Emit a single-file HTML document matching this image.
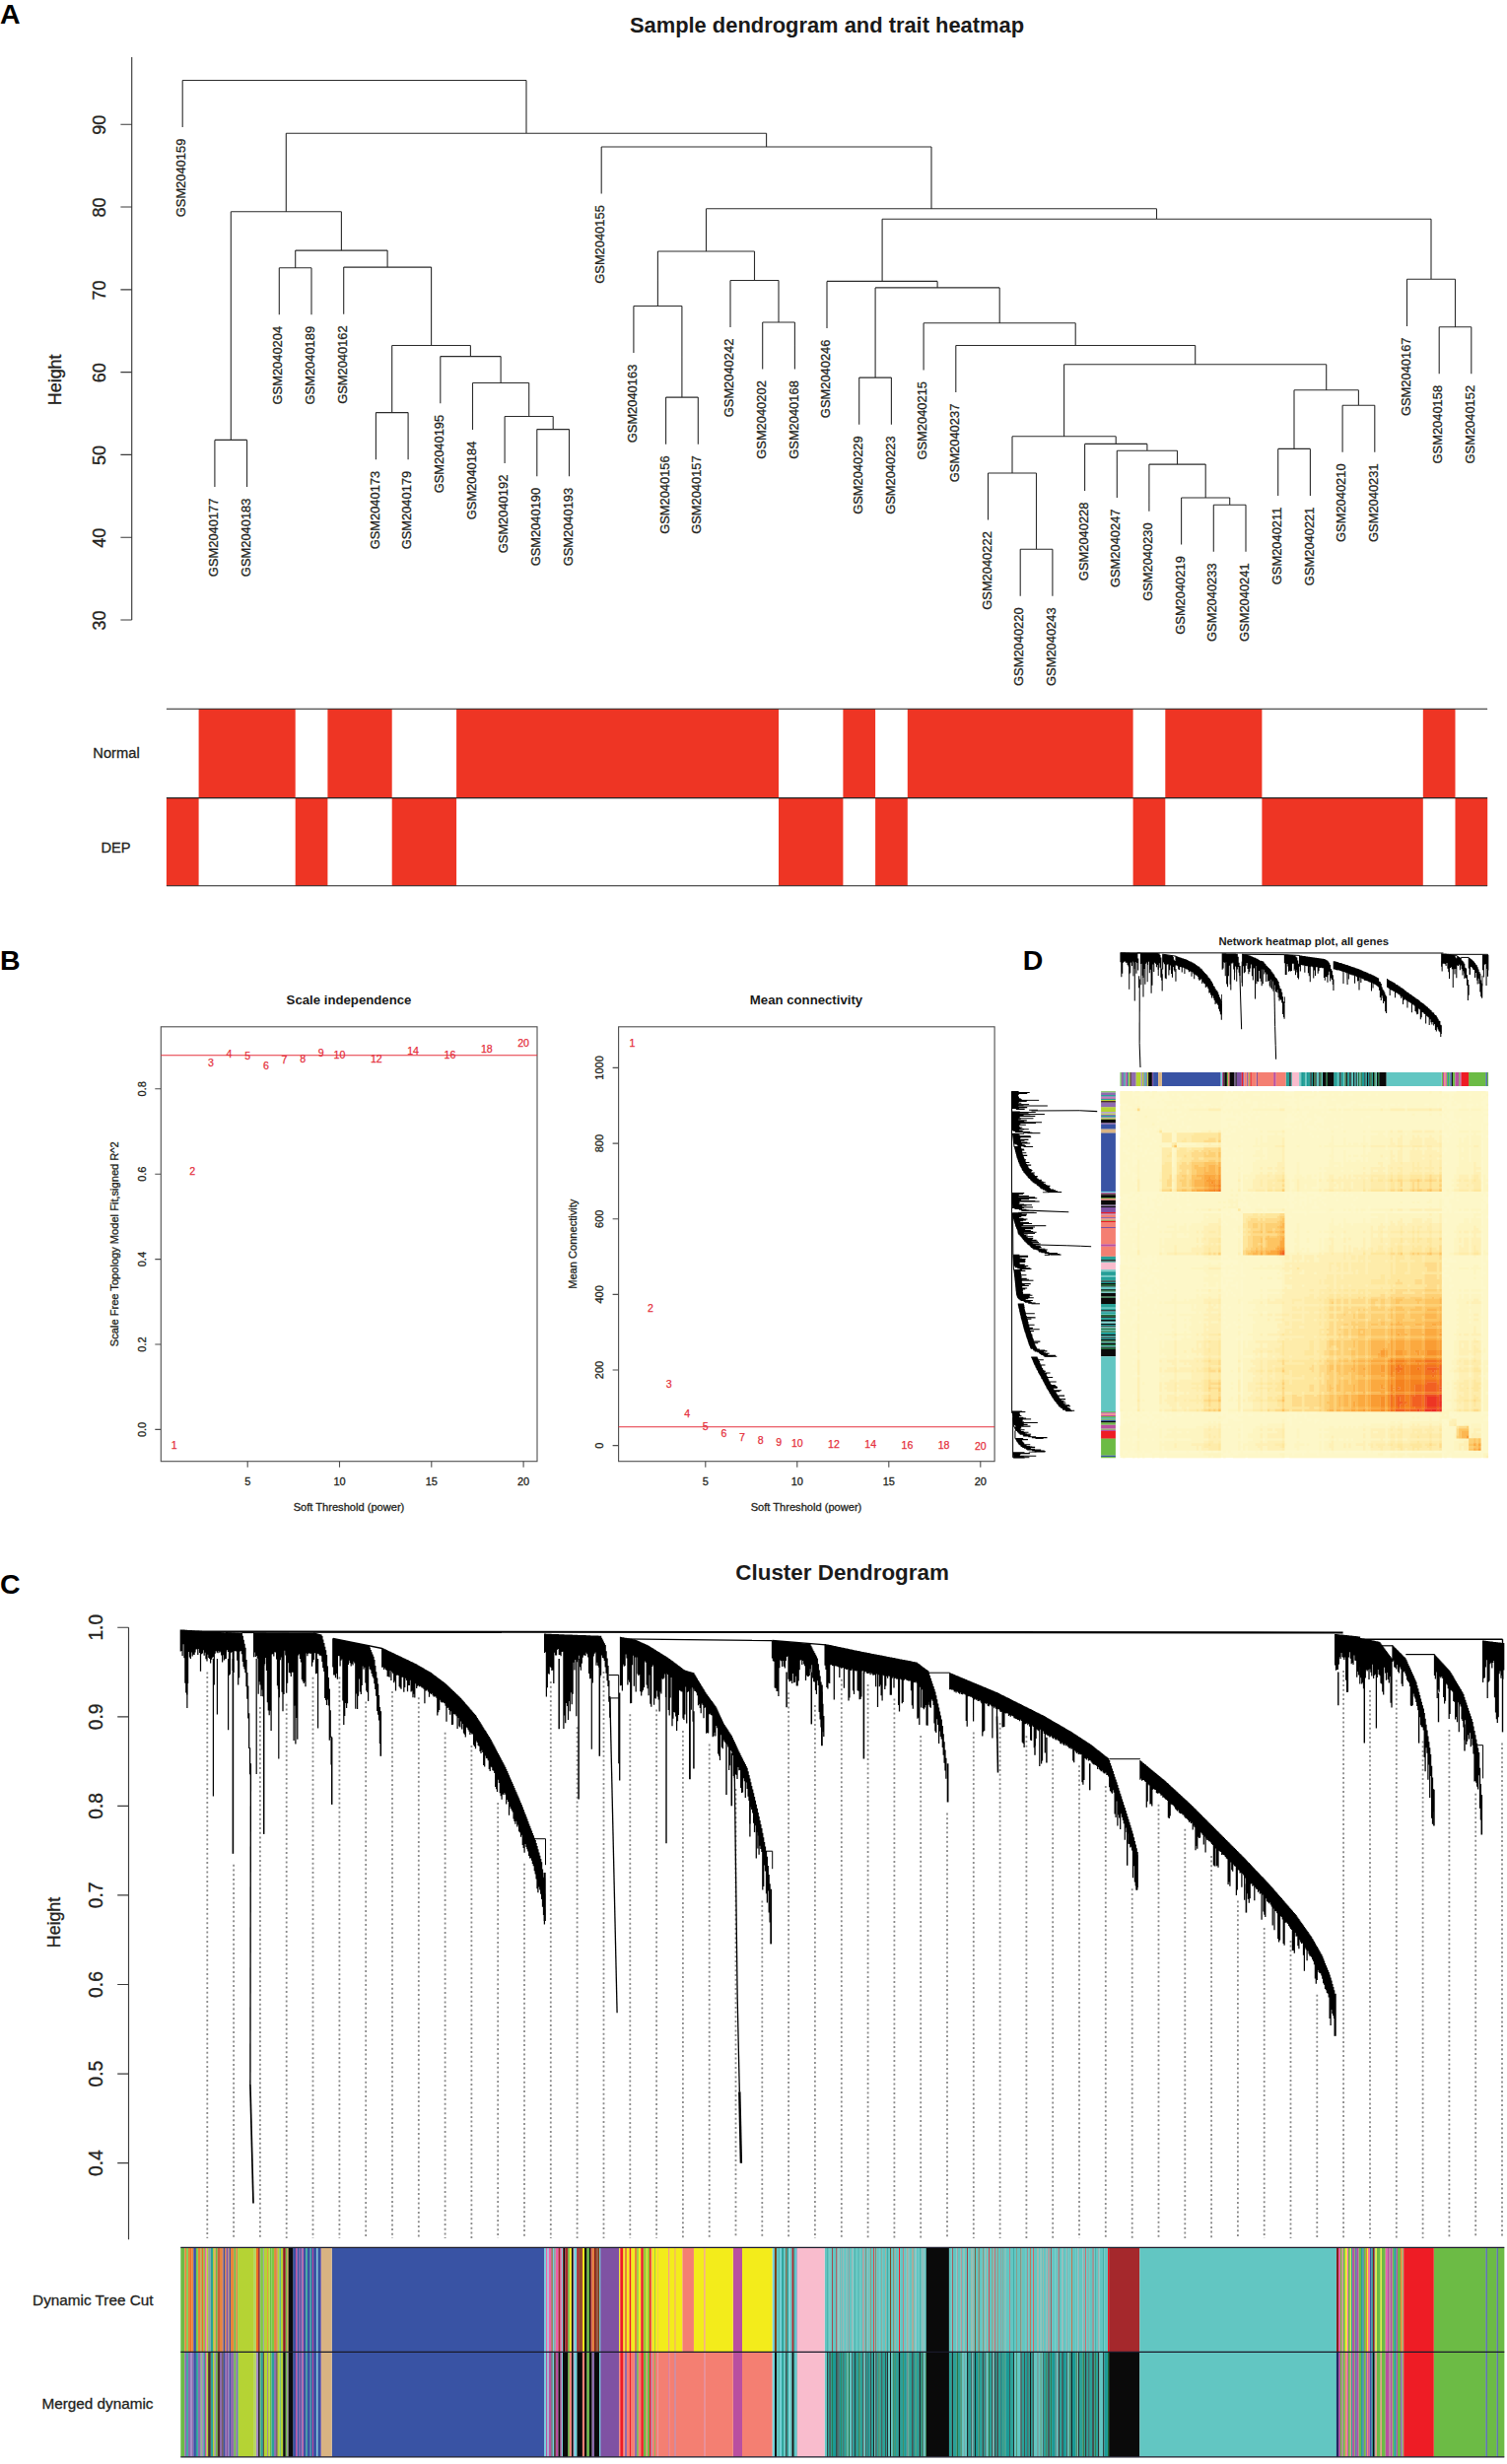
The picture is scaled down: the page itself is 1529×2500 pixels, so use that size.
<!DOCTYPE html>
<html lang="en"><head><meta charset="utf-8"><title>WGCNA figure</title>
<style>html,body{margin:0;padding:0;background:#fff}svg{display:block}text{font-family:"Liberation Sans", Arial, Helvetica, sans-serif}</style></head><body>
<svg width="1529" height="2500" viewBox="0 0 1529 2500">
<rect width="1529" height="2500" fill="#fff"/>
<g id="panelA">
<text x="0.0" y="23.9" font-size="28.5" text-anchor="start" font-weight="bold" fill="#000">A</text>
<text x="839.0" y="33.2" font-size="21.9" text-anchor="middle" font-weight="bold" fill="#1a1a1a">Sample dendrogram and trait heatmap</text>
<path d="M133.7 58V629.0M133.7 629.0h-11.3M133.7 545.2h-11.3M133.7 461.4h-11.3M133.7 377.6h-11.3M133.7 293.8h-11.3M133.7 210.0h-11.3M133.7 126.2h-11.3" stroke="#3a3a3a" stroke-width="1.15" fill="none"/>
<text x="107.3" y="629.6" font-size="18.0" text-anchor="middle" stroke="#231f20" stroke-width="0.3" transform="rotate(-90 107.3 629.6)" fill="#231f20">30</text>
<text x="107.3" y="545.8" font-size="18.0" text-anchor="middle" stroke="#231f20" stroke-width="0.3" transform="rotate(-90 107.3 545.8)" fill="#231f20">40</text>
<text x="107.3" y="462.0" font-size="18.0" text-anchor="middle" stroke="#231f20" stroke-width="0.3" transform="rotate(-90 107.3 462.0)" fill="#231f20">50</text>
<text x="107.3" y="378.2" font-size="18.0" text-anchor="middle" stroke="#231f20" stroke-width="0.3" transform="rotate(-90 107.3 378.2)" fill="#231f20">60</text>
<text x="107.3" y="294.4" font-size="18.0" text-anchor="middle" stroke="#231f20" stroke-width="0.3" transform="rotate(-90 107.3 294.4)" fill="#231f20">70</text>
<text x="107.3" y="210.6" font-size="18.0" text-anchor="middle" stroke="#231f20" stroke-width="0.3" transform="rotate(-90 107.3 210.6)" fill="#231f20">80</text>
<text x="107.3" y="126.8" font-size="18.0" text-anchor="middle" stroke="#231f20" stroke-width="0.3" transform="rotate(-90 107.3 126.8)" fill="#231f20">90</text>
<text x="62.2" y="385.3" font-size="17.9" text-anchor="middle" stroke="#231f20" stroke-width="0.3" transform="rotate(-90 62.2 385.3)" fill="#231f20">Height</text>
<path d="M185.2 81.5V129.1M217.9 446.4V494.0M250.6 446.4V494.0M217.9 446.4H250.6M234.3 214.7V446.4M283.3 271.7V319.3M316.0 271.7V319.3M283.3 271.7H316.0M299.7 254.1V271.7M348.7 271.1V318.7M381.4 418.6V466.2M414.1 418.6V466.2M381.4 418.6H414.1M397.7 350.5V418.6M446.8 361.6V409.2M479.5 388.5V436.1M512.1 422.5V470.1M544.8 435.6V483.2M577.5 435.6V483.2M544.8 435.6H577.5M561.2 422.5V435.6M512.1 422.5H561.2M536.7 388.5V422.5M479.5 388.5H536.7M508.1 361.6V388.5M446.8 361.6H508.1M477.4 350.5V361.6M397.7 350.5H477.4M437.6 271.1V350.5M348.7 271.1H437.6M393.1 254.1V271.1M299.7 254.1H393.1M346.4 214.7V254.1M234.3 214.7H346.4M290.3 135.2V214.7M610.2 149.0V196.6M642.9 310.5V358.1M675.6 403.1V450.7M708.3 403.1V450.7M675.6 403.1H708.3M691.9 310.5V403.1M642.9 310.5H691.9M667.4 255.0V310.5M741.0 284.5V332.1M773.7 327.0V374.6M806.4 327.0V374.6M773.7 327.0H806.4M790.0 284.5V327.0M741.0 284.5H790.0M765.5 255.0V284.5M667.4 255.0H765.5M716.5 211.7V255.0M839.0 285.4V333.0M871.7 383.1V430.7M904.4 383.1V430.7M871.7 383.1H904.4M888.1 291.9V383.1M937.1 327.8V375.4M969.8 350.5V398.1M1002.5 480.0V527.6M1035.2 557.2V604.8M1067.9 557.2V604.8M1035.2 557.2H1067.9M1051.5 480.0V557.2M1002.5 480.0H1051.5M1027.0 442.7V480.0M1100.6 450.4V498.0M1133.3 457.3V504.9M1165.9 471.1V518.7M1198.6 505.0V552.6M1231.3 512.2V559.8M1264.0 512.2V559.8M1231.3 512.2H1264.0M1247.7 505.0V512.2M1198.6 505.0H1247.7M1223.2 471.1V505.0M1165.9 471.1H1223.2M1194.5 457.3V471.1M1133.3 457.3H1194.5M1163.9 450.4V457.3M1100.6 450.4H1163.9M1132.2 442.7V450.4M1027.0 442.7H1132.2M1079.6 369.7V442.7M1296.7 455.4V503.0M1329.4 455.4V503.0M1296.7 455.4H1329.4M1313.0 395.8V455.4M1362.1 411.2V458.8M1394.8 411.2V458.8M1362.1 411.2H1394.8M1378.4 395.8V411.2M1313.0 395.8H1378.4M1345.7 369.7V395.8M1079.6 369.7H1345.7M1212.7 350.5V369.7M969.8 350.5H1212.7M1091.2 327.8V350.5M937.1 327.8H1091.2M1014.2 291.9V327.8M888.1 291.9H1014.2M951.1 285.4V291.9M839.0 285.4H951.1M895.1 222.2V285.4M1427.5 283.3V330.9M1460.2 331.7V379.3M1492.8 331.7V379.3M1460.2 331.7H1492.8M1476.5 283.3V331.7M1427.5 283.3H1476.5M1452.0 222.2V283.3M895.1 222.2H1452.0M1173.5 211.7V222.2M716.5 211.7H1173.5M945.0 149.0V211.7M610.2 149.0H945.0M777.6 135.2V149.0M290.3 135.2H777.6M534.0 81.5V135.2M185.2 81.5H534.0" stroke="#2b2b2b" stroke-width="1.1" fill="none"/>
<g font-size="12.9" text-anchor="end" fill="#231f20" stroke="#231f20" stroke-width="0.3">
<text transform="translate(188.3 140.7) rotate(-90)">GSM2040159</text>
<text transform="translate(221.0 505.6) rotate(-90)">GSM2040177</text>
<text transform="translate(253.7 505.6) rotate(-90)">GSM2040183</text>
<text transform="translate(286.4 330.9) rotate(-90)">GSM2040204</text>
<text transform="translate(319.1 330.9) rotate(-90)">GSM2040189</text>
<text transform="translate(351.8 330.3) rotate(-90)">GSM2040162</text>
<text transform="translate(384.5 477.8) rotate(-90)">GSM2040173</text>
<text transform="translate(417.2 477.8) rotate(-90)">GSM2040179</text>
<text transform="translate(449.9 420.8) rotate(-90)">GSM2040195</text>
<text transform="translate(482.6 447.7) rotate(-90)">GSM2040184</text>
<text transform="translate(515.2 481.7) rotate(-90)">GSM2040192</text>
<text transform="translate(547.9 494.8) rotate(-90)">GSM2040190</text>
<text transform="translate(580.6 494.8) rotate(-90)">GSM2040193</text>
<text transform="translate(613.3 208.2) rotate(-90)">GSM2040155</text>
<text transform="translate(646.0 369.7) rotate(-90)">GSM2040163</text>
<text transform="translate(678.7 462.3) rotate(-90)">GSM2040156</text>
<text transform="translate(711.4 462.3) rotate(-90)">GSM2040157</text>
<text transform="translate(744.1 343.7) rotate(-90)">GSM2040242</text>
<text transform="translate(776.8 386.2) rotate(-90)">GSM2040202</text>
<text transform="translate(809.5 386.2) rotate(-90)">GSM2040168</text>
<text transform="translate(842.1 344.6) rotate(-90)">GSM2040246</text>
<text transform="translate(874.8 442.3) rotate(-90)">GSM2040229</text>
<text transform="translate(907.5 442.3) rotate(-90)">GSM2040223</text>
<text transform="translate(940.2 387.0) rotate(-90)">GSM2040215</text>
<text transform="translate(972.9 409.7) rotate(-90)">GSM2040237</text>
<text transform="translate(1005.6 539.2) rotate(-90)">GSM2040222</text>
<text transform="translate(1038.3 616.4) rotate(-90)">GSM2040220</text>
<text transform="translate(1071.0 616.4) rotate(-90)">GSM2040243</text>
<text transform="translate(1103.7 509.6) rotate(-90)">GSM2040228</text>
<text transform="translate(1136.4 516.5) rotate(-90)">GSM2040247</text>
<text transform="translate(1169.0 530.3) rotate(-90)">GSM2040230</text>
<text transform="translate(1201.7 564.2) rotate(-90)">GSM2040219</text>
<text transform="translate(1234.4 571.4) rotate(-90)">GSM2040233</text>
<text transform="translate(1267.1 571.4) rotate(-90)">GSM2040241</text>
<text transform="translate(1299.8 514.6) rotate(-90)">GSM2040211</text>
<text transform="translate(1332.5 514.6) rotate(-90)">GSM2040221</text>
<text transform="translate(1365.2 470.4) rotate(-90)">GSM2040210</text>
<text transform="translate(1397.9 470.4) rotate(-90)">GSM2040231</text>
<text transform="translate(1430.6 342.5) rotate(-90)">GSM2040167</text>
<text transform="translate(1463.3 390.9) rotate(-90)">GSM2040158</text>
<text transform="translate(1495.9 390.9) rotate(-90)">GSM2040152</text>
</g>
<path d="M201.6 719.3H299.7V809.6H201.6zM332.4 719.3H397.7V809.6H332.4zM463.1 719.3H790.0V809.6H463.1zM855.4 719.3H888.1V809.6H855.4zM920.8 719.3H1149.6V809.6H920.8zM1182.3 719.3H1280.4V809.6H1182.3zM1443.8 719.3H1476.5V809.6H1443.8zM168.9 809.6H201.6V898.8H168.9zM299.7 809.6H332.4V898.8H299.7zM397.7 809.6H463.1V898.8H397.7zM790.0 809.6H855.4V898.8H790.0zM888.1 809.6H920.8V898.8H888.1zM1149.6 809.6H1182.3V898.8H1149.6zM1280.4 809.6H1443.8V898.8H1280.4zM1476.5 809.6H1509.2V898.8H1476.5z" fill="#ee3524"/>
<path d="M168.9 719.3H1509.1M168.9 809.6H1509.1M168.9 898.8H1509.1" stroke="#222" stroke-width="1.1" fill="none"/>
<text x="118.0" y="769.3" font-size="14.7" text-anchor="middle" stroke="#231f20" stroke-width="0.3" fill="#231f20">Normal</text>
<text x="117.5" y="865.0" font-size="14.7" text-anchor="middle" stroke="#231f20" stroke-width="0.3" fill="#231f20">DEP</text>
</g>
<g id="panelB">
<text x="0.0" y="984.4" font-size="28.5" text-anchor="start" font-weight="bold" fill="#000">B</text>
<rect x="163.3" y="1041.8" width="381.7" height="440.9" fill="none" stroke="#4d4d4d" stroke-width="1.1"/>
<text x="251.2" y="1506.7" font-size="11" text-anchor="middle" stroke="#231f20" stroke-width="0.3" fill="#231f20">5</text>
<text x="344.5" y="1506.7" font-size="11" text-anchor="middle" stroke="#231f20" stroke-width="0.3" fill="#231f20">10</text>
<text x="437.8" y="1506.7" font-size="11" text-anchor="middle" stroke="#231f20" stroke-width="0.3" fill="#231f20">15</text>
<text x="531.1" y="1506.7" font-size="11" text-anchor="middle" stroke="#231f20" stroke-width="0.3" fill="#231f20">20</text>
<text x="147.6" y="1450.4" font-size="11" text-anchor="middle" stroke="#231f20" stroke-width="0.3" transform="rotate(-90 147.6 1450.4)" fill="#231f20">0.0</text>
<text x="147.6" y="1364.0" font-size="11" text-anchor="middle" stroke="#231f20" stroke-width="0.3" transform="rotate(-90 147.6 1364.0)" fill="#231f20">0.2</text>
<text x="147.6" y="1277.6" font-size="11" text-anchor="middle" stroke="#231f20" stroke-width="0.3" transform="rotate(-90 147.6 1277.6)" fill="#231f20">0.4</text>
<text x="147.6" y="1191.2" font-size="11" text-anchor="middle" stroke="#231f20" stroke-width="0.3" transform="rotate(-90 147.6 1191.2)" fill="#231f20">0.6</text>
<text x="147.6" y="1104.8" font-size="11" text-anchor="middle" stroke="#231f20" stroke-width="0.3" transform="rotate(-90 147.6 1104.8)" fill="#231f20">0.8</text>
<path d="M251.2 1482.7v6M344.5 1482.7v6M437.8 1482.7v6M531.1 1482.7v6M163.3 1450.4h-6M163.3 1364.0h-6M163.3 1277.6h-6M163.3 1191.2h-6M163.3 1104.8h-6" stroke="#4d4d4d" stroke-width="1.1" fill="none"/>
<text x="354.0" y="1019.3" font-size="13.2" text-anchor="middle" font-weight="bold" fill="#1a1a1a">Scale independence</text>
<text x="354.0" y="1533.3" font-size="11.1" text-anchor="middle" stroke="#231f20" stroke-width="0.3" fill="#231f20">Soft Threshold (power)</text>
<text x="120.5" y="1262.2" font-size="11.1" text-anchor="middle" stroke="#231f20" stroke-width="0.3" transform="rotate(-90 120.5 1262.2)" fill="#231f20">Scale Free Topology Model Fit,signed R^2</text>
<path d="M163.3 1070.7H545.0" stroke="#e5303c" stroke-width="1.1"/>
<g font-size="10.6" text-anchor="middle" fill="#e5303c" stroke="#e5303c" stroke-width="0.25">
<text x="176.6" y="1470.1">1</text>
<text x="195.2" y="1192.2">2</text>
<text x="213.9" y="1082.0">3</text>
<text x="232.5" y="1073.2">4</text>
<text x="251.2" y="1074.8">5</text>
<text x="269.9" y="1084.8">6</text>
<text x="288.5" y="1078.8">7</text>
<text x="307.2" y="1078.4">8</text>
<text x="325.8" y="1072.0">9</text>
<text x="344.5" y="1073.6">10</text>
<text x="381.8" y="1077.6">12</text>
<text x="419.1" y="1069.6">14</text>
<text x="456.5" y="1074.4">16</text>
<text x="493.8" y="1068.0">18</text>
<text x="531.1" y="1062.0">20</text>
</g>
<rect x="627.6" y="1041.8" width="381.5" height="440.9" fill="none" stroke="#4d4d4d" stroke-width="1.1"/>
<text x="715.8" y="1506.7" font-size="11" text-anchor="middle" stroke="#231f20" stroke-width="0.3" fill="#231f20">5</text>
<text x="808.8" y="1506.7" font-size="11" text-anchor="middle" stroke="#231f20" stroke-width="0.3" fill="#231f20">10</text>
<text x="901.8" y="1506.7" font-size="11" text-anchor="middle" stroke="#231f20" stroke-width="0.3" fill="#231f20">15</text>
<text x="994.8" y="1506.7" font-size="11" text-anchor="middle" stroke="#231f20" stroke-width="0.3" fill="#231f20">20</text>
<text x="611.6" y="1466.6" font-size="11" text-anchor="middle" stroke="#231f20" stroke-width="0.3" transform="rotate(-90 611.6 1466.6)" fill="#231f20">0</text>
<text x="611.6" y="1390.0" font-size="11" text-anchor="middle" stroke="#231f20" stroke-width="0.3" transform="rotate(-90 611.6 1390.0)" fill="#231f20">200</text>
<text x="611.6" y="1313.4" font-size="11" text-anchor="middle" stroke="#231f20" stroke-width="0.3" transform="rotate(-90 611.6 1313.4)" fill="#231f20">400</text>
<text x="611.6" y="1236.7" font-size="11" text-anchor="middle" stroke="#231f20" stroke-width="0.3" transform="rotate(-90 611.6 1236.7)" fill="#231f20">600</text>
<text x="611.6" y="1160.1" font-size="11" text-anchor="middle" stroke="#231f20" stroke-width="0.3" transform="rotate(-90 611.6 1160.1)" fill="#231f20">800</text>
<text x="611.6" y="1083.4" font-size="11" text-anchor="middle" stroke="#231f20" stroke-width="0.3" transform="rotate(-90 611.6 1083.4)" fill="#231f20">1000</text>
<path d="M715.8 1482.7v6M808.8 1482.7v6M901.8 1482.7v6M994.8 1482.7v6M627.6 1466.6h-6M627.6 1390.0h-6M627.6 1313.4h-6M627.6 1236.7h-6M627.6 1160.1h-6M627.6 1083.4h-6" stroke="#4d4d4d" stroke-width="1.1" fill="none"/>
<text x="818.0" y="1019.3" font-size="13.2" text-anchor="middle" font-weight="bold" fill="#1a1a1a">Mean connectivity</text>
<text x="818.0" y="1533.3" font-size="11.1" text-anchor="middle" stroke="#231f20" stroke-width="0.3" fill="#231f20">Soft Threshold (power)</text>
<text x="585.3" y="1262.2" font-size="11.1" text-anchor="middle" stroke="#231f20" stroke-width="0.3" transform="rotate(-90 585.3 1262.2)" fill="#231f20">Mean Connectivity</text>
<path d="M627.6 1447.7H1009.1" stroke="#e5303c" stroke-width="1.1"/>
<g font-size="10.6" text-anchor="middle" fill="#e5303c" stroke="#e5303c" stroke-width="0.25">
<text x="641.4" y="1062.0">1</text>
<text x="660.0" y="1331.1">2</text>
<text x="678.6" y="1408.4">3</text>
<text x="697.2" y="1437.6">4</text>
<text x="715.8" y="1451.2">5</text>
<text x="734.4" y="1458.2">6</text>
<text x="753.0" y="1461.8">7</text>
<text x="771.6" y="1464.5">8</text>
<text x="790.2" y="1466.5">9</text>
<text x="808.8" y="1467.5">10</text>
<text x="846.0" y="1468.8">12</text>
<text x="883.2" y="1469.4">14</text>
<text x="920.4" y="1469.8">16</text>
<text x="957.6" y="1470.4">18</text>
<text x="994.8" y="1470.8">20</text>
</g>
</g>
<g id="panelC">
<text x="0.0" y="1617.4" font-size="28.5" text-anchor="start" font-weight="bold" fill="#000">C</text>
<text x="854.6" y="1603.2" font-size="22.4" text-anchor="middle" font-weight="bold" fill="#1a1a1a">Cluster Dendrogram</text>
<path d="M130.5 1651.2V2272.3M130.5 2194.6h-11.3M130.5 2104.1h-11.3M130.5 2013.5h-11.3M130.5 1922.9h-11.3M130.5 1832.3h-11.3M130.5 1741.8h-11.3M130.5 1651.2h-11.3" stroke="#3a3a3a" stroke-width="1.15" fill="none"/>
<text x="103.8" y="2194.6" font-size="19.3" text-anchor="middle" stroke="#231f20" stroke-width="0.3" transform="rotate(-90 103.8 2194.6)" fill="#231f20">0.4</text>
<text x="103.8" y="2104.1" font-size="19.3" text-anchor="middle" stroke="#231f20" stroke-width="0.3" transform="rotate(-90 103.8 2104.1)" fill="#231f20">0.5</text>
<text x="103.8" y="2013.5" font-size="19.3" text-anchor="middle" stroke="#231f20" stroke-width="0.3" transform="rotate(-90 103.8 2013.5)" fill="#231f20">0.6</text>
<text x="103.8" y="1922.9" font-size="19.3" text-anchor="middle" stroke="#231f20" stroke-width="0.3" transform="rotate(-90 103.8 1922.9)" fill="#231f20">0.7</text>
<text x="103.8" y="1832.3" font-size="19.3" text-anchor="middle" stroke="#231f20" stroke-width="0.3" transform="rotate(-90 103.8 1832.3)" fill="#231f20">0.8</text>
<text x="103.8" y="1741.8" font-size="19.3" text-anchor="middle" stroke="#231f20" stroke-width="0.3" transform="rotate(-90 103.8 1741.8)" fill="#231f20">0.9</text>
<text x="103.8" y="1651.2" font-size="19.3" text-anchor="middle" stroke="#231f20" stroke-width="0.3" transform="rotate(-90 103.8 1651.2)" fill="#231f20">1.0</text>
<text x="60.5" y="1950.5" font-size="17.8" text-anchor="middle" stroke="#231f20" stroke-width="0.3" transform="rotate(-90 60.5 1950.5)" fill="#231f20">Height</text>
<path d="M210.3 1696.4V2271M237.1 1891.8V2271M263.9 1731.9V2271M290.7 1728.7V2271M317.5 1701.7V2271M344.4 1701.5V2271M371.2 1726.4V2271M398.0 1715.9V2271M424.8 1722.2V2271M451.6 1757.8V2271M478.4 1770.9V2271M505.2 1828.9V2271M532.0 1890.8V2271M558.8 1706.1V2271M585.6 1752.2V2271M612.5 1696.1V2271M639.3 1739.3V2271M666.1 1734.5V2271M692.9 1756.0V2271M719.7 1769.5V2271M746.5 1815.0V2271M773.3 1928.4V2271M800.1 1717.3V2271M826.9 1730.1V2271M853.8 1703.8V2271M880.6 1708.9V2271M907.4 1723.4V2271M934.2 1760.9V2271M961.0 1839.5V2271M987.8 1757.4V2271M1014.6 1748.0V2271M1041.4 1761.3V2271M1068.2 1775.3V2271M1095.0 1791.3V2271M1121.8 1811.9V2271M1148.7 1916.3V2271M1175.5 1830.7V2271M1202.3 1855.7V2271M1229.1 1882.9V2271M1255.9 1928.5V2271M1282.7 1955.9V2271M1309.5 1968.9V2271M1336.3 2023.7V2271M1363.1 1694.9V2271M1390.0 1715.1V2271M1416.8 1704.5V2271M1443.6 1766.5V2271M1470.4 1755.0V2271M1497.2 1819.8V2271M1524.0 1768.4V2271" stroke="#8a8a8a" stroke-width="1.8" stroke-dasharray="2 2.7" fill="none"/>
<g id="dendro"><path d="M183.3 1653.4V1675.5M184.2 1653.4V1674.9M185.1 1653.5V1679.9M186.0 1653.5V1668.3M187.0 1653.6V1682.2M187.9 1653.7V1707.7M188.8 1653.7V1717.6M189.7 1653.8V1719.5M190.6 1653.9V1708.1M191.6 1653.9V1676.1M192.5 1654.0V1681.5M193.4 1654.1V1682.9M194.3 1654.1V1676.6M195.2 1654.2V1680.4M196.2 1654.2V1678.8M197.1 1654.3V1679.0M198.0 1654.4V1676.5M198.9 1654.4V1673.6M199.8 1654.5V1673.3M200.8 1654.6V1679.0M201.7 1654.6V1673.0M202.6 1654.7V1676.9M203.5 1654.7V1695.8M204.4 1654.8V1678.3M205.4 1654.9V1677.4M206.3 1654.9V1674.2M207.2 1655.0V1679.8M208.1 1655.1V1676.8M209.0 1655.1V1683.3M210.0 1655.2V1685.4M210.9 1655.3V1678.8M211.8 1655.3V1681.9M212.7 1655.4V1683.0M213.6 1655.4V1687.4M214.6 1655.5V1683.8M215.5 1655.6V1681.7M216.4 1655.6V1681.0M217.3 1655.7V1709.6M218.2 1655.8V1677.7M219.2 1655.8V1674.9M220.1 1655.9V1676.6M221.0 1655.9V1677.2M221.9 1656.0V1675.0M222.8 1656.1V1676.8M223.8 1656.1V1675.8M224.7 1656.2V1679.5M225.6 1656.3V1686.4M226.5 1656.3V1679.3M227.4 1656.4V1684.6M228.4 1656.4V1683.2M229.3 1656.5V1683.1M229.7 1656.0V1675.5M230.6 1656.1V1674.0M231.6 1656.2V1676.0M232.5 1656.2V1699.8M233.4 1656.3V1698.8M234.3 1656.3V1676.8M235.2 1656.4V1676.3M236.2 1656.5V1695.0M237.1 1656.5V1696.9M238.0 1656.6V1675.3M238.9 1656.7V1675.3M239.8 1656.7V1675.4M240.8 1656.8V1684.8M241.7 1656.8V1709.4M242.6 1656.9V1702.2M243.5 1657.0V1675.5M244.4 1657.0V1675.0M245.4 1657.1V1678.2M246.3 1659.8V1686.0M247.2 1663.8V1691.1M248.1 1667.8V1693.5M249.0 1671.7V1697.3M250.0 1684.1V1711.3M250.9 1696.9V1723.8M251.8 1710.6V1743.5M252.7 1738.2V1774.1M253.6 1773.2V1800.3M257.6 1656.5V1681.2M258.5 1656.6V1676.4M259.4 1656.6V1680.9M260.4 1656.6V1680.1M261.3 1656.6V1682.7M262.2 1656.6V1718.7M263.1 1656.6V1706.2M264.0 1656.6V1709.5M265.0 1656.6V1720.9M265.9 1656.6V1714.4M266.8 1656.6V1721.3M267.7 1656.6V1690.1M268.6 1656.6V1688.3M269.6 1656.6V1682.1M270.5 1656.7V1695.1M271.4 1656.7V1727.3M272.3 1656.7V1735.5M273.2 1656.7V1740.2M274.2 1656.7V1735.8M275.1 1656.7V1755.9M276.0 1656.7V1678.6M276.9 1656.7V1677.9M277.8 1656.7V1680.6M278.8 1656.7V1676.3M279.7 1656.7V1676.6M280.6 1656.7V1683.5M281.5 1656.8V1710.2M282.4 1656.8V1713.8M283.4 1656.8V1722.3M284.3 1656.8V1684.3M285.2 1656.8V1681.4M286.1 1656.8V1716.8M287.0 1656.8V1736.3M288.0 1656.8V1719.0M288.9 1656.8V1674.8M289.8 1656.8V1679.6M290.7 1656.8V1717.7M291.6 1656.8V1707.7M292.6 1656.8V1687.2M293.5 1656.9V1696.9M294.4 1656.9V1697.6M295.3 1656.9V1700.9M296.2 1656.9V1696.7M297.2 1656.9V1696.7M298.1 1656.9V1766.0M299.0 1656.9V1730.6M299.9 1656.9V1769.6M300.8 1656.9V1743.0M301.8 1656.9V1764.7M302.7 1656.9V1679.5M303.6 1656.9V1678.2M304.5 1657.0V1682.9M305.4 1657.0V1686.4M306.4 1657.0V1704.1M307.3 1657.0V1705.9M308.2 1657.0V1708.1M309.1 1657.0V1706.4M310.0 1657.0V1711.3M311.0 1657.0V1677.5M311.9 1657.0V1680.2M312.8 1657.0V1678.1M313.7 1657.0V1677.0M314.6 1657.0V1677.7M315.6 1657.0V1677.8M316.5 1657.1V1690.7M317.4 1657.1V1686.5M318.3 1657.1V1684.0M318.6 1656.6V1677.8M319.6 1656.8V1676.9M320.5 1657.1V1698.3M321.4 1657.3V1697.8M322.3 1657.6V1677.8M323.2 1657.8V1678.3M324.2 1658.0V1679.7M325.1 1658.3V1679.5M326.0 1658.5V1680.2M326.9 1659.9V1686.1M327.8 1663.5V1692.3M328.8 1667.1V1696.0M329.7 1670.7V1723.0M330.6 1674.2V1725.1M331.5 1679.0V1730.0M332.4 1690.5V1724.6M333.4 1702.0V1730.5M334.3 1713.5V1765.7M335.2 1735.3V1762.8M336.1 1761.8V1790.6M337.8 1662.4V1691.5M338.7 1662.6V1699.6M339.6 1662.8V1699.5M340.5 1662.9V1702.3M341.4 1663.1V1698.0M342.4 1663.3V1703.8M343.3 1663.5V1679.9M344.2 1663.7V1680.2M345.1 1663.9V1690.5M346.0 1664.1V1684.7M347.0 1664.2V1683.5M347.9 1664.4V1725.5M348.8 1664.6V1749.9M349.7 1664.8V1741.0M350.6 1665.0V1727.9M351.6 1665.2V1733.0M352.5 1665.4V1728.2M353.4 1665.6V1689.0M354.3 1665.7V1684.8M355.2 1665.9V1687.2M356.2 1666.1V1690.6M357.1 1666.3V1687.9M358.0 1666.5V1689.6M358.9 1666.7V1685.8M359.8 1666.9V1687.5M360.8 1667.0V1733.8M361.7 1667.2V1718.5M362.6 1667.4V1734.1M363.5 1667.6V1720.7M364.4 1667.8V1703.6M365.4 1668.0V1716.6M366.3 1668.2V1719.0M367.2 1668.4V1709.9M368.1 1668.5V1690.4M369.0 1668.7V1693.8M370.0 1668.9V1691.8M370.9 1669.1V1707.5M371.8 1669.3V1715.4M372.7 1669.5V1717.0M373.6 1669.7V1726.1M374.4 1669.3V1690.8M375.3 1671.6V1693.6M376.2 1673.9V1694.6M377.1 1676.2V1698.1M378.1 1678.5V1700.9M379.0 1680.8V1702.8M379.9 1684.0V1708.3M380.8 1690.1V1714.1M381.7 1696.3V1720.8M382.7 1702.4V1736.0M383.6 1708.5V1739.7M384.5 1719.9V1745.4M385.4 1731.9V1769.0M387.7 1671.9V1691.7M388.6 1672.3V1691.6M389.5 1672.7V1694.1M390.5 1673.2V1692.4M391.4 1673.6V1693.9M392.3 1674.0V1694.8M393.2 1674.5V1700.9M394.1 1674.9V1701.0M395.1 1675.4V1701.8M396.0 1675.8V1695.0M396.9 1676.2V1704.9M397.8 1676.7V1696.3M398.7 1677.1V1697.8M399.7 1677.5V1707.3M400.6 1678.0V1705.4M401.5 1678.4V1715.4M402.4 1678.9V1699.7M403.3 1679.3V1699.4M404.3 1679.7V1700.0M405.2 1680.2V1711.2M406.1 1680.6V1712.4M407.0 1681.0V1713.8M407.9 1681.5V1701.7M408.9 1681.9V1701.8M409.8 1682.4V1716.7M410.7 1682.8V1712.0M411.6 1683.3V1702.8M412.5 1683.7V1704.9M413.5 1684.1V1716.3M414.4 1684.6V1710.1M415.3 1685.0V1710.1M416.2 1685.5V1704.7M417.1 1685.9V1716.6M418.1 1686.3V1715.5M419.0 1686.8V1722.2M419.9 1687.2V1718.7M420.8 1687.7V1722.4M421.7 1688.1V1708.2M422.7 1688.6V1712.9M423.6 1689.2V1710.7M424.5 1689.7V1710.1M425.4 1690.2V1711.2M426.3 1690.7V1710.7M427.3 1691.3V1711.5M428.2 1691.8V1712.5M429.1 1692.3V1712.6M430.0 1692.8V1713.8M430.9 1693.4V1728.3M431.9 1693.9V1715.6M432.8 1694.4V1715.4M433.7 1694.9V1714.4M434.6 1695.5V1716.5M435.5 1696.0V1721.7M436.5 1696.5V1718.1M437.4 1697.1V1718.9M438.3 1697.8V1718.2M439.2 1698.5V1720.2M440.1 1699.2V1721.4M441.1 1699.9V1721.6M442.0 1700.6V1721.3M442.9 1701.3V1722.7M443.8 1702.0V1740.5M444.7 1702.7V1737.2M445.7 1703.3V1734.9M446.6 1704.0V1724.8M447.5 1704.7V1726.8M448.4 1705.4V1727.6M449.3 1706.1V1727.1M450.3 1706.8V1727.7M451.2 1707.5V1728.2M452.1 1708.2V1730.7M453.0 1709.0V1746.8M453.9 1709.9V1733.1M454.9 1710.8V1732.4M455.8 1711.7V1735.1M456.7 1712.5V1739.7M457.6 1713.4V1736.3M458.5 1714.3V1749.9M459.5 1715.2V1749.7M460.4 1716.0V1739.1M461.3 1716.9V1739.5M462.2 1717.8V1739.5M463.1 1718.7V1741.3M464.1 1719.5V1754.1M465.0 1720.4V1742.9M465.9 1721.3V1751.4M466.8 1722.2V1752.6M467.7 1723.1V1746.4M468.7 1724.2V1754.4M469.6 1725.2V1748.9M470.5 1726.3V1758.5M471.4 1727.3V1759.8M472.3 1728.4V1762.4M473.3 1729.5V1752.5M474.2 1730.5V1753.3M475.1 1731.6V1754.9M476.0 1732.6V1756.7M476.9 1733.7V1759.9M477.9 1734.7V1758.0M478.8 1735.8V1759.5M479.7 1736.9V1759.6M480.6 1737.9V1770.4M481.5 1739.0V1772.0M482.5 1740.0V1774.2M483.4 1741.4V1766.6M484.3 1742.9V1767.9M485.2 1744.4V1770.9M486.1 1745.8V1771.8M487.1 1747.3V1777.1M488.0 1748.8V1778.9M488.9 1750.3V1775.7M489.8 1751.7V1778.0M490.7 1753.2V1791.1M491.7 1754.7V1792.5M492.6 1756.1V1781.6M493.5 1757.6V1783.9M494.4 1759.1V1784.3M495.3 1760.6V1786.2M496.3 1762.0V1794.9M497.2 1763.5V1797.0M498.1 1765.0V1792.4M499.0 1766.8V1793.3M499.9 1768.5V1796.3M500.9 1770.3V1796.7M501.8 1772.0V1799.0M502.7 1773.8V1813.1M503.6 1775.5V1815.3M504.5 1777.3V1817.9M505.5 1779.0V1805.8M506.4 1780.8V1808.9M507.3 1782.5V1819.3M508.2 1784.3V1822.3M509.1 1786.0V1825.7M510.1 1787.8V1820.6M511.0 1789.5V1821.0M511.9 1791.3V1819.0M512.8 1793.0V1820.8M513.7 1795.0V1830.4M514.7 1797.1V1826.1M515.6 1799.2V1828.1M516.5 1801.3V1841.7M517.4 1803.5V1833.1M518.3 1805.6V1835.0M519.3 1807.7V1836.7M520.2 1809.8V1838.5M521.1 1811.9V1845.4M522.0 1814.0V1848.1M522.9 1816.2V1850.8M523.9 1818.3V1847.7M524.8 1820.4V1853.4M525.7 1822.5V1851.5M526.6 1824.6V1858.3M527.5 1826.7V1859.3M528.5 1828.9V1863.8M529.4 1831.3V1861.8M530.3 1833.6V1871.9M531.2 1836.0V1874.9M532.1 1838.4V1879.8M533.1 1840.8V1871.1M534.0 1843.2V1874.0M534.9 1845.6V1876.3M535.8 1848.0V1878.4M536.7 1850.4V1883.1M537.7 1852.8V1885.4M538.6 1855.2V1885.3M539.5 1857.6V1887.8M540.4 1860.0V1890.9M541.3 1862.3V1893.2M542.3 1864.7V1898.3M543.2 1867.1V1901.6M544.1 1869.9V1906.6M545.0 1873.1V1916.3M545.9 1876.3V1920.3M546.9 1879.6V1914.5M547.8 1882.8V1917.5M548.7 1886.0V1921.7M549.6 1889.2V1926.9M550.5 1896.5V1934.8M551.5 1904.7V1942.9M552.4 1912.8V1952.6M552.6 1657.6V1676.9M553.5 1657.6V1676.0M554.4 1657.7V1721.6M555.3 1657.7V1712.2M556.2 1657.7V1698.1M557.2 1657.8V1698.8M558.1 1657.8V1691.0M559.0 1657.8V1691.9M559.9 1657.9V1695.1M560.8 1657.9V1694.4M561.8 1657.9V1708.1M562.7 1658.0V1676.8M563.6 1658.0V1679.5M564.5 1658.0V1679.5M565.4 1658.1V1673.7M566.4 1658.1V1672.9M567.3 1658.2V1679.0M568.2 1658.2V1679.1M569.1 1658.2V1680.3M570.0 1658.3V1675.9M571.0 1658.3V1675.7M571.9 1658.3V1754.1M572.8 1658.4V1740.5M573.7 1658.4V1748.3M574.6 1658.4V1728.0M575.6 1658.5V1730.9M576.5 1658.5V1744.9M577.4 1658.5V1725.9M578.3 1658.6V1736.2M579.2 1658.6V1717.2M580.2 1658.6V1729.3M581.1 1658.7V1718.8M582.0 1658.7V1686.7M582.9 1658.7V1694.4M583.8 1658.8V1684.0M584.8 1658.8V1741.2M585.7 1658.8V1686.2M586.6 1658.9V1683.8M587.5 1658.9V1679.7M588.4 1658.9V1691.3M589.4 1659.0V1694.7M590.3 1659.0V1687.8M591.2 1659.0V1681.7M592.1 1659.1V1679.4M593.0 1659.1V1679.3M594.0 1659.1V1679.9M594.9 1659.2V1676.8M595.8 1659.2V1678.3M596.7 1659.2V1681.6M597.6 1659.3V1698.0M598.6 1659.3V1703.2M599.5 1659.4V1702.7M600.4 1659.4V1694.9M601.3 1659.4V1707.5M602.2 1659.5V1680.6M603.2 1659.5V1677.8M604.1 1659.5V1676.5M605.0 1659.6V1689.7M605.9 1659.6V1686.8M606.8 1659.6V1690.0M607.8 1659.7V1691.8M608.7 1659.7V1701.9M609.6 1659.7V1698.5M609.6 1660.0V1699.7M610.5 1661.8V1679.6M611.5 1663.6V1682.1M612.4 1665.4V1682.4M613.3 1667.2V1685.1M614.2 1669.0V1691.6M615.1 1675.3V1697.7M616.1 1682.6V1705.2M617.0 1690.0V1710.9M617.9 1705.1V1726.7M618.8 1720.9V1742.8M629.5 1660.8V1710.3M630.5 1661.0V1710.1M631.4 1661.2V1715.4M632.3 1661.3V1688.7M633.2 1661.5V1690.7M634.1 1661.7V1690.0M635.1 1661.8V1678.4M636.0 1662.0V1682.5M636.9 1662.2V1709.6M637.8 1662.3V1704.5M638.7 1662.5V1706.8M639.7 1662.7V1728.3M640.6 1662.8V1728.0M641.5 1663.0V1689.2M642.4 1663.2V1679.8M643.3 1663.3V1710.8M644.3 1663.5V1681.4M645.2 1663.9V1716.4M646.1 1664.3V1681.5M647.0 1664.7V1698.6M647.9 1665.1V1700.3M648.9 1665.6V1699.0M649.8 1666.0V1716.3M650.7 1666.4V1720.5M651.6 1666.8V1716.6M652.5 1667.2V1714.7M653.5 1667.6V1712.0M654.4 1668.0V1685.6M655.3 1668.4V1686.7M656.2 1668.8V1709.4M657.1 1669.2V1713.2M658.1 1669.7V1720.2M659.0 1670.3V1699.5M659.9 1670.9V1728.7M660.8 1671.4V1731.7M661.7 1672.0V1690.9M662.7 1672.6V1689.5M663.6 1673.2V1729.8M664.5 1673.7V1722.9M665.4 1674.3V1723.5M666.3 1674.9V1715.4M667.3 1675.5V1721.4M668.2 1676.0V1724.5M669.1 1676.6V1736.5M670.0 1677.2V1716.4M670.9 1677.8V1718.4M671.9 1678.3V1703.2M672.8 1678.9V1703.7M673.7 1679.5V1702.6M674.6 1680.1V1698.5M675.5 1680.6V1722.0M676.5 1681.2V1697.7M677.4 1681.8V1699.1M678.3 1682.4V1735.1M679.2 1683.0V1740.4M680.1 1683.7V1722.5M681.1 1684.4V1702.0M682.0 1685.1V1751.2M682.9 1685.8V1743.7M683.8 1686.5V1737.1M684.7 1687.2V1737.6M685.7 1687.8V1741.5M686.6 1688.5V1756.0M687.5 1689.2V1746.3M688.4 1689.9V1740.1M689.3 1690.6V1715.1M690.3 1691.3V1715.5M691.2 1692.0V1716.3M692.1 1692.7V1716.6M693.0 1693.4V1743.5M693.9 1694.1V1745.0M694.9 1694.6V1739.5M695.8 1694.9V1711.5M696.7 1695.1V1748.5M697.6 1695.4V1717.1M698.5 1695.7V1715.9M699.5 1695.9V1716.5M700.4 1696.2V1713.5M701.3 1696.5V1734.8M702.2 1696.7V1712.2M703.1 1697.0V1746.7M703.9 1697.2V1713.4M704.8 1698.7V1715.8M705.7 1700.3V1716.0M706.6 1701.8V1717.3M707.5 1703.3V1720.2M708.5 1704.9V1730.2M709.4 1706.4V1729.1M710.3 1707.9V1733.0M711.2 1709.5V1738.2M712.1 1711.0V1728.5M713.1 1712.5V1729.9M714.0 1714.1V1743.2M714.9 1715.6V1732.9M715.8 1717.1V1732.0M716.7 1718.4V1758.7M717.7 1719.6V1757.9M718.6 1720.9V1758.5M719.5 1722.2V1739.2M720.4 1723.4V1738.7M721.3 1724.7V1740.1M722.3 1726.0V1740.6M723.2 1727.2V1762.3M724.1 1728.5V1761.4M725.0 1729.8V1757.7M725.9 1731.0V1761.4M726.9 1732.6V1751.1M727.8 1734.6V1753.3M728.7 1736.6V1779.4M729.6 1738.6V1781.5M730.5 1740.6V1786.1M731.5 1742.6V1760.3M732.4 1744.6V1772.8M733.3 1746.6V1774.2M734.2 1748.6V1765.4M735.1 1750.1V1767.3M736.1 1751.5V1768.3M737.0 1752.8V1768.9M737.9 1754.2V1770.2M738.8 1755.6V1772.5M739.7 1757.0V1796.1M740.7 1758.4V1791.3M741.6 1759.7V1776.1M742.5 1761.2V1777.5M743.4 1763.2V1781.0M744.3 1765.2V1802.0M745.3 1767.2V1804.0M746.2 1769.2V1800.1M747.1 1771.2V1801.1M748.0 1773.2V1805.1M748.9 1775.2V1793.0M749.9 1777.2V1796.2M750.8 1779.1V1795.9M751.7 1780.9V1814.1M752.6 1782.8V1818.9M753.5 1784.6V1818.6M754.5 1786.4V1804.2M755.4 1788.3V1807.2M756.3 1790.1V1824.1M757.2 1792.0V1808.5M758.1 1793.8V1815.1M759.1 1797.2V1822.8M760.0 1800.9V1826.9M760.9 1804.6V1850.6M761.8 1808.3V1833.4M762.7 1811.9V1835.9M763.7 1815.6V1839.6M764.6 1819.3V1849.7M765.5 1823.0V1859.1M766.4 1826.7V1852.2M767.3 1830.8V1885.4M768.3 1834.8V1859.1M769.2 1838.9V1862.6M770.1 1842.9V1881.7M771.0 1847.0V1872.8M771.9 1851.0V1875.9M772.9 1855.1V1879.0M773.8 1859.7V1917.4M774.7 1864.3V1914.1M775.6 1868.9V1892.6M776.5 1873.5V1898.5M777.5 1878.1V1921.3M778.4 1883.7V1930.6M779.3 1892.9V1918.6M780.2 1902.1V1940.5M781.1 1911.3V1950.4M783.5 1664.5V1682.5M784.4 1664.6V1685.2M785.3 1664.7V1685.7M786.2 1664.8V1712.6M787.2 1664.8V1713.1M788.1 1664.9V1716.1M789.0 1665.0V1716.0M789.9 1665.1V1720.9M790.8 1665.2V1692.2M791.8 1665.2V1684.4M792.7 1665.3V1685.2M793.6 1665.4V1690.9M794.5 1665.5V1685.0M795.4 1665.6V1690.7M796.4 1665.7V1692.4M797.3 1665.7V1685.0M798.2 1665.8V1681.1M799.1 1665.9V1680.5M800.0 1666.0V1703.8M801.0 1666.1V1706.3M801.9 1666.2V1705.8M802.8 1666.2V1705.0M803.7 1666.3V1708.0M804.6 1666.4V1697.9M805.6 1666.5V1707.3M806.5 1666.6V1706.7M807.4 1666.7V1700.8M808.3 1666.7V1710.6M809.2 1666.8V1710.6M810.2 1666.9V1705.6M811.1 1667.0V1694.2M812.0 1667.1V1684.5M812.9 1667.1V1684.3M813.8 1667.2V1688.9M814.8 1667.3V1685.1M815.7 1667.4V1688.5M816.6 1667.5V1690.3M817.5 1667.6V1705.1M818.4 1667.6V1699.7M819.4 1667.7V1700.9M820.3 1667.8V1701.1M821.2 1667.9V1700.0M822.0 1668.0V1693.2M822.9 1669.8V1696.5M823.8 1671.6V1689.2M824.7 1673.4V1702.5M825.7 1675.2V1706.2M826.6 1677.0V1706.6M827.5 1678.8V1715.0M828.4 1680.6V1719.1M829.3 1682.4V1705.3M830.3 1688.2V1710.1M831.2 1694.4V1736.9M832.1 1700.5V1744.5M833.0 1706.6V1752.4M833.9 1716.4V1745.3M834.9 1728.7V1757.2M835.8 1740.9V1762.0M837.1 1668.0V1689.8M838.0 1668.2V1693.9M838.9 1668.4V1711.9M839.9 1668.6V1713.5M840.8 1668.8V1707.4M841.7 1669.0V1708.0M842.6 1669.1V1689.2M843.5 1669.3V1689.0M844.5 1669.5V1690.1M845.4 1669.7V1690.3M846.3 1669.9V1724.4M847.2 1670.1V1690.2M848.1 1670.3V1690.4M849.1 1670.5V1690.4M850.0 1670.7V1691.1M850.9 1670.9V1691.6M851.8 1671.1V1702.0M852.7 1671.3V1691.8M853.7 1671.5V1692.8M854.6 1671.7V1692.2M855.5 1671.8V1692.0M856.4 1672.0V1712.8M857.3 1672.2V1693.0M858.3 1672.4V1693.7M859.2 1672.6V1694.0M860.1 1672.8V1693.6M861.0 1673.0V1725.4M861.9 1673.2V1722.4M862.9 1673.4V1694.8M863.8 1673.6V1695.1M864.7 1673.8V1693.5M865.6 1674.0V1715.3M866.5 1674.2V1719.1M867.5 1674.4V1694.9M868.4 1674.5V1695.4M869.3 1674.7V1695.3M870.2 1674.9V1715.3M871.1 1675.1V1715.8M872.1 1675.3V1724.3M873.0 1675.5V1723.9M873.9 1675.7V1721.4M874.8 1675.9V1695.6M875.7 1676.1V1695.6M876.7 1676.3V1697.9M877.6 1676.4V1696.2M878.5 1676.6V1695.9M879.4 1676.8V1697.5M880.3 1677.0V1697.9M881.3 1677.1V1697.8M882.2 1677.3V1697.5M883.1 1677.5V1699.3M884.0 1677.7V1697.2M884.9 1677.9V1698.6M885.9 1678.0V1699.8M886.8 1678.2V1699.4M887.7 1678.4V1699.2M888.6 1678.6V1711.2M889.5 1678.7V1698.5M890.5 1678.9V1732.0M891.4 1679.1V1699.3M892.3 1679.3V1711.2M893.2 1679.5V1709.5M894.1 1679.6V1720.3M895.1 1679.8V1725.5M896.0 1680.0V1699.4M896.9 1680.2V1700.3M897.8 1680.3V1713.9M898.7 1680.5V1710.6M899.7 1680.7V1700.7M900.6 1680.9V1702.8M901.5 1681.1V1700.6M902.4 1681.2V1700.7M903.3 1681.4V1719.7M904.3 1681.6V1719.7M905.2 1681.8V1702.8M906.1 1681.9V1701.6M907.0 1682.1V1712.4M907.9 1682.3V1703.0M908.9 1682.5V1702.6M909.8 1682.7V1703.7M910.7 1682.8V1703.6M911.6 1683.0V1730.1M912.5 1683.2V1736.5M913.5 1683.4V1703.4M914.4 1683.5V1704.3M915.3 1683.7V1728.3M916.2 1683.9V1727.0M917.1 1684.1V1704.9M918.1 1684.3V1703.7M919.0 1684.4V1703.7M919.9 1684.6V1704.8M920.8 1684.8V1705.0M921.7 1685.0V1705.5M922.7 1685.1V1705.4M923.6 1685.3V1705.6M924.5 1685.5V1715.3M925.4 1685.7V1730.3M926.3 1685.9V1733.8M927.3 1686.0V1707.1M928.2 1686.2V1707.3M929.1 1686.4V1706.3M930.0 1686.6V1707.6M930.9 1687.3V1743.8M931.9 1688.0V1742.7M932.8 1688.6V1749.9M933.7 1689.3V1711.8M934.6 1690.0V1732.6M935.5 1690.7V1714.2M936.5 1691.4V1732.9M937.4 1692.1V1734.2M938.3 1692.8V1732.6M939.2 1693.4V1730.1M940.1 1694.1V1750.5M941.1 1694.8V1750.7M942.0 1695.5V1729.7M942.5 1697.2V1726.7M943.4 1699.9V1731.8M944.3 1702.7V1732.8M945.2 1705.5V1724.3M946.1 1708.2V1725.7M947.1 1711.0V1730.0M948.0 1713.7V1748.4M948.9 1716.5V1756.6M949.8 1720.3V1758.1M950.7 1724.3V1744.2M951.7 1728.4V1749.9M952.6 1732.4V1769.0M953.5 1736.5V1756.4M954.4 1740.5V1761.9M955.3 1744.6V1764.6M956.3 1751.0V1773.0M957.2 1759.2V1780.7M958.1 1767.3V1788.8M959.0 1775.5V1796.6M959.9 1783.7V1804.7M963.7 1697.2V1714.2M964.6 1697.6V1713.9M965.5 1698.0V1714.5M966.5 1698.3V1714.5M967.4 1698.7V1714.8M968.3 1699.1V1716.5M969.2 1699.5V1716.2M970.1 1699.9V1717.4M971.1 1700.3V1716.0M972.0 1700.6V1717.1M972.9 1701.0V1718.0M973.8 1701.4V1718.7M974.7 1701.8V1717.2M975.7 1702.2V1719.1M976.6 1702.6V1719.2M977.5 1702.9V1718.5M978.4 1703.3V1718.8M979.3 1703.7V1719.5M980.3 1704.1V1746.0M981.2 1704.5V1751.7M982.1 1704.9V1721.3M983.0 1705.2V1720.7M983.9 1705.6V1721.2M984.9 1706.0V1721.7M985.8 1706.4V1721.8M986.7 1706.8V1722.8M987.6 1707.2V1746.4M988.5 1707.5V1724.5M989.5 1707.9V1723.8M990.4 1708.3V1724.8M991.3 1708.7V1724.6M992.2 1709.1V1725.9M993.1 1709.5V1726.0M994.1 1709.8V1725.1M995.0 1710.2V1726.5M995.9 1710.6V1728.2M996.8 1711.0V1761.6M997.7 1711.4V1757.2M998.7 1711.8V1755.9M999.6 1712.1V1728.1M1000.5 1712.5V1728.7M1001.4 1712.9V1728.2M1002.3 1713.3V1730.7M1003.3 1713.7V1731.2M1004.2 1714.1V1729.6M1005.1 1714.4V1729.8M1006.0 1714.8V1731.3M1006.9 1715.2V1763.4M1007.9 1715.6V1731.5M1008.8 1716.0V1733.3M1009.7 1716.4V1731.7M1010.6 1716.7V1733.8M1011.5 1717.1V1763.4M1012.5 1717.6V1734.2M1013.4 1718.0V1734.0M1014.3 1718.5V1735.4M1015.2 1719.0V1737.0M1016.1 1719.4V1736.7M1017.1 1719.9V1752.4M1018.0 1720.3V1752.3M1018.9 1720.8V1751.9M1019.8 1721.3V1738.2M1020.7 1721.7V1738.6M1021.7 1722.2V1738.3M1022.6 1722.6V1738.5M1023.5 1723.1V1740.9M1024.4 1723.6V1740.1M1025.3 1724.0V1741.7M1026.3 1724.5V1740.6M1027.2 1724.9V1740.9M1028.1 1725.4V1741.5M1029.0 1725.9V1743.3M1029.9 1726.3V1743.4M1030.9 1726.8V1744.1M1031.8 1727.2V1744.2M1032.7 1727.7V1745.1M1033.6 1728.2V1744.9M1034.5 1728.6V1746.3M1035.5 1729.1V1744.8M1036.4 1729.5V1745.9M1037.3 1730.0V1767.8M1038.2 1730.5V1769.0M1039.1 1730.9V1773.0M1040.1 1731.4V1749.2M1041.0 1731.8V1749.0M1041.9 1732.3V1748.3M1042.8 1732.8V1750.3M1043.7 1733.2V1749.0M1044.7 1733.7V1751.8M1045.6 1734.1V1765.6M1046.5 1734.6V1765.9M1047.4 1735.1V1750.7M1048.3 1735.5V1752.0M1049.3 1736.0V1773.2M1050.2 1736.4V1771.5M1051.1 1736.9V1763.9M1052.0 1737.4V1754.5M1052.9 1737.8V1755.6M1053.9 1738.3V1756.2M1054.8 1738.7V1792.1M1055.7 1739.2V1754.8M1056.6 1739.7V1789.4M1057.5 1740.1V1786.6M1058.5 1740.6V1756.6M1059.4 1741.1V1759.0M1060.3 1741.6V1778.5M1061.2 1742.1V1759.4M1062.1 1742.7V1760.2M1063.1 1743.2V1761.2M1064.0 1743.7V1760.7M1064.9 1744.3V1762.4M1065.8 1744.8V1762.2M1066.7 1745.3V1761.3M1067.7 1745.9V1763.2M1068.6 1746.4V1764.3M1069.5 1746.9V1763.0M1070.4 1747.5V1764.5M1071.3 1748.0V1765.6M1072.3 1748.5V1764.6M1073.2 1749.1V1765.7M1074.1 1749.6V1766.1M1075.0 1750.1V1766.9M1075.9 1750.7V1769.0M1076.9 1751.2V1769.5M1077.8 1751.7V1767.9M1078.7 1752.3V1769.7M1079.6 1752.8V1770.9M1080.5 1753.3V1769.5M1081.5 1753.9V1771.2M1082.4 1754.4V1770.4M1083.3 1754.9V1772.1M1084.2 1755.5V1772.7M1085.1 1756.0V1774.0M1086.1 1756.5V1773.3M1087.0 1757.1V1774.8M1087.9 1757.7V1774.3M1088.8 1758.3V1786.6M1089.7 1758.9V1788.3M1090.7 1759.5V1776.2M1091.6 1760.1V1777.5M1092.5 1760.7V1778.9M1093.4 1761.3V1777.9M1094.3 1761.9V1779.9M1095.3 1762.5V1779.5M1096.2 1763.1V1780.3M1097.1 1763.7V1780.0M1098.0 1764.3V1808.3M1098.9 1764.9V1810.8M1099.9 1765.5V1806.1M1100.8 1766.1V1784.1M1101.7 1766.7V1784.4M1102.6 1767.3V1785.4M1103.5 1767.9V1784.1M1104.5 1768.5V1786.6M1105.4 1769.1V1786.1M1106.3 1769.7V1786.3M1107.2 1770.3V1787.4M1108.1 1771.0V1788.7M1109.1 1771.8V1790.1M1110.0 1772.5V1790.5M1110.9 1773.2V1790.5M1111.8 1773.9V1790.9M1112.7 1774.7V1791.7M1113.7 1775.4V1794.9M1114.6 1776.1V1793.1M1115.5 1776.8V1795.3M1116.4 1777.6V1796.3M1117.3 1778.3V1797.3M1118.3 1779.0V1796.6M1119.2 1779.7V1798.3M1120.1 1780.4V1799.3M1121.0 1781.2V1799.5M1121.9 1781.9V1798.6M1122.9 1782.6V1800.9M1123.8 1783.3V1801.1M1124.7 1784.1V1802.6M1125.6 1786.1V1813.3M1126.5 1788.9V1817.3M1127.5 1791.6V1818.4M1128.4 1794.4V1819.7M1129.3 1797.1V1816.2M1130.2 1799.9V1818.8M1131.1 1802.7V1840.5M1132.1 1805.4V1843.9M1133.0 1808.2V1827.4M1133.9 1811.0V1852.6M1134.8 1813.9V1841.2M1135.7 1816.8V1844.5M1136.7 1819.7V1855.9M1137.6 1822.6V1840.2M1138.5 1825.4V1843.8M1139.4 1828.3V1846.7M1140.3 1831.2V1850.2M1141.3 1834.1V1866.7M1142.2 1837.0V1854.4M1143.1 1839.9V1858.9M1144.0 1842.9V1860.5M1144.9 1845.8V1870.8M1145.9 1848.7V1870.9M1146.8 1851.7V1874.4M1147.7 1854.6V1873.8M1148.6 1857.6V1877.6M1149.5 1860.5V1905.3M1150.5 1864.2V1893.2M1151.4 1867.9V1909.6M1152.3 1871.6V1913.6M1153.2 1875.3V1917.8M1154.1 1878.9V1914.9M1156.9 1786.1V1805.7M1157.8 1786.9V1804.6M1158.7 1787.6V1806.8M1159.6 1788.4V1806.1M1160.5 1789.1V1805.9M1161.5 1789.9V1807.3M1162.4 1790.6V1808.0M1163.3 1791.4V1833.8M1164.2 1792.1V1827.8M1165.1 1792.9V1810.6M1166.1 1793.7V1811.4M1167.0 1794.4V1830.4M1167.9 1795.2V1830.3M1168.8 1795.9V1832.4M1169.7 1796.7V1815.8M1170.7 1797.4V1815.0M1171.6 1798.2V1815.7M1172.5 1798.9V1815.9M1173.4 1799.7V1819.1M1174.3 1800.5V1819.7M1175.3 1801.2V1819.5M1176.2 1802.0V1818.9M1177.1 1802.7V1820.0M1178.0 1803.5V1821.8M1178.9 1804.2V1821.5M1179.9 1805.0V1823.7M1180.8 1805.7V1823.6M1181.7 1806.5V1824.5M1182.6 1807.3V1825.4M1183.5 1808.2V1826.1M1184.5 1809.0V1826.9M1185.4 1809.8V1844.3M1186.3 1810.7V1845.0M1187.2 1811.5V1842.5M1188.1 1812.4V1830.5M1189.1 1813.2V1831.3M1190.0 1814.1V1831.3M1190.9 1814.9V1832.2M1191.8 1815.8V1833.6M1192.7 1816.6V1835.6M1193.7 1817.5V1836.6M1194.6 1818.3V1837.6M1195.5 1819.2V1836.4M1196.4 1820.0V1838.9M1197.3 1820.8V1839.9M1198.3 1821.7V1839.9M1199.2 1822.5V1840.3M1200.1 1823.4V1841.6M1201.0 1824.2V1841.6M1201.9 1825.1V1843.6M1202.9 1825.9V1844.7M1203.8 1826.8V1845.1M1204.7 1827.6V1845.8M1205.6 1828.5V1846.8M1206.5 1829.3V1848.7M1207.5 1830.2V1848.2M1208.4 1831.0V1849.9M1209.3 1831.9V1849.6M1210.2 1832.8V1856.6M1211.1 1833.7V1852.5M1212.1 1834.7V1854.0M1213.0 1835.6V1877.3M1213.9 1836.5V1872.9M1214.8 1837.4V1875.8M1215.7 1838.3V1863.7M1216.7 1839.3V1865.1M1217.6 1840.2V1864.6M1218.5 1841.1V1859.2M1219.4 1842.0V1860.3M1220.3 1842.9V1861.7M1221.3 1843.9V1871.5M1222.2 1844.8V1863.6M1223.1 1845.7V1879.4M1224.0 1846.6V1865.4M1224.9 1847.5V1866.9M1225.9 1848.5V1867.2M1226.8 1849.4V1868.2M1227.7 1850.3V1868.6M1228.6 1851.2V1869.5M1229.5 1852.1V1871.1M1230.5 1853.1V1871.9M1231.4 1854.0V1892.4M1232.3 1854.9V1893.4M1233.2 1855.8V1875.4M1234.1 1856.7V1893.6M1235.1 1857.7V1892.7M1236.0 1858.6V1894.7M1236.9 1859.5V1877.7M1237.8 1860.4V1878.4M1238.7 1861.3V1879.1M1239.7 1862.3V1882.1M1240.6 1863.2V1881.4M1241.5 1864.1V1881.9M1242.4 1865.0V1882.6M1243.3 1865.9V1884.1M1244.3 1866.9V1885.6M1245.2 1867.8V1886.2M1246.1 1868.7V1911.9M1247.0 1869.6V1909.5M1247.9 1870.5V1913.7M1248.9 1871.5V1889.5M1249.8 1872.4V1897.3M1250.7 1873.3V1898.7M1251.6 1874.2V1891.8M1252.5 1875.1V1893.2M1253.5 1876.1V1893.8M1254.4 1877.0V1922.9M1255.3 1877.9V1917.5M1256.2 1878.8V1897.1M1257.1 1879.7V1897.8M1258.1 1880.7V1900.4M1259.0 1881.6V1899.9M1259.9 1882.5V1914.7M1260.8 1883.4V1901.1M1261.7 1884.3V1902.6M1262.7 1885.3V1927.8M1263.6 1886.3V1905.6M1264.5 1887.2V1917.7M1265.4 1888.2V1921.3M1266.3 1889.2V1926.8M1267.3 1890.1V1930.8M1268.2 1891.1V1926.2M1269.1 1892.1V1911.6M1270.0 1893.0V1910.9M1270.9 1894.0V1913.7M1271.9 1895.0V1912.9M1272.8 1895.9V1928.3M1273.7 1896.9V1915.0M1274.6 1897.9V1916.4M1275.5 1898.8V1917.0M1276.5 1899.8V1919.7M1277.4 1900.8V1918.5M1278.3 1901.7V1921.5M1279.2 1902.7V1921.0M1280.1 1903.7V1947.8M1281.1 1904.6V1922.6M1282.0 1905.6V1939.5M1282.9 1906.6V1942.8M1283.8 1907.5V1944.9M1284.7 1908.5V1926.3M1285.7 1909.5V1929.3M1286.6 1910.4V1930.1M1287.5 1911.4V1931.2M1288.4 1912.4V1930.3M1289.3 1913.4V1932.4M1290.3 1914.5V1934.6M1291.2 1915.6V1953.5M1292.1 1916.6V1936.6M1293.0 1917.7V1958.2M1293.9 1918.7V1939.1M1294.9 1919.8V1939.3M1295.8 1920.8V1941.3M1296.7 1921.9V1967.3M1297.6 1923.0V1970.5M1298.5 1924.0V1968.6M1299.5 1925.1V1944.3M1300.4 1926.1V1944.9M1301.3 1927.2V1947.4M1302.2 1928.2V1972.0M1303.1 1929.3V1973.8M1304.1 1930.4V1950.9M1305.0 1931.4V1949.9M1305.9 1932.5V1951.3M1306.8 1933.5V1952.1M1307.7 1934.6V1954.1M1308.7 1935.7V1955.5M1309.6 1936.7V1957.0M1310.5 1937.8V1957.9M1311.4 1938.8V1978.9M1312.3 1939.9V1979.1M1313.3 1940.9V1981.8M1314.2 1942.0V1961.0M1315.1 1943.1V1964.7M1316.0 1944.4V1964.6M1316.9 1945.8V1974.2M1317.9 1947.1V1977.2M1318.8 1948.4V1968.2M1319.7 1949.7V1970.6M1320.6 1951.0V1971.9M1321.5 1952.3V1971.6M1322.5 1953.6V1983.7M1323.4 1954.9V1999.8M1324.3 1956.2V1976.4M1325.2 1957.5V1978.2M1326.1 1958.8V1989.3M1327.1 1960.1V1979.5M1328.0 1961.4V1982.4M1328.9 1962.7V1984.6M1329.8 1964.0V1984.7M1330.7 1965.3V1985.8M1331.7 1966.9V1988.2M1332.6 1968.5V1989.9M1333.5 1970.1V1993.3M1334.4 1971.7V2007.6M1335.3 1973.4V2012.7M1336.3 1975.0V2009.1M1337.2 1976.6V1998.9M1338.1 1978.2V2000.9M1339.0 1979.8V2001.9M1339.9 1981.4V2002.3M1340.9 1983.0V2004.6M1341.8 1985.0V2007.8M1342.7 1987.3V2012.3M1343.6 1989.6V2013.8M1344.5 1991.9V2018.0M1345.5 1994.2V2019.3M1346.4 1996.5V2021.9M1347.3 1998.8V2022.7M1348.2 2001.1V2026.5M1349.1 2003.4V2047.9M1350.1 2006.4V2055.0M1351.0 2009.6V2039.1M1351.9 2012.9V2043.1M1352.8 2016.1V2045.2M1353.7 2019.3V2048.1M1354.6 1657.9V1689.6M1355.5 1658.0V1694.8M1356.5 1658.1V1694.1M1357.4 1658.2V1693.9M1358.3 1658.3V1688.8M1359.2 1658.4V1681.2M1360.1 1658.5V1683.0M1361.1 1658.5V1676.9M1362.0 1658.6V1681.2M1362.9 1658.7V1681.8M1363.8 1658.8V1683.9M1364.7 1658.9V1681.4M1365.7 1659.0V1704.8M1366.6 1659.1V1717.0M1367.5 1659.2V1716.7M1368.4 1659.3V1681.5M1369.3 1659.4V1676.2M1370.3 1659.5V1682.8M1371.2 1659.6V1688.3M1372.1 1659.7V1686.9M1373.0 1659.8V1688.9M1373.9 1659.9V1679.5M1374.9 1660.0V1684.7M1375.8 1660.1V1685.1M1376.7 1660.2V1701.8M1377.6 1660.3V1696.0M1378.5 1660.4V1699.5M1379.5 1660.5V1691.2M1379.8 1661.9V1708.5M1380.7 1662.0V1702.3M1381.7 1662.2V1708.6M1382.6 1662.4V1707.3M1383.5 1662.6V1713.3M1384.4 1662.8V1702.9M1385.3 1663.0V1702.4M1386.3 1663.1V1694.3M1387.2 1663.3V1695.4M1388.1 1663.5V1694.0M1389.0 1663.7V1704.1M1389.9 1663.9V1693.5M1390.9 1664.1V1696.8M1391.8 1664.2V1700.6M1392.7 1664.4V1688.7M1393.6 1664.6V1703.1M1394.5 1664.8V1699.7M1395.5 1665.0V1698.7M1396.4 1665.2V1753.5M1397.3 1665.3V1702.0M1398.2 1665.5V1694.0M1399.1 1665.7V1699.0M1400.1 1666.3V1700.2M1401.0 1667.5V1707.7M1401.9 1668.8V1708.5M1402.8 1670.0V1716.4M1403.7 1671.3V1719.5M1404.7 1672.5V1691.7M1405.6 1673.8V1697.6M1406.5 1675.0V1704.7M1407.4 1676.3V1697.0M1408.3 1677.5V1704.1M1409.3 1678.7V1707.4M1410.2 1680.0V1701.0M1411.1 1681.2V1727.7M1412.0 1682.5V1732.6M1413.0 1669.3V1686.1M1413.9 1670.2V1684.8M1414.8 1671.2V1691.6M1415.8 1672.1V1692.1M1416.7 1673.0V1693.5M1417.6 1673.9V1689.1M1418.5 1674.8V1695.9M1419.4 1675.8V1697.4M1420.4 1676.7V1691.5M1421.3 1677.6V1693.6M1422.2 1678.5V1708.4M1423.1 1679.4V1711.0M1424.0 1680.4V1696.6M1425.0 1681.3V1695.8M1425.9 1682.2V1697.9M1426.8 1683.8V1700.5M1427.7 1685.8V1704.5M1428.6 1687.9V1706.0M1429.6 1690.0V1707.2M1430.5 1692.1V1711.0M1431.4 1694.1V1730.6M1432.3 1696.2V1731.0M1433.2 1698.3V1730.2M1434.2 1700.3V1718.5M1435.1 1702.4V1721.4M1436.0 1704.5V1723.4M1436.9 1706.6V1727.0M1437.8 1710.0V1731.0M1438.8 1713.3V1735.2M1439.7 1716.7V1739.0M1440.6 1720.1V1742.2M1441.5 1723.5V1750.2M1442.4 1726.8V1752.3M1443.4 1730.2V1752.5M1444.3 1733.6V1755.5M1445.2 1737.9V1782.9M1446.1 1743.8V1797.3M1447.0 1749.7V1773.3M1448.0 1755.6V1778.7M1448.9 1761.5V1805.8M1449.8 1767.3V1790.6M1450.7 1773.2V1823.9M1451.6 1780.1V1801.9M1452.6 1791.8V1844.7M1453.5 1803.5V1850.8M1454.4 1815.2V1838.2M1455.5 1678.6V1699.9M1456.4 1679.6V1703.5M1457.3 1680.6V1696.4M1458.2 1681.6V1723.0M1459.2 1682.6V1714.5M1460.1 1683.6V1716.8M1461.0 1684.6V1701.3M1461.9 1685.6V1702.4M1462.8 1686.6V1700.9M1463.8 1687.6V1703.0M1464.7 1688.6V1721.9M1465.6 1689.6V1728.4M1466.5 1690.6V1725.7M1467.4 1691.6V1708.4M1468.4 1692.6V1709.5M1469.3 1693.6V1713.3M1470.2 1694.6V1744.0M1471.1 1695.5V1739.1M1472.0 1696.9V1714.7M1473.0 1698.5V1715.4M1473.9 1700.1V1716.6M1474.8 1701.6V1725.9M1475.7 1703.2V1726.7M1476.6 1704.8V1744.4M1477.6 1706.3V1742.1M1478.5 1707.9V1747.3M1479.4 1709.4V1727.3M1480.3 1711.0V1757.3M1481.2 1712.6V1729.3M1482.2 1714.1V1731.5M1483.1 1715.7V1744.3M1484.0 1717.3V1746.0M1484.9 1719.1V1752.4M1485.8 1721.9V1765.5M1486.8 1724.7V1745.3M1487.7 1727.4V1769.9M1488.6 1730.2V1766.7M1489.5 1732.9V1760.3M1490.4 1735.7V1764.5M1491.4 1738.5V1758.2M1492.3 1741.2V1772.2M1493.2 1744.0V1763.9M1494.1 1747.0V1770.7M1495.0 1751.4V1779.6M1496.0 1755.9V1807.4M1496.9 1760.3V1806.9M1497.8 1764.7V1808.8M1498.7 1769.1V1812.8M1499.6 1773.5V1815.4M1500.6 1777.9V1801.2M1501.5 1793.7V1834.7M1502.4 1810.1V1846.4M1504.6 1664.5V1707.0M1505.5 1664.6V1702.8M1506.4 1664.7V1702.3M1507.3 1664.8V1691.6M1508.3 1665.0V1684.2M1509.2 1665.1V1723.1M1510.1 1665.2V1706.7M1511.0 1665.3V1705.6M1511.9 1665.4V1688.3M1512.9 1665.5V1687.0M1513.8 1665.6V1692.5M1514.7 1665.7V1686.9M1515.6 1665.9V1685.0M1516.5 1666.0V1722.2M1517.5 1666.1V1737.5M1518.4 1666.2V1744.3M1519.3 1666.3V1747.9M1520.2 1666.4V1742.2M1521.1 1666.5V1698.3M1522.1 1666.6V1695.6M1523.0 1666.7V1702.7M1523.9 1666.9V1699.9M1524.8 1667.0V1703.8M1525.7 1667.1V1694.6" stroke="#000" stroke-width="1.25" fill="none" vector-effect="non-scaling-stroke"/><path d="M216.4 1683.1L216.4 1822.4" stroke="#000" stroke-width="1.2" fill="none" vector-effect="non-scaling-stroke"/><path d="M189.9 1683.1L189.9 1733.0" stroke="#000" stroke-width="1.2" fill="none" vector-effect="non-scaling-stroke"/><path d="M220.4 1683.1L220.4 1739.4" stroke="#000" stroke-width="1.2" fill="none" vector-effect="non-scaling-stroke"/><path d="M231.6 1683.1L231.6 1755.3" stroke="#000" stroke-width="1.2" fill="none" vector-effect="non-scaling-stroke"/><path d="M236.4 1683.1L236.4 1880.8" stroke="#000" stroke-width="1.6" fill="none" vector-effect="non-scaling-stroke"/><path d="M254.4 1789.3L253.9 2115.0" stroke="#000" stroke-width="1.35" fill="none" vector-effect="non-scaling-stroke"/><path d="M253.9 2115.0L257.0 2235.5" stroke="#000" stroke-width="1.7" fill="none" vector-effect="non-scaling-stroke"/><path d="M260.2 1683.1L260.2 1799.9" stroke="#000" stroke-width="1.2" fill="none" vector-effect="non-scaling-stroke"/><path d="M267.7 1683.1L267.7 1860.9" stroke="#000" stroke-width="1.5" fill="none" vector-effect="non-scaling-stroke"/><path d="M282.8 1683.1L282.8 1784.5" stroke="#000" stroke-width="1.2" fill="none" vector-effect="non-scaling-stroke"/><path d="M298.7 1683.1L298.7 1730.3" stroke="#000" stroke-width="1.2" fill="none" vector-effect="non-scaling-stroke"/><path d="M322.6 1683.1L322.6 1753.4" stroke="#000" stroke-width="1.2" fill="none" vector-effect="non-scaling-stroke"/><path d="M336.7 1762.7L336.7 1830.9" stroke="#000" stroke-width="1.5" fill="none" vector-effect="non-scaling-stroke"/><path d="M386.3 1736.2L386.3 1781.8" stroke="#000" stroke-width="1.6" fill="none" vector-effect="non-scaling-stroke"/><path d="M540.3 1865.7L553.5 1865.7" stroke="#000" stroke-width="1.0" fill="none" vector-effect="non-scaling-stroke"/><path d="M553.5 1865.7L553.5 1892.2" stroke="#000" stroke-width="1.0" fill="none" vector-effect="non-scaling-stroke"/><path d="M552.6 1900.0L552.8 1949.0" stroke="#000" stroke-width="2.2" fill="none" vector-effect="non-scaling-stroke"/><path d="M567.2 1683.1L567.2 1754.2" stroke="#000" stroke-width="1.5" fill="none" vector-effect="non-scaling-stroke"/><path d="M587.1 1683.1L587.1 1825.6" stroke="#000" stroke-width="1.5" fill="none" vector-effect="non-scaling-stroke"/><path d="M600.3 1683.1L600.3 1774.7" stroke="#000" stroke-width="1.2" fill="none" vector-effect="non-scaling-stroke"/><path d="M608.3 1683.1L608.3 1781.8" stroke="#000" stroke-width="1.5" fill="none" vector-effect="non-scaling-stroke"/><path d="M618.9 1722.9L626.1 2042.2" stroke="#000" stroke-width="1.3" fill="none" vector-effect="non-scaling-stroke"/><path d="M628.7 1717.6L628.7 1806.5" stroke="#000" stroke-width="1.3" fill="none" vector-effect="non-scaling-stroke"/><path d="M617.6 1699.5L627.7 1699.5" stroke="#000" stroke-width="1.0" fill="none" vector-effect="non-scaling-stroke"/><path d="M617.6 1722.9L627.7 1722.9" stroke="#000" stroke-width="1.0" fill="none" vector-effect="non-scaling-stroke"/><path d="M627.7 1699.5L627.7 1789.3" stroke="#000" stroke-width="1.0" fill="none" vector-effect="non-scaling-stroke"/><path d="M676.0 1683.1L676.0 1870.2" stroke="#000" stroke-width="1.4" fill="none" vector-effect="non-scaling-stroke"/><path d="M699.9 1709.6L699.9 1805.2" stroke="#000" stroke-width="1.8" fill="none" vector-effect="non-scaling-stroke"/><path d="M703.9 1736.2L703.9 1794.6" stroke="#000" stroke-width="1.5" fill="none" vector-effect="non-scaling-stroke"/><path d="M742.3 1778.6L742.3 1832.3" stroke="#000" stroke-width="1.6" fill="none" vector-effect="non-scaling-stroke"/><path d="M737.0 1762.7L737.0 1821.1" stroke="#000" stroke-width="1.4" fill="none" vector-effect="non-scaling-stroke"/><path d="M745.0 1778.6L748.2 2028.1" stroke="#000" stroke-width="1.3" fill="none" vector-effect="non-scaling-stroke"/><path d="M748.2 2028.1L750.3 2122.4" stroke="#000" stroke-width="1.3" fill="none" vector-effect="non-scaling-stroke"/><path d="M750.3 2122.4L751.9 2194.8" stroke="#000" stroke-width="2.4" fill="none" vector-effect="non-scaling-stroke"/><path d="M782.2 1916.7L782.2 1972.4" stroke="#000" stroke-width="1.8" fill="none" vector-effect="non-scaling-stroke"/><path d="M776.8 1878.2L783.7 1878.2" stroke="#000" stroke-width="1.0" fill="none" vector-effect="non-scaling-stroke"/><path d="M783.7 1878.2L783.7 1896.2" stroke="#000" stroke-width="1.0" fill="none" vector-effect="non-scaling-stroke"/><path d="M760.9 1815.8L760.9 1863.6" stroke="#000" stroke-width="1.3" fill="none" vector-effect="non-scaling-stroke"/><path d="M768.9 1842.3L768.9 1875.5" stroke="#000" stroke-width="1.3" fill="none" vector-effect="non-scaling-stroke"/><path d="M833.9 1709.6L833.9 1771.2" stroke="#000" stroke-width="1.8" fill="none" vector-effect="non-scaling-stroke"/><path d="M798.1 1696.4L798.1 1732.2" stroke="#000" stroke-width="1.5" fill="none" vector-effect="non-scaling-stroke"/><path d="M823.3 1696.4L823.3 1749.4" stroke="#000" stroke-width="1.5" fill="none" vector-effect="non-scaling-stroke"/><path d="M876.4 1696.4L876.4 1784.5" stroke="#000" stroke-width="1.6" fill="none" vector-effect="non-scaling-stroke"/><path d="M961.6 1789.3L961.6 1828.5" stroke="#000" stroke-width="1.8" fill="none" vector-effect="non-scaling-stroke"/><path d="M942.5 1697.2L963.7 1697.2" stroke="#000" stroke-width="1.0" fill="none" vector-effect="non-scaling-stroke"/><path d="M1011.5 1741.5L1012.5 1798.5" stroke="#000" stroke-width="1.6" fill="none" vector-effect="non-scaling-stroke"/><path d="M1061.9 1762.7L1061.9 1788.5" stroke="#000" stroke-width="1.5" fill="none" vector-effect="non-scaling-stroke"/><path d="M1105.7 1789.3L1105.7 1816.3" stroke="#000" stroke-width="1.5" fill="none" vector-effect="non-scaling-stroke"/><path d="M1050.0 1757.4L1050.0 1780.8" stroke="#000" stroke-width="1.4" fill="none" vector-effect="non-scaling-stroke"/><path d="M1125.6 1784.7L1156.9 1784.7" stroke="#000" stroke-width="1.0" fill="none" vector-effect="non-scaling-stroke"/><path d="M1153.5 1882.2L1153.5 1917.5" stroke="#000" stroke-width="2.0" fill="none" vector-effect="non-scaling-stroke"/><path d="M1143.7 1858.3L1143.7 1892.8" stroke="#000" stroke-width="1.4" fill="none" vector-effect="non-scaling-stroke"/><path d="M1354.6 2022.8L1354.6 2065.8" stroke="#000" stroke-width="2.2" fill="none" vector-effect="non-scaling-stroke"/><path d="M1264.4 1911.4L1264.4 1940.6" stroke="#000" stroke-width="1.6" fill="none" vector-effect="non-scaling-stroke"/><path d="M1384.3 1696.4L1384.3 1768.6" stroke="#000" stroke-width="1.4" fill="none" vector-effect="non-scaling-stroke"/><path d="M1357.8 1696.4L1357.8 1730.3" stroke="#000" stroke-width="1.4" fill="none" vector-effect="non-scaling-stroke"/><path d="M1454.9 1815.8L1454.9 1852.4" stroke="#000" stroke-width="1.6" fill="none" vector-effect="non-scaling-stroke"/><path d="M1503.3 1821.1L1503.3 1861.5" stroke="#000" stroke-width="1.6" fill="none" vector-effect="non-scaling-stroke"/><path d="M1499.3 1770.7L1504.6 1770.7" stroke="#000" stroke-width="1.0" fill="none" vector-effect="non-scaling-stroke"/><path d="M1504.6 1770.7L1504.6 1804.4" stroke="#000" stroke-width="1.0" fill="none" vector-effect="non-scaling-stroke"/><path d="M1486.0 1749.4L1486.0 1776.5" stroke="#000" stroke-width="1.4" fill="none" vector-effect="non-scaling-stroke"/><path d="M1459.5 1717.6L1459.5 1747.3" stroke="#000" stroke-width="1.4" fill="none" vector-effect="non-scaling-stroke"/><path d="M1439.6 1736.2L1439.6 1768.6" stroke="#000" stroke-width="1.4" fill="none" vector-effect="non-scaling-stroke"/><path d="M1524.5 1663.2L1524.5 1757.4" stroke="#000" stroke-width="1.4" fill="none" vector-effect="non-scaling-stroke"/><path d="M184.3 1655.5L1362.6 1656.5" stroke="#000" stroke-width="2.2" fill="none" vector-effect="non-scaling-stroke"/><path d="M245.6 1656.5L257.6 1656.5" stroke="#000" stroke-width="1.2" fill="none" vector-effect="non-scaling-stroke"/><path d="M629.5 1662.9L783.5 1664.5" stroke="#000" stroke-width="1.3" fill="none" vector-effect="non-scaling-stroke"/><path d="M783.5 1664.5L837.9 1668.8" stroke="#000" stroke-width="1.3" fill="none" vector-effect="non-scaling-stroke"/><path d="M1378.5 1663.2L1524.5 1663.2" stroke="#000" stroke-width="1.4" fill="none" vector-effect="non-scaling-stroke"/><path d="M1397.1 1669.8L1413.0 1669.8" stroke="#000" stroke-width="1.2" fill="none" vector-effect="non-scaling-stroke"/><path d="M1426.3 1678.6L1455.5 1678.6" stroke="#000" stroke-width="1.2" fill="none" vector-effect="non-scaling-stroke"/><path d="M337.8 1662.4L387.7 1672.5" stroke="#000" stroke-width="1.4" fill="none" vector-effect="non-scaling-stroke"/></g>
<path d="M183.30 2280.3H187.37V2386.3H183.30zM203.52 2280.3H204.73V2386.3H203.52zM218.56 2280.3H220.76V2386.3H218.56zM237.23 2280.3H239.49V2386.3H237.23zM257.60 2280.3H258.57V2386.3H257.60zM263.45 2280.3H264.60V2386.3H263.45zM273.68 2280.3H275.58V2386.3H273.68zM289.69 2280.3H291.59V2386.3H289.69zM576.11 2280.3H577.88V2386.3H576.11zM595.23 2280.3H597.94V2386.3H595.23zM1359.99 2280.3H1361.70V2386.3H1359.99zM1362.54 2280.3H1364.84V2386.3H1362.54zM1367.83 2280.3H1369.86V2386.3H1367.83zM1374.19 2280.3H1375.32V2386.3H1374.19zM1378.38 2280.3H1381.01V2386.3H1378.38zM1383.53 2280.3H1385.86V2386.3H1383.53zM1396.61 2280.3H1400.70V2386.3H1396.61zM1401.59 2280.3H1405.76V2386.3H1401.59zM1409.63 2280.3H1410.51V2386.3H1409.63zM1412.53 2280.3H1414.21V2386.3H1412.53zM1417.92 2280.3H1421.06V2386.3H1417.92zM1422.52 2280.3H1423.83V2386.3H1422.52zM1454.70 2280.3H1507.55V2386.3H1454.70zM1508.70 2280.3H1518.65V2386.3H1508.70zM1519.70 2280.3H1526.35V2386.3H1519.70z" fill="#6cbb45"/><path d="M187.32 2280.3H189.18V2386.3H187.32zM190.80 2280.3H193.06V2386.3H190.80zM194.29 2280.3H196.35V2386.3H194.29zM200.81 2280.3H203.57V2386.3H200.81zM217.31 2280.3H218.61V2386.3H217.31zM223.02 2280.3H225.38V2386.3H223.02zM228.02 2280.3H229.53V2386.3H228.02zM231.38 2280.3H232.64V2386.3H231.38zM233.92 2280.3H237.28V2386.3H233.92zM239.44 2280.3H241.04V2386.3H239.44zM271.04 2280.3H271.93V2386.3H271.04zM278.05 2280.3H280.44V2386.3H278.05zM291.54 2280.3H292.49V2386.3H291.54zM600.47 2280.3H602.93V2386.3H600.47zM633.73 2280.3H636.06V2386.3H633.73zM643.87 2280.3H646.14V2386.3H643.87zM660.24 2280.3H661.65V2386.3H660.24zM1385.81 2280.3H1387.15V2386.3H1385.81zM1421.01 2280.3H1422.57V2386.3H1421.01z" fill="#e8853a"/><path d="M189.13 2280.3H190.85V2386.3H189.13zM198.87 2280.3H200.86V2386.3H198.87zM206.21 2280.3H207.95V2386.3H206.21zM240.99 2280.3H241.75V2386.3H240.99zM264.55 2280.3H266.92V2386.3H264.55zM275.53 2280.3H278.10V2386.3H275.53z" fill="#7ac943"/><path d="M193.01 2280.3H194.34V2386.3H193.01zM204.68 2280.3H206.26V2386.3H204.68zM259.63 2280.3H262.22V2386.3H259.63zM667.46 2280.3H668.05V2386.3H667.46zM684.39 2280.3H685.58V2386.3H684.39z" fill="#ef6c22"/><path d="M196.30 2280.3H198.92V2386.3H196.30zM226.43 2280.3H228.07V2386.3H226.43zM232.59 2280.3H233.97V2386.3H232.59zM297.20 2280.3H300.01V2386.3H297.20zM301.40 2280.3H303.68V2386.3H301.40zM305.17 2280.3H306.53V2386.3H305.17zM307.77 2280.3H310.36V2386.3H307.77zM311.83 2280.3H314.75V2386.3H311.83zM315.77 2280.3H316.98V2386.3H315.77zM317.96 2280.3H321.44V2386.3H317.96zM322.22 2280.3H325.72V2386.3H322.22zM336.70 2280.3H552.45V2386.3H336.70zM608.92 2280.3H609.65V2386.3H608.92zM1375.27 2280.3H1376.70V2386.3H1375.27zM1382.73 2280.3H1383.58V2386.3H1382.73zM1389.71 2280.3H1391.62V2386.3H1389.71zM1507.50 2280.3H1508.75V2386.3H1507.50zM1518.60 2280.3H1519.75V2386.3H1518.60z" fill="#3953a4"/><path d="M207.90 2280.3H209.60V2386.3H207.90zM553.95 2280.3H555.53V2386.3H553.95zM556.46 2280.3H559.37V2386.3H556.46zM563.79 2280.3H566.53V2386.3H563.79zM568.28 2280.3H569.89V2386.3H568.28zM581.54 2280.3H582.56V2386.3H581.54zM1358.20 2280.3H1360.04V2386.3H1358.20zM1361.65 2280.3H1362.59V2386.3H1361.65zM1366.54 2280.3H1367.88V2386.3H1366.54zM1388.07 2280.3H1389.76V2386.3H1388.07zM1405.71 2280.3H1407.39V2386.3H1405.71zM1423.78 2280.3H1424.25V2386.3H1423.78z" fill="#ef5fa7"/><path d="M209.55 2280.3H211.17V2386.3H209.55zM216.01 2280.3H217.36V2386.3H216.01zM241.70 2280.3H257.65V2386.3H241.70zM258.52 2280.3H259.68V2386.3H258.52zM267.76 2280.3H271.09V2386.3H267.76zM271.88 2280.3H273.73V2386.3H271.88zM281.39 2280.3H283.69V2386.3H281.39zM284.70 2280.3H287.24V2386.3H284.70zM292.44 2280.3H292.65V2386.3H292.44z" fill="#b5d334"/><path d="M211.12 2280.3H213.76V2386.3H211.12zM266.87 2280.3H267.81V2386.3H266.87zM562.04 2280.3H563.84V2386.3H562.04zM850.62 2280.3H851.60V2386.3H850.62zM853.12 2280.3H853.94V2386.3H853.12zM861.00 2280.3H861.95V2386.3H861.00zM864.25 2280.3H865.37V2386.3H864.25zM880.01 2280.3H880.63V2386.3H880.01zM928.38 2280.3H929.35V2386.3H928.38zM935.00 2280.3H935.75V2386.3H935.00zM970.60 2280.3H971.92V2386.3H970.60zM1061.27 2280.3H1062.12V2386.3H1061.27zM1077.56 2280.3H1078.77V2386.3H1077.56zM1081.83 2280.3H1082.79V2386.3H1081.83zM1093.64 2280.3H1094.83V2386.3H1093.64zM1098.52 2280.3H1099.86V2386.3H1098.52zM1114.18 2280.3H1115.44V2386.3H1114.18z" fill="#999999"/><path d="M213.71 2280.3H216.06V2386.3H213.71zM283.64 2280.3H284.75V2386.3H283.64zM310.31 2280.3H311.88V2386.3H310.31zM314.70 2280.3H315.82V2386.3H314.70zM790.19 2280.3H791.59V2386.3H790.19zM793.05 2280.3H795.13V2386.3H793.05zM798.25 2280.3H800.36V2386.3H798.25zM805.21 2280.3H806.85V2386.3H805.21zM839.10 2280.3H839.95V2386.3H839.10zM841.56 2280.3H842.53V2386.3H841.56zM867.15 2280.3H868.20V2386.3H867.15zM871.21 2280.3H872.44V2386.3H871.21zM891.40 2280.3H892.39V2386.3H891.40zM900.03 2280.3H900.95V2386.3H900.03zM932.70 2280.3H933.86V2386.3H932.70zM938.83 2280.3H939.78V2386.3H938.83zM1028.06 2280.3H1028.97V2386.3H1028.06zM1039.34 2280.3H1040.15V2386.3H1039.34zM1070.61 2280.3H1071.59V2386.3H1070.61zM1084.73 2280.3H1085.67V2386.3H1084.73zM1091.46 2280.3H1092.72V2386.3H1091.46zM1110.84 2280.3H1111.86V2386.3H1110.84zM1119.12 2280.3H1120.42V2386.3H1119.12zM1370.63 2280.3H1372.15V2386.3H1370.63zM1380.96 2280.3H1382.78V2386.3H1380.96zM1391.57 2280.3H1392.97V2386.3H1391.57zM1394.47 2280.3H1395.48V2386.3H1394.47zM1414.16 2280.3H1416.79V2386.3H1414.16z" fill="#2aa198"/><path d="M220.71 2280.3H223.07V2386.3H220.71zM225.33 2280.3H226.48V2386.3H225.33zM280.39 2280.3H281.44V2386.3H280.39zM898.33 2280.3H898.98V2386.3H898.33zM907.99 2280.3H908.61V2386.3H907.99zM919.74 2280.3H920.61V2386.3H919.74zM925.38 2280.3H926.68V2386.3H925.38zM977.70 2280.3H978.48V2386.3H977.70zM985.46 2280.3H986.33V2386.3H985.46zM987.35 2280.3H987.94V2386.3H987.35zM999.65 2280.3H1000.55V2386.3H999.65zM1045.07 2280.3H1046.02V2386.3H1045.07zM1052.48 2280.3H1053.49V2386.3H1052.48zM1055.70 2280.3H1056.42V2386.3H1055.70zM1058.04 2280.3H1058.61V2386.3H1058.04zM1086.75 2280.3H1087.96V2386.3H1086.75z" fill="#c8643c"/><path d="M229.48 2280.3H231.43V2386.3H229.48zM303.63 2280.3H305.22V2386.3H303.63zM609.60 2280.3H628.25V2386.3H609.60z" fill="#7f52a3"/><path d="M262.17 2280.3H263.50V2386.3H262.17zM287.19 2280.3H289.74V2386.3H287.19zM570.78 2280.3H571.86V2386.3H570.78zM589.36 2280.3H590.95V2386.3H589.36zM602.88 2280.3H604.13V2386.3H602.88zM605.32 2280.3H606.59V2386.3H605.32zM1355.90 2280.3H1358.25V2386.3H1355.90zM1392.92 2280.3H1394.52V2386.3H1392.92z" fill="#8b1a1d"/><path d="M292.60 2280.3H297.25V2386.3H292.60zM571.81 2280.3H573.49V2386.3H571.81zM579.71 2280.3H581.59V2386.3H579.71zM592.92 2280.3H595.28V2386.3H592.92zM597.89 2280.3H599.22V2386.3H597.89zM939.80 2280.3H962.95V2386.3H939.80z" fill="#0a0a0a"/><path d="M299.96 2280.3H301.45V2386.3H299.96zM306.48 2280.3H307.82V2386.3H306.48zM316.93 2280.3H318.01V2386.3H316.93zM325.67 2280.3H326.05V2386.3H325.67zM743.70 2280.3H753.05V2386.3H743.70zM1372.10 2280.3H1374.24V2386.3H1372.10zM1376.65 2280.3H1378.43V2386.3H1376.65zM1407.34 2280.3H1409.68V2386.3H1407.34zM1410.46 2280.3H1412.58V2386.3H1410.46zM1416.74 2280.3H1417.97V2386.3H1416.74z" fill="#b94fa0"/><path d="M321.39 2280.3H322.27V2386.3H321.39zM552.40 2280.3H554.00V2386.3H552.40zM555.48 2280.3H556.51V2386.3H555.48zM559.32 2280.3H559.55V2386.3H559.32zM560.56 2280.3H562.09V2386.3H560.56zM569.84 2280.3H570.83V2386.3H569.84zM582.51 2280.3H585.28V2386.3H582.51zM608.04 2280.3H608.97V2386.3H608.04zM783.50 2280.3H785.91V2386.3H783.50zM791.54 2280.3H793.10V2386.3H791.54zM800.31 2280.3H801.40V2386.3H800.31zM806.80 2280.3H808.00V2386.3H806.80z" fill="#6fd3dc"/><path d="M326.00 2280.3H336.75V2386.3H326.00z" fill="#d9b382"/><path d="M559.50 2280.3H560.61V2386.3H559.50zM587.59 2280.3H589.41V2386.3H587.59zM604.08 2280.3H605.37V2386.3H604.08zM606.54 2280.3H608.09V2386.3H606.54zM785.86 2280.3H787.98V2386.3H785.86zM797.17 2280.3H798.30V2386.3H797.17zM878.12 2280.3H878.83V2386.3H878.12zM882.57 2280.3H883.68V2386.3H882.57zM888.25 2280.3H889.35V2386.3H888.25zM894.45 2280.3H895.16V2386.3H894.45zM902.88 2280.3H903.99V2386.3H902.88zM905.86 2280.3H906.73V2386.3H905.86zM989.02 2280.3H989.95V2386.3H989.02zM992.42 2280.3H993.74V2386.3H992.42zM996.78 2280.3H997.69V2386.3H996.78zM1006.41 2280.3H1007.54V2386.3H1006.41zM1011.49 2280.3H1012.64V2386.3H1011.49zM1017.32 2280.3H1017.90V2386.3H1017.32zM1019.61 2280.3H1020.29V2386.3H1019.61zM1031.20 2280.3H1031.87V2386.3H1031.20zM1035.31 2280.3H1036.47V2386.3H1035.31zM1104.52 2280.3H1105.19V2386.3H1104.52z" fill="#7b3f14"/><path d="M566.48 2280.3H568.33V2386.3H566.48zM573.44 2280.3H576.16V2386.3H573.44zM585.23 2280.3H587.64V2386.3H585.23zM599.17 2280.3H600.52V2386.3H599.17zM803.30 2280.3H805.26V2386.3H803.30zM843.89 2280.3H844.92V2386.3H843.89zM848.19 2280.3H849.53V2386.3H848.19zM858.76 2280.3H859.44V2386.3H858.76zM965.78 2280.3H966.86V2386.3H965.78zM981.06 2280.3H982.21V2386.3H981.06zM1015.05 2280.3H1015.63V2386.3H1015.05zM1042.34 2280.3H1043.26V2386.3H1042.34zM1066.14 2280.3H1067.15V2386.3H1066.14zM1073.48 2280.3H1074.75V2386.3H1073.48zM1108.38 2280.3H1109.66V2386.3H1108.38zM1125.10 2280.3H1156.35V2386.3H1125.10z" fill="#a5282c"/><path d="M577.83 2280.3H579.76V2386.3H577.83zM590.90 2280.3H592.97V2386.3H590.90zM628.20 2280.3H629.30V2386.3H628.20zM632.08 2280.3H633.78V2386.3H632.08zM636.01 2280.3H638.71V2386.3H636.01zM640.16 2280.3H643.92V2386.3H640.16zM647.79 2280.3H650.33V2386.3H647.79zM655.76 2280.3H656.85V2386.3H655.76zM661.60 2280.3H664.12V2386.3H661.60zM664.94 2280.3H667.51V2386.3H664.94zM668.00 2280.3H678.34V2386.3H668.00zM679.14 2280.3H684.44V2386.3H679.14zM685.53 2280.3H692.45V2386.3H685.53zM703.90 2280.3H714.51V2386.3H703.90zM715.35 2280.3H743.75V2386.3H715.35zM753.00 2280.3H783.55V2386.3H753.00zM1364.79 2280.3H1366.59V2386.3H1364.79zM1369.81 2280.3H1370.68V2386.3H1369.81zM1387.10 2280.3H1388.12V2386.3H1387.10zM1395.43 2280.3H1396.66V2386.3H1395.43zM1400.65 2280.3H1401.64V2386.3H1400.65z" fill="#f3ec1b"/><path d="M629.25 2280.3H632.13V2386.3H629.25zM638.66 2280.3H640.21V2386.3H638.66zM650.28 2280.3H652.84V2386.3H650.28zM659.01 2280.3H660.29V2386.3H659.01zM855.59 2280.3H856.16V2386.3H855.59zM875.43 2280.3H876.48V2386.3H875.43zM886.10 2280.3H887.11V2386.3H886.10zM911.81 2280.3H913.15V2386.3H911.81zM916.28 2280.3H917.15V2386.3H916.28zM921.64 2280.3H922.27V2386.3H921.64zM936.73 2280.3H937.29V2386.3H936.73zM974.67 2280.3H975.61V2386.3H974.67zM1002.82 2280.3H1003.91V2386.3H1002.82zM1008.75 2280.3H1009.80V2386.3H1008.75zM1024.18 2280.3H1024.90V2386.3H1024.18zM1047.75 2280.3H1048.82V2386.3H1047.75zM1063.45 2280.3H1064.61V2386.3H1063.45zM1101.23 2280.3H1102.21V2386.3H1101.23zM1123.91 2280.3H1125.15V2386.3H1123.91zM1424.20 2280.3H1454.75V2386.3H1424.20z" fill="#ee1c25"/><path d="M646.09 2280.3H647.84V2386.3H646.09zM652.79 2280.3H655.81V2386.3H652.79zM656.80 2280.3H659.06V2386.3H656.80zM664.07 2280.3H664.99V2386.3H664.07z" fill="#9acd32"/><path d="M678.29 2280.3H679.19V2386.3H678.29zM692.40 2280.3H703.95V2386.3H692.40zM714.46 2280.3H715.40V2386.3H714.46z" fill="#f47f72"/><path d="M787.93 2280.3H790.24V2386.3H787.93zM795.08 2280.3H797.22V2386.3H795.08zM801.35 2280.3H803.35V2386.3H801.35zM836.60 2280.3H839.15V2386.3H836.60zM839.90 2280.3H841.61V2386.3H839.90zM842.48 2280.3H843.94V2386.3H842.48zM844.87 2280.3H848.24V2386.3H844.87zM849.48 2280.3H850.67V2386.3H849.48zM851.55 2280.3H853.17V2386.3H851.55zM853.89 2280.3H855.64V2386.3H853.89zM856.11 2280.3H858.81V2386.3H856.11zM859.39 2280.3H861.05V2386.3H859.39zM861.90 2280.3H864.30V2386.3H861.90zM865.32 2280.3H867.20V2386.3H865.32zM868.15 2280.3H871.26V2386.3H868.15zM872.39 2280.3H875.48V2386.3H872.39zM876.43 2280.3H878.17V2386.3H876.43zM878.78 2280.3H880.06V2386.3H878.78zM880.58 2280.3H882.62V2386.3H880.58zM883.63 2280.3H886.15V2386.3H883.63zM887.06 2280.3H888.30V2386.3H887.06zM889.30 2280.3H891.45V2386.3H889.30zM892.34 2280.3H894.50V2386.3H892.34zM895.11 2280.3H898.38V2386.3H895.11zM898.93 2280.3H900.08V2386.3H898.93zM900.90 2280.3H902.93V2386.3H900.90zM903.94 2280.3H905.91V2386.3H903.94zM906.68 2280.3H908.04V2386.3H906.68zM908.56 2280.3H911.86V2386.3H908.56zM913.10 2280.3H916.33V2386.3H913.10zM917.10 2280.3H919.79V2386.3H917.10zM920.56 2280.3H921.69V2386.3H920.56zM922.22 2280.3H925.43V2386.3H922.22zM926.63 2280.3H928.43V2386.3H926.63zM929.30 2280.3H932.75V2386.3H929.30zM933.81 2280.3H935.05V2386.3H933.81zM935.70 2280.3H936.78V2386.3H935.70zM937.24 2280.3H938.88V2386.3H937.24zM939.73 2280.3H939.85V2386.3H939.73zM962.90 2280.3H965.83V2386.3H962.90zM966.81 2280.3H970.65V2386.3H966.81zM971.87 2280.3H974.72V2386.3H971.87zM975.56 2280.3H977.75V2386.3H975.56zM978.43 2280.3H981.11V2386.3H978.43zM982.16 2280.3H985.51V2386.3H982.16zM986.28 2280.3H987.40V2386.3H986.28zM987.89 2280.3H989.07V2386.3H987.89zM989.90 2280.3H992.47V2386.3H989.90zM993.69 2280.3H996.83V2386.3H993.69zM997.64 2280.3H999.70V2386.3H997.64zM1000.50 2280.3H1002.87V2386.3H1000.50zM1003.86 2280.3H1006.46V2386.3H1003.86zM1007.49 2280.3H1008.80V2386.3H1007.49zM1009.75 2280.3H1011.54V2386.3H1009.75zM1012.59 2280.3H1015.10V2386.3H1012.59zM1015.58 2280.3H1017.37V2386.3H1015.58zM1017.85 2280.3H1019.66V2386.3H1017.85zM1020.24 2280.3H1024.23V2386.3H1020.24zM1024.85 2280.3H1028.11V2386.3H1024.85zM1028.92 2280.3H1031.25V2386.3H1028.92zM1031.82 2280.3H1035.36V2386.3H1031.82zM1036.42 2280.3H1039.39V2386.3H1036.42zM1040.10 2280.3H1042.39V2386.3H1040.10zM1043.21 2280.3H1045.12V2386.3H1043.21zM1045.97 2280.3H1047.80V2386.3H1045.97zM1048.77 2280.3H1052.53V2386.3H1048.77zM1053.44 2280.3H1055.75V2386.3H1053.44zM1056.37 2280.3H1058.09V2386.3H1056.37zM1058.56 2280.3H1061.32V2386.3H1058.56zM1062.07 2280.3H1063.50V2386.3H1062.07zM1064.56 2280.3H1066.19V2386.3H1064.56zM1067.10 2280.3H1070.66V2386.3H1067.10zM1071.54 2280.3H1073.53V2386.3H1071.54zM1074.70 2280.3H1077.61V2386.3H1074.70zM1078.72 2280.3H1081.88V2386.3H1078.72zM1082.74 2280.3H1084.78V2386.3H1082.74zM1085.62 2280.3H1086.80V2386.3H1085.62zM1087.91 2280.3H1091.51V2386.3H1087.91zM1092.67 2280.3H1093.69V2386.3H1092.67zM1094.78 2280.3H1098.57V2386.3H1094.78zM1099.81 2280.3H1101.28V2386.3H1099.81zM1102.16 2280.3H1104.57V2386.3H1102.16zM1105.14 2280.3H1108.43V2386.3H1105.14zM1109.61 2280.3H1110.89V2386.3H1109.61zM1111.81 2280.3H1114.23V2386.3H1111.81zM1115.39 2280.3H1119.17V2386.3H1115.39zM1120.37 2280.3H1123.96V2386.3H1120.37zM1156.30 2280.3H1355.95V2386.3H1156.30z" fill="#62c6c2"/><path d="M807.95 2280.3H808.75V2386.3H807.95z" fill="#4a7fb5"/><path d="M808.70 2280.3H836.65V2386.3H808.70z" fill="#f9bccd"/>
<path d="M183.30 2386.3H187.37V2492.8H183.30zM203.52 2386.3H204.73V2492.8H203.52zM218.56 2386.3H220.76V2492.8H218.56zM237.23 2386.3H239.49V2492.8H237.23zM257.60 2386.3H258.57V2492.8H257.60zM263.45 2386.3H264.60V2492.8H263.45zM273.68 2386.3H275.58V2492.8H273.68zM289.69 2386.3H291.59V2492.8H289.69zM576.11 2386.3H577.88V2492.8H576.11zM595.23 2386.3H597.94V2492.8H595.23zM646.09 2386.3H647.84V2492.8H646.09zM652.79 2386.3H655.81V2492.8H652.79zM656.80 2386.3H659.06V2492.8H656.80zM664.07 2386.3H664.99V2492.8H664.07zM1359.99 2386.3H1361.70V2492.8H1359.99zM1362.54 2386.3H1364.84V2492.8H1362.54zM1367.83 2386.3H1369.86V2492.8H1367.83zM1374.19 2386.3H1375.32V2492.8H1374.19zM1378.38 2386.3H1381.01V2492.8H1378.38zM1383.53 2386.3H1385.86V2492.8H1383.53zM1396.61 2386.3H1400.70V2492.8H1396.61zM1401.59 2386.3H1405.76V2492.8H1401.59zM1409.63 2386.3H1410.51V2492.8H1409.63zM1412.53 2386.3H1414.21V2492.8H1412.53zM1417.92 2386.3H1421.06V2492.8H1417.92zM1422.52 2386.3H1423.83V2492.8H1422.52zM1454.70 2386.3H1507.55V2492.8H1454.70zM1508.70 2386.3H1518.65V2492.8H1508.70zM1519.70 2386.3H1526.35V2492.8H1519.70z" fill="#6cbb45"/><path d="M187.32 2386.3H189.18V2492.8H187.32zM190.80 2386.3H193.06V2492.8H190.80zM194.29 2386.3H196.35V2492.8H194.29zM200.81 2386.3H203.57V2492.8H200.81zM217.31 2386.3H218.61V2492.8H217.31zM223.02 2386.3H225.38V2492.8H223.02zM228.02 2386.3H229.53V2492.8H228.02zM231.38 2386.3H232.64V2492.8H231.38zM233.92 2386.3H237.28V2492.8H233.92zM239.44 2386.3H241.04V2492.8H239.44zM271.04 2386.3H271.93V2492.8H271.04zM278.05 2386.3H280.44V2492.8H278.05zM291.54 2386.3H292.49V2492.8H291.54zM600.47 2386.3H602.93V2492.8H600.47zM633.73 2386.3H636.06V2492.8H633.73zM643.87 2386.3H646.14V2492.8H643.87zM660.24 2386.3H661.65V2492.8H660.24zM1385.81 2386.3H1387.15V2492.8H1385.81zM1421.01 2386.3H1422.57V2492.8H1421.01z" fill="#8e6bb0"/><path d="M189.13 2386.3H190.85V2492.8H189.13zM198.87 2386.3H200.86V2492.8H198.87zM206.21 2386.3H207.95V2492.8H206.21zM213.71 2386.3H216.06V2492.8H213.71zM240.99 2386.3H241.75V2492.8H240.99zM264.55 2386.3H266.92V2492.8H264.55zM275.53 2386.3H278.10V2492.8H275.53zM283.64 2386.3H284.75V2492.8H283.64zM310.31 2386.3H311.88V2492.8H310.31zM314.70 2386.3H315.82V2492.8H314.70zM790.19 2386.3H791.59V2492.8H790.19zM793.05 2386.3H795.13V2492.8H793.05zM798.25 2386.3H800.36V2492.8H798.25zM805.21 2386.3H806.85V2492.8H805.21zM807.95 2386.3H808.75V2492.8H807.95zM839.90 2386.3H841.61V2492.8H839.90zM842.48 2386.3H843.94V2492.8H842.48zM849.48 2386.3H850.67V2492.8H849.48zM853.89 2386.3H855.64V2492.8H853.89zM856.11 2386.3H858.81V2492.8H856.11zM868.15 2386.3H871.26V2492.8H868.15zM872.39 2386.3H875.48V2492.8H872.39zM878.78 2386.3H880.06V2492.8H878.78zM883.63 2386.3H886.15V2492.8H883.63zM889.30 2386.3H891.45V2492.8H889.30zM892.34 2386.3H894.50V2492.8H892.34zM895.11 2386.3H898.38V2492.8H895.11zM898.93 2386.3H900.08V2492.8H898.93zM906.68 2386.3H908.04V2492.8H906.68zM908.56 2386.3H911.86V2492.8H908.56zM913.10 2386.3H916.33V2492.8H913.10zM922.22 2386.3H925.43V2492.8H922.22zM929.30 2386.3H932.75V2492.8H929.30zM933.81 2386.3H935.05V2492.8H933.81zM935.70 2386.3H936.78V2492.8H935.70zM939.73 2386.3H939.85V2492.8H939.73zM962.90 2386.3H965.83V2492.8H962.90zM966.81 2386.3H970.65V2492.8H966.81zM971.87 2386.3H974.72V2492.8H971.87zM982.16 2386.3H985.51V2492.8H982.16zM987.89 2386.3H989.07V2492.8H987.89zM993.69 2386.3H996.83V2492.8H993.69zM997.64 2386.3H999.70V2492.8H997.64zM1003.86 2386.3H1006.46V2492.8H1003.86zM1009.75 2386.3H1011.54V2492.8H1009.75zM1012.59 2386.3H1015.10V2492.8H1012.59zM1017.85 2386.3H1019.66V2492.8H1017.85zM1024.85 2386.3H1028.11V2492.8H1024.85zM1036.42 2386.3H1039.39V2492.8H1036.42zM1043.21 2386.3H1045.12V2492.8H1043.21zM1045.97 2386.3H1047.80V2492.8H1045.97zM1058.56 2386.3H1061.32V2492.8H1058.56zM1062.07 2386.3H1063.50V2492.8H1062.07zM1064.56 2386.3H1066.19V2492.8H1064.56zM1074.70 2386.3H1077.61V2492.8H1074.70zM1085.62 2386.3H1086.80V2492.8H1085.62zM1094.78 2386.3H1098.57V2492.8H1094.78zM1099.81 2386.3H1101.28V2492.8H1099.81zM1102.16 2386.3H1104.57V2492.8H1102.16zM1105.14 2386.3H1108.43V2492.8H1105.14zM1109.61 2386.3H1110.89V2492.8H1109.61zM1111.81 2386.3H1114.23V2492.8H1111.81zM1370.63 2386.3H1372.15V2492.8H1370.63zM1380.96 2386.3H1382.78V2492.8H1380.96zM1391.57 2386.3H1392.97V2492.8H1391.57zM1394.47 2386.3H1395.48V2492.8H1394.47zM1414.16 2386.3H1416.79V2492.8H1414.16z" fill="#2aa198"/><path d="M193.01 2386.3H194.34V2492.8H193.01zM204.68 2386.3H206.26V2492.8H204.68zM259.63 2386.3H262.22V2492.8H259.63zM667.46 2386.3H668.05V2492.8H667.46z" fill="#a58bc5"/><path d="M196.30 2386.3H198.92V2492.8H196.30zM226.43 2386.3H228.07V2492.8H226.43zM232.59 2386.3H233.97V2492.8H232.59zM297.20 2386.3H300.01V2492.8H297.20zM301.40 2386.3H303.68V2492.8H301.40zM305.17 2386.3H306.53V2492.8H305.17zM307.77 2386.3H310.36V2492.8H307.77zM311.83 2386.3H314.75V2492.8H311.83zM315.77 2386.3H316.98V2492.8H315.77zM317.96 2386.3H321.44V2492.8H317.96zM322.22 2386.3H325.72V2492.8H322.22zM336.70 2386.3H552.45V2492.8H336.70zM608.92 2386.3H609.65V2492.8H608.92zM1375.27 2386.3H1376.70V2492.8H1375.27zM1382.73 2386.3H1383.58V2492.8H1382.73zM1389.71 2386.3H1391.62V2492.8H1389.71zM1507.50 2386.3H1508.75V2492.8H1507.50zM1518.60 2386.3H1519.75V2492.8H1518.60z" fill="#3953a4"/><path d="M207.90 2386.3H209.60V2492.8H207.90zM299.96 2386.3H301.45V2492.8H299.96zM306.48 2386.3H307.82V2492.8H306.48zM316.93 2386.3H318.01V2492.8H316.93zM325.67 2386.3H326.05V2492.8H325.67zM553.95 2386.3H555.53V2492.8H553.95zM556.46 2386.3H559.37V2492.8H556.46zM563.79 2386.3H566.53V2492.8H563.79zM568.28 2386.3H569.89V2492.8H568.28zM581.54 2386.3H582.56V2492.8H581.54zM678.29 2386.3H679.19V2492.8H678.29zM714.46 2386.3H715.40V2492.8H714.46zM743.70 2386.3H753.05V2492.8H743.70zM1358.20 2386.3H1360.04V2492.8H1358.20zM1361.65 2386.3H1362.59V2492.8H1361.65zM1366.54 2386.3H1367.88V2492.8H1366.54zM1372.10 2386.3H1374.24V2492.8H1372.10zM1376.65 2386.3H1378.43V2492.8H1376.65zM1388.07 2386.3H1389.76V2492.8H1388.07zM1405.71 2386.3H1409.68V2492.8H1405.71zM1410.46 2386.3H1412.58V2492.8H1410.46zM1416.74 2386.3H1417.97V2492.8H1416.74zM1423.78 2386.3H1424.25V2492.8H1423.78z" fill="#b94fa0"/><path d="M209.55 2386.3H211.17V2492.8H209.55zM216.01 2386.3H217.36V2492.8H216.01zM241.70 2386.3H257.65V2492.8H241.70zM258.52 2386.3H259.68V2492.8H258.52zM267.76 2386.3H271.09V2492.8H267.76zM271.88 2386.3H273.73V2492.8H271.88zM281.39 2386.3H283.69V2492.8H281.39zM284.70 2386.3H287.24V2492.8H284.70zM292.44 2386.3H292.65V2492.8H292.44z" fill="#b5d334"/><path d="M211.12 2386.3H213.76V2492.8H211.12zM220.71 2386.3H223.07V2492.8H220.71zM225.33 2386.3H226.48V2492.8H225.33zM266.87 2386.3H267.81V2492.8H266.87zM280.39 2386.3H281.44V2492.8H280.39zM562.04 2386.3H563.84V2492.8H562.04z" fill="#4a2c2a"/><path d="M229.48 2386.3H231.43V2492.8H229.48zM303.63 2386.3H305.22V2492.8H303.63zM609.60 2386.3H628.25V2492.8H609.60zM684.39 2386.3H685.58V2492.8H684.39z" fill="#7f52a3"/><path d="M262.17 2386.3H263.50V2492.8H262.17zM287.19 2386.3H289.74V2492.8H287.19zM292.60 2386.3H297.25V2492.8H292.60zM559.50 2386.3H560.61V2492.8H559.50zM566.48 2386.3H568.33V2492.8H566.48zM570.78 2386.3H576.16V2492.8H570.78zM579.71 2386.3H581.59V2492.8H579.71zM585.23 2386.3H590.95V2492.8H585.23zM592.92 2386.3H595.28V2492.8H592.92zM597.89 2386.3H600.52V2492.8H597.89zM602.88 2386.3H608.09V2492.8H602.88zM785.86 2386.3H787.98V2492.8H785.86zM797.17 2386.3H798.30V2492.8H797.17zM803.30 2386.3H805.26V2492.8H803.30zM839.10 2386.3H839.95V2492.8H839.10zM841.56 2386.3H842.53V2492.8H841.56zM848.19 2386.3H849.53V2492.8H848.19zM850.62 2386.3H851.60V2492.8H850.62zM855.59 2386.3H856.16V2492.8H855.59zM864.25 2386.3H865.37V2492.8H864.25zM867.15 2386.3H868.20V2492.8H867.15zM875.43 2386.3H876.48V2492.8H875.43zM878.12 2386.3H878.83V2492.8H878.12zM880.01 2386.3H880.63V2492.8H880.01zM882.57 2386.3H883.68V2492.8H882.57zM886.10 2386.3H887.11V2492.8H886.10zM888.25 2386.3H889.35V2492.8H888.25zM894.45 2386.3H895.16V2492.8H894.45zM898.33 2386.3H898.98V2492.8H898.33zM900.03 2386.3H900.95V2492.8H900.03zM902.88 2386.3H903.99V2492.8H902.88zM911.81 2386.3H913.15V2492.8H911.81zM919.74 2386.3H920.61V2492.8H919.74zM925.38 2386.3H926.68V2492.8H925.38zM932.70 2386.3H933.86V2492.8H932.70zM936.73 2386.3H937.29V2492.8H936.73zM939.80 2386.3H962.95V2492.8H939.80zM965.78 2386.3H966.86V2492.8H965.78zM977.70 2386.3H978.48V2492.8H977.70zM981.06 2386.3H982.21V2492.8H981.06zM985.46 2386.3H986.33V2492.8H985.46zM987.35 2386.3H987.94V2492.8H987.35zM989.02 2386.3H989.95V2492.8H989.02zM996.78 2386.3H997.69V2492.8H996.78zM999.65 2386.3H1000.55V2492.8H999.65zM1006.41 2386.3H1007.54V2492.8H1006.41zM1008.75 2386.3H1009.80V2492.8H1008.75zM1011.49 2386.3H1012.64V2492.8H1011.49zM1015.05 2386.3H1015.63V2492.8H1015.05zM1024.18 2386.3H1024.90V2492.8H1024.18zM1028.06 2386.3H1028.97V2492.8H1028.06zM1035.31 2386.3H1036.47V2492.8H1035.31zM1039.34 2386.3H1040.15V2492.8H1039.34zM1042.34 2386.3H1043.26V2492.8H1042.34zM1045.07 2386.3H1046.02V2492.8H1045.07zM1047.75 2386.3H1048.82V2492.8H1047.75zM1052.48 2386.3H1053.49V2492.8H1052.48zM1058.04 2386.3H1058.61V2492.8H1058.04zM1063.45 2386.3H1064.61V2492.8H1063.45zM1070.61 2386.3H1071.59V2492.8H1070.61zM1073.48 2386.3H1074.75V2492.8H1073.48zM1077.56 2386.3H1078.77V2492.8H1077.56zM1081.83 2386.3H1082.79V2492.8H1081.83zM1086.75 2386.3H1087.96V2492.8H1086.75zM1093.64 2386.3H1094.83V2492.8H1093.64zM1101.23 2386.3H1102.21V2492.8H1101.23zM1104.52 2386.3H1105.19V2492.8H1104.52zM1108.38 2386.3H1109.66V2492.8H1108.38zM1114.18 2386.3H1115.44V2492.8H1114.18zM1119.12 2386.3H1120.42V2492.8H1119.12zM1125.10 2386.3H1156.35V2492.8H1125.10zM1392.92 2386.3H1394.52V2492.8H1392.92z" fill="#0a0a0a"/><path d="M321.39 2386.3H322.27V2492.8H321.39zM552.40 2386.3H554.00V2492.8H552.40zM555.48 2386.3H556.51V2492.8H555.48zM559.32 2386.3H559.55V2492.8H559.32zM560.56 2386.3H562.09V2492.8H560.56zM569.84 2386.3H570.83V2492.8H569.84zM582.51 2386.3H585.28V2492.8H582.51zM608.04 2386.3H608.97V2492.8H608.04zM783.50 2386.3H785.91V2492.8H783.50zM791.54 2386.3H793.10V2492.8H791.54zM800.31 2386.3H801.40V2492.8H800.31zM806.80 2386.3H808.00V2492.8H806.80z" fill="#6fd3dc"/><path d="M326.00 2386.3H336.75V2492.8H326.00z" fill="#d9b382"/><path d="M577.83 2386.3H579.76V2492.8H577.83zM590.90 2386.3H592.97V2492.8H590.90zM628.20 2386.3H629.30V2492.8H628.20zM632.08 2386.3H633.78V2492.8H632.08zM636.01 2386.3H638.71V2492.8H636.01zM640.16 2386.3H643.92V2492.8H640.16zM647.79 2386.3H650.33V2492.8H647.79zM655.76 2386.3H656.85V2492.8H655.76zM661.60 2386.3H664.12V2492.8H661.60zM664.94 2386.3H667.51V2492.8H664.94zM668.00 2386.3H678.34V2492.8H668.00zM679.14 2386.3H684.44V2492.8H679.14zM685.53 2386.3H714.51V2492.8H685.53zM715.35 2386.3H743.75V2492.8H715.35zM753.00 2386.3H783.55V2492.8H753.00zM1364.79 2386.3H1366.59V2492.8H1364.79zM1369.81 2386.3H1370.68V2492.8H1369.81zM1387.10 2386.3H1388.12V2492.8H1387.10zM1395.43 2386.3H1396.66V2492.8H1395.43zM1400.65 2386.3H1401.64V2492.8H1400.65z" fill="#f47f72"/><path d="M629.25 2386.3H632.13V2492.8H629.25zM638.66 2386.3H640.21V2492.8H638.66zM650.28 2386.3H652.84V2492.8H650.28zM659.01 2386.3H660.29V2492.8H659.01zM1424.20 2386.3H1454.75V2492.8H1424.20z" fill="#ee1c25"/><path d="M787.93 2386.3H790.24V2492.8H787.93zM795.08 2386.3H797.22V2492.8H795.08zM801.35 2386.3H803.35V2492.8H801.35zM836.60 2386.3H839.15V2492.8H836.60zM859.39 2386.3H861.05V2492.8H859.39zM861.90 2386.3H864.30V2492.8H861.90zM876.43 2386.3H878.17V2492.8H876.43zM887.06 2386.3H888.30V2492.8H887.06zM900.90 2386.3H902.93V2492.8H900.90zM903.94 2386.3H905.91V2492.8H903.94zM920.56 2386.3H921.69V2492.8H920.56zM937.24 2386.3H938.88V2492.8H937.24zM975.56 2386.3H977.75V2492.8H975.56zM978.43 2386.3H981.11V2492.8H978.43zM986.28 2386.3H987.40V2492.8H986.28zM1000.50 2386.3H1002.87V2492.8H1000.50zM1007.49 2386.3H1008.80V2492.8H1007.49zM1028.92 2386.3H1031.25V2492.8H1028.92zM1031.82 2386.3H1035.36V2492.8H1031.82zM1048.77 2386.3H1052.53V2492.8H1048.77zM1053.44 2386.3H1055.75V2492.8H1053.44zM1056.37 2386.3H1058.09V2492.8H1056.37zM1071.54 2386.3H1073.53V2492.8H1071.54zM1082.74 2386.3H1084.78V2492.8H1082.74zM1092.67 2386.3H1093.69V2492.8H1092.67zM1115.39 2386.3H1119.17V2492.8H1115.39zM1156.30 2386.3H1355.95V2492.8H1156.30z" fill="#62c6c2"/><path d="M808.70 2386.3H836.65V2492.8H808.70z" fill="#f9bccd"/><path d="M843.89 2386.3H844.92V2492.8H843.89zM853.12 2386.3H853.94V2492.8H853.12zM858.76 2386.3H859.44V2492.8H858.76zM861.00 2386.3H861.95V2492.8H861.00zM871.21 2386.3H872.44V2492.8H871.21zM891.40 2386.3H892.39V2492.8H891.40zM905.86 2386.3H906.73V2492.8H905.86zM907.99 2386.3H908.61V2492.8H907.99zM916.28 2386.3H917.15V2492.8H916.28zM921.64 2386.3H922.27V2492.8H921.64zM928.38 2386.3H929.35V2492.8H928.38zM935.00 2386.3H935.75V2492.8H935.00zM938.83 2386.3H939.78V2492.8H938.83zM970.60 2386.3H971.92V2492.8H970.60zM974.67 2386.3H975.61V2492.8H974.67zM992.42 2386.3H993.74V2492.8H992.42zM1002.82 2386.3H1003.91V2492.8H1002.82zM1017.32 2386.3H1017.90V2492.8H1017.32zM1019.61 2386.3H1020.29V2492.8H1019.61zM1031.20 2386.3H1031.87V2492.8H1031.20zM1055.70 2386.3H1056.42V2492.8H1055.70zM1061.27 2386.3H1062.12V2492.8H1061.27zM1066.14 2386.3H1067.15V2492.8H1066.14zM1084.73 2386.3H1085.67V2492.8H1084.73zM1091.46 2386.3H1092.72V2492.8H1091.46zM1098.52 2386.3H1099.86V2492.8H1098.52zM1110.84 2386.3H1111.86V2492.8H1110.84zM1123.91 2386.3H1125.15V2492.8H1123.91z" fill="#1b6b38"/><path d="M844.87 2386.3H848.24V2492.8H844.87zM851.55 2386.3H853.17V2492.8H851.55zM865.32 2386.3H867.20V2492.8H865.32zM880.58 2386.3H882.62V2492.8H880.58zM917.10 2386.3H919.79V2492.8H917.10zM926.63 2386.3H928.43V2492.8H926.63zM989.90 2386.3H992.47V2492.8H989.90zM1015.58 2386.3H1017.37V2492.8H1015.58zM1020.24 2386.3H1024.23V2492.8H1020.24zM1040.10 2386.3H1042.39V2492.8H1040.10zM1067.10 2386.3H1070.66V2492.8H1067.10zM1078.72 2386.3H1081.88V2492.8H1078.72zM1087.91 2386.3H1091.51V2492.8H1087.91zM1120.37 2386.3H1123.96V2492.8H1120.37z" fill="#1a9a96"/><path d="M1355.90 2386.3H1358.25V2492.8H1355.90z" fill="#262262"/>
<path d="M183.3 2280.3H1526.3M183.3 2386.3H1526.3M183.3 2492.8H1526.3" stroke="#1a1a2a" stroke-width="1.3" fill="none"/>
<text x="155.5" y="2339.3" font-size="15.3" text-anchor="end" stroke="#231f20" stroke-width="0.3" fill="#231f20">Dynamic Tree Cut</text>
<text x="155.5" y="2444.3" font-size="15.3" text-anchor="end" stroke="#231f20" stroke-width="0.3" fill="#231f20">Merged dynamic</text>
</g>
<g id="panelD">
<text x="1037.8" y="984.3" font-size="28.5" text-anchor="start" font-weight="bold" fill="#000">D</text>
<text x="1322.7" y="958.6" font-size="11.3" text-anchor="middle" font-weight="bold" fill="#1a1a1a">Network heatmap plot, all genes</text>
<defs><g id="dendroD"><path d="M184.9 1653.4V1703.1M188.1 1653.7V1777.6M191.3 1653.9V1760.7M194.5 1654.1V1705.5M197.7 1654.4V1700.0M200.9 1654.6V1698.8M204.1 1654.7V1705.6M207.3 1655.1V1705.0M210.5 1655.1V1716.4M213.7 1655.4V1723.4M216.9 1655.7V1762.1M220.1 1655.9V1705.2M223.3 1656.1V1704.3M226.5 1656.3V1721.1M229.7 1656.1V1699.4M232.9 1656.3V1704.2M236.1 1656.5V1735.9M239.3 1656.7V1701.2M242.5 1656.8V1760.7M245.7 1657.1V1706.1M248.9 1684.1V1743.7M252.1 1773.2V1832.6M258.5 1656.6V1711.2M261.7 1656.6V1709.7M264.9 1656.6V1769.7M268.1 1656.6V1781.8M271.3 1656.7V1735.9M274.5 1656.7V1814.8M277.7 1656.7V1710.6M280.9 1656.7V1703.5M284.1 1656.8V1717.0M287.3 1656.8V1700.3M290.5 1656.8V1757.8M293.7 1656.9V1740.1M296.9 1656.9V1859.8M300.1 1656.9V1819.6M303.3 1657.0V1714.3M306.5 1657.0V1751.5M309.7 1657.0V1704.9M312.9 1657.0V1709.7M316.1 1657.1V1727.9M319.3 1657.1V1716.1M322.5 1657.3V1740.2M325.7 1658.3V1707.4M328.9 1667.1V1729.6M332.1 1679.0V1780.2M335.3 1735.3V1795.5M338.5 1662.8V1739.1M341.7 1663.5V1704.1M344.9 1664.1V1712.2M348.1 1664.4V1783.3M351.3 1665.4V1787.3M354.5 1665.9V1715.1M357.7 1666.7V1712.2M360.9 1667.2V1768.9M364.1 1667.8V1742.4M367.3 1668.5V1718.8M370.5 1669.3V1762.0M373.7 1669.7V1780.4M376.9 1676.2V1726.5M380.1 1690.1V1744.0M383.3 1696.3V1751.2M386.5 1671.9V1718.6M389.7 1673.2V1718.7M392.9 1674.0V1722.4M396.1 1676.2V1738.3M399.3 1677.5V1741.7M402.5 1679.3V1726.4M405.7 1679.7V1727.3M408.9 1682.4V1754.4M412.1 1683.3V1729.5M415.3 1685.5V1731.2M418.5 1686.8V1760.8M421.7 1688.1V1735.3M424.9 1689.2V1738.8M428.1 1691.3V1738.7M431.3 1694.4V1743.1M434.5 1696.0V1752.9M437.7 1698.5V1748.5M440.9 1699.2V1750.1M444.1 1702.7V1775.1M447.3 1704.0V1752.3M450.5 1708.2V1759.7M453.7 1709.0V1787.1M456.9 1711.7V1764.6M460.1 1716.0V1768.4M463.3 1718.7V1770.4M466.5 1723.1V1775.9M469.7 1724.2V1789.1M472.9 1727.3V1796.1M476.1 1733.7V1791.6M479.3 1734.7V1787.4M482.5 1740.0V1811.8M485.7 1745.8V1803.3M488.9 1751.7V1809.7M492.1 1756.1V1812.8M495.3 1762.0V1831.5M498.5 1765.0V1824.9M501.7 1770.3V1828.6M504.9 1779.0V1837.8M508.1 1782.5V1858.9M511.3 1787.8V1857.3M514.5 1795.0V1868.9M517.7 1801.3V1884.0M520.9 1809.8V1872.0M524.1 1822.5V1885.3M527.3 1826.7V1895.8M530.5 1836.0V1916.0M533.7 1843.2V1909.1M536.9 1848.0V1913.2M540.1 1855.2V1920.0M543.3 1867.1V1939.5M546.5 1879.6V1952.7M549.7 1889.2V1967.1M552.9 1912.8V1994.4M556.1 1657.7V1740.4M559.3 1657.9V1733.7M562.5 1658.0V1703.0M565.7 1658.2V1706.6M568.9 1658.3V1701.1M572.1 1658.4V1814.1M575.3 1658.4V1827.6M578.5 1658.6V1773.1M581.7 1658.7V1719.7M584.9 1658.8V1814.9M588.1 1658.9V1707.3M591.3 1659.0V1710.8M594.5 1659.2V1704.7M597.7 1659.3V1739.0M600.9 1659.4V1755.6M604.1 1659.6V1724.3M607.3 1659.7V1727.9M610.5 1659.7V1739.5M613.7 1675.3V1726.5M616.9 1705.1V1755.0M620.1 1720.9V1771.3M629.7 1660.8V1759.4M632.9 1661.7V1723.2M636.1 1662.2V1757.2M639.3 1662.5V1752.1M642.5 1663.0V1720.8M645.7 1664.3V1706.3M648.9 1665.6V1736.1M652.1 1667.2V1762.3M655.3 1668.8V1751.8M658.5 1670.3V1733.3M661.7 1672.6V1714.2M664.9 1674.3V1772.4M668.1 1676.6V1793.4M671.3 1678.9V1734.3M674.5 1679.5V1731.9M677.7 1681.2V1722.0M680.9 1685.1V1812.7M684.1 1685.8V1799.2M687.3 1689.2V1801.2M690.5 1692.0V1746.5M693.7 1694.6V1785.2M696.9 1695.1V1800.5M700.1 1696.2V1738.5M703.3 1697.2V1737.5M706.5 1700.3V1739.8M709.7 1707.9V1763.8M712.9 1711.0V1753.6M716.1 1718.4V1800.9M719.3 1722.2V1764.0M722.5 1727.2V1800.6M725.7 1731.0V1796.2M728.9 1736.6V1823.5M732.1 1740.6V1832.2M735.3 1748.6V1789.9M738.5 1754.2V1794.1M741.7 1759.7V1800.3M744.9 1765.2V1841.6M748.1 1775.2V1818.3M751.3 1780.9V1851.0M754.5 1784.6V1856.2M757.7 1793.8V1843.1M760.9 1800.9V1858.4M764.1 1823.0V1898.2M767.3 1834.8V1889.3M770.5 1838.9V1892.4M773.7 1855.1V1909.0M776.9 1878.1V1965.8M780.1 1902.1V1981.3M783.3 1664.5V1708.1M786.5 1664.9V1766.5M789.7 1665.0V1766.2M792.9 1665.2V1710.9M796.1 1665.7V1724.4M799.3 1666.0V1744.2M802.5 1666.2V1747.5M805.7 1666.6V1748.7M808.9 1666.9V1746.5M812.1 1667.1V1709.6M815.3 1667.3V1710.4M818.5 1667.6V1745.3M821.7 1667.8V1738.1M824.9 1675.2V1741.5M828.1 1678.8V1754.2M831.3 1694.4V1780.8M834.5 1716.4V1778.9M837.7 1668.2V1725.2M840.9 1668.8V1748.4M844.1 1669.1V1716.2M847.3 1670.3V1717.4M850.5 1670.9V1719.1M853.7 1671.7V1719.5M856.9 1672.0V1755.3M860.1 1672.8V1721.3M863.3 1673.6V1723.2M866.5 1674.4V1722.3M869.7 1674.9V1757.5M872.9 1675.5V1772.2M876.1 1676.3V1726.2M879.3 1677.0V1725.5M882.5 1677.7V1723.8M885.7 1678.0V1728.0M888.9 1678.9V1783.8M892.1 1679.5V1744.0M895.3 1679.8V1771.8M898.5 1680.2V1727.4M901.7 1681.1V1727.3M904.9 1681.6V1760.2M908.1 1682.1V1747.1M911.3 1682.7V1731.4M914.5 1683.5V1731.8M917.7 1684.4V1730.2M920.9 1685.0V1732.9M924.1 1685.3V1732.8M927.3 1685.9V1781.7M930.5 1688.0V1795.7M933.7 1690.0V1776.6M936.9 1692.1V1777.8M940.1 1694.8V1804.6M943.3 1699.9V1767.7M946.5 1708.2V1750.7M949.7 1716.5V1798.7M952.9 1736.5V1783.4M956.1 1744.6V1791.7M959.3 1767.3V1816.8M962.5 1697.2V1739.0M965.7 1697.6V1738.1M968.9 1699.1V1741.6M972.1 1700.6V1741.4M975.3 1701.4V1743.7M978.5 1702.9V1742.1M981.7 1705.2V1744.2M984.9 1706.4V1745.4M988.1 1706.8V1746.7M991.3 1708.3V1749.2M994.5 1710.2V1750.7M997.7 1711.0V1811.5M1000.9 1712.1V1752.0M1004.1 1714.4V1753.4M1007.3 1716.0V1758.2M1010.5 1716.4V1755.2M1013.7 1717.6V1758.7M1016.9 1719.9V1788.7M1020.1 1721.3V1762.9M1023.3 1723.1V1766.2M1026.5 1724.9V1765.0M1029.7 1726.8V1769.0M1032.9 1727.2V1768.9M1036.1 1729.5V1770.2M1039.3 1730.5V1809.9M1042.5 1732.3V1772.2M1045.7 1733.7V1777.4M1048.9 1735.1V1774.4M1052.1 1736.9V1796.1M1055.3 1738.7V1844.2M1058.5 1740.6V1780.5M1061.7 1742.1V1784.3M1064.9 1743.7V1785.4M1068.1 1746.9V1787.0M1071.3 1748.5V1788.7M1074.5 1750.7V1794.7M1077.7 1751.2V1795.3M1080.9 1753.9V1796.2M1084.1 1754.9V1797.0M1087.3 1757.7V1798.8M1090.5 1760.1V1802.6M1093.7 1762.5V1804.3M1096.9 1763.1V1805.2M1100.1 1765.5V1848.6M1103.3 1767.9V1808.2M1106.5 1769.1V1810.9M1109.7 1771.0V1814.0M1112.9 1773.9V1815.6M1116.1 1776.1V1817.8M1119.3 1779.0V1821.8M1122.5 1781.2V1825.2M1125.7 1784.1V1828.5M1128.9 1799.9V1845.0M1132.1 1802.7V1880.9M1135.3 1811.0V1895.7M1138.5 1828.3V1872.4M1141.7 1839.9V1885.2M1144.9 1845.8V1901.6M1148.1 1854.6V1900.1M1151.3 1867.9V1952.8M1154.5 1875.3V1961.7M1157.7 1786.9V1829.9M1160.9 1790.6V1833.0M1164.1 1792.9V1835.8M1167.3 1795.9V1871.8M1170.5 1798.2V1840.8M1173.7 1800.5V1846.1M1176.9 1802.7V1844.9M1180.1 1805.0V1849.7M1183.3 1807.3V1851.0M1186.5 1810.7V1882.7M1189.7 1814.9V1857.2M1192.9 1815.8V1859.0M1196.1 1819.2V1861.4M1199.3 1823.4V1867.2M1202.5 1824.2V1866.6M1205.7 1829.3V1875.3M1208.9 1832.8V1886.4M1212.1 1833.7V1878.5M1215.3 1837.4V1916.7M1218.5 1840.2V1894.8M1221.7 1844.8V1889.7M1224.9 1847.5V1893.4M1228.1 1852.1V1897.4M1231.3 1854.9V1934.2M1234.5 1855.8V1902.1M1237.7 1861.3V1904.4M1240.9 1865.0V1907.9M1244.1 1865.9V1909.6M1247.3 1870.5V1958.0M1250.5 1874.2V1917.0M1253.7 1876.1V1919.0M1256.9 1879.7V1923.3M1260.1 1882.5V1950.9M1263.3 1887.2V1952.6M1266.5 1889.2V1966.9M1269.7 1891.1V1964.6M1272.9 1895.0V1938.4M1276.1 1898.8V1942.6M1279.3 1903.7V1992.9M1282.5 1906.6V1981.9M1285.7 1910.4V1956.8M1288.9 1911.4V1958.0M1292.1 1916.6V1963.6M1295.3 1919.8V1966.0M1298.5 1924.0V2014.1M1301.7 1927.2V1974.6M1304.9 1930.4V1978.4M1308.1 1935.7V1982.4M1311.3 1938.8V2021.0M1314.5 1943.1V1992.9M1317.7 1945.8V2007.6M1320.9 1953.6V2018.2M1324.1 1957.5V2005.7M1327.3 1958.8V2024.2M1330.5 1966.9V2016.2M1333.7 1971.7V2046.5M1336.9 1973.4V2054.2M1340.1 1983.0V2032.8M1343.3 1989.6V2044.0M1346.5 1998.8V2052.6M1349.7 2001.1V2057.5M1352.9 2019.3V2081.6M1356.1 1657.9V1725.5M1359.3 1658.4V1710.3M1362.5 1658.6V1710.2M1365.7 1658.9V1710.2M1368.9 1659.5V1712.2M1372.1 1659.6V1721.9M1375.3 1659.9V1706.2M1378.5 1660.3V1734.8M1381.7 1662.4V1753.0M1384.9 1663.1V1729.6M1388.1 1663.3V1731.4M1391.3 1663.9V1727.8M1394.5 1664.8V1737.9M1397.7 1665.2V1831.7M1400.9 1666.3V1737.7M1404.1 1670.0V1763.3M1407.3 1677.5V1736.1M1410.5 1682.5V1782.3M1413.7 1671.2V1719.0M1416.9 1673.0V1720.9M1420.1 1676.7V1714.6M1423.3 1678.5V1742.8M1426.5 1681.3V1718.6M1429.7 1692.1V1737.3M1432.9 1696.2V1769.2M1436.1 1702.4V1747.6M1439.3 1710.0V1758.9M1442.5 1730.2V1781.2M1445.7 1733.6V1783.9M1448.9 1767.3V1820.0M1452.1 1791.8V1896.3M1455.3 1679.6V1733.5M1458.5 1681.6V1766.0M1461.7 1684.6V1725.9M1464.9 1687.6V1726.6M1468.1 1691.6V1733.0M1471.3 1696.9V1740.0M1474.5 1700.1V1741.1M1477.7 1706.3V1780.9M1480.9 1714.1V1756.5M1484.1 1717.3V1779.6M1487.3 1727.4V1813.7M1490.5 1738.5V1785.1M1493.7 1751.4V1812.8M1496.9 1760.3V1853.8M1500.1 1793.7V1877.4M1503.3 1810.1V1885.6M1506.5 1664.7V1742.4M1509.7 1665.1V1778.7M1512.9 1665.5V1715.1M1516.1 1665.9V1711.4M1519.3 1666.3V1821.2M1522.5 1666.9V1736.6M1525.7 1667.0V1743.5" stroke="#000" stroke-width="1.05" fill="none" vector-effect="non-scaling-stroke"/><path d="M216.4 1683.1L216.4 1840.4" stroke="#000" stroke-width="0.96" fill="none" vector-effect="non-scaling-stroke"/><path d="M189.9 1683.1L189.9 1751.0" stroke="#000" stroke-width="0.96" fill="none" vector-effect="non-scaling-stroke"/><path d="M220.4 1683.1L220.4 1757.4" stroke="#000" stroke-width="0.96" fill="none" vector-effect="non-scaling-stroke"/><path d="M231.6 1683.1L231.6 1773.3" stroke="#000" stroke-width="0.96" fill="none" vector-effect="non-scaling-stroke"/><path d="M236.4 1683.1L236.4 1898.8" stroke="#000" stroke-width="1.04" fill="none" vector-effect="non-scaling-stroke"/><path d="M254.4 1789.3L253.9 2115.0" stroke="#000" stroke-width="1.04" fill="none" vector-effect="non-scaling-stroke"/><path d="M253.9 2115.0L257.0 2235.5" stroke="#000" stroke-width="1.04" fill="none" vector-effect="non-scaling-stroke"/><path d="M260.2 1683.1L260.2 1817.9" stroke="#000" stroke-width="0.96" fill="none" vector-effect="non-scaling-stroke"/><path d="M267.7 1683.1L267.7 1878.9" stroke="#000" stroke-width="1.04" fill="none" vector-effect="non-scaling-stroke"/><path d="M282.8 1683.1L282.8 1802.5" stroke="#000" stroke-width="0.96" fill="none" vector-effect="non-scaling-stroke"/><path d="M298.7 1683.1L298.7 1748.3" stroke="#000" stroke-width="0.96" fill="none" vector-effect="non-scaling-stroke"/><path d="M322.6 1683.1L322.6 1771.4" stroke="#000" stroke-width="0.96" fill="none" vector-effect="non-scaling-stroke"/><path d="M336.7 1762.7L336.7 1848.9" stroke="#000" stroke-width="1.04" fill="none" vector-effect="non-scaling-stroke"/><path d="M386.3 1736.2L386.3 1799.8" stroke="#000" stroke-width="1.04" fill="none" vector-effect="non-scaling-stroke"/><path d="M553.5 1865.7L553.5 1910.2" stroke="#000" stroke-width="0.80" fill="none" vector-effect="non-scaling-stroke"/><path d="M552.6 1900.0L552.8 1967.0" stroke="#000" stroke-width="1.04" fill="none" vector-effect="non-scaling-stroke"/><path d="M567.2 1683.1L567.2 1772.2" stroke="#000" stroke-width="1.04" fill="none" vector-effect="non-scaling-stroke"/><path d="M587.1 1683.1L587.1 1843.6" stroke="#000" stroke-width="1.04" fill="none" vector-effect="non-scaling-stroke"/><path d="M600.3 1683.1L600.3 1792.7" stroke="#000" stroke-width="0.96" fill="none" vector-effect="non-scaling-stroke"/><path d="M608.3 1683.1L608.3 1799.8" stroke="#000" stroke-width="1.04" fill="none" vector-effect="non-scaling-stroke"/><path d="M618.9 1722.9L626.1 2042.2" stroke="#000" stroke-width="1.04" fill="none" vector-effect="non-scaling-stroke"/><path d="M628.7 1717.6L628.7 1824.5" stroke="#000" stroke-width="1.04" fill="none" vector-effect="non-scaling-stroke"/><path d="M627.7 1699.5L627.7 1807.3" stroke="#000" stroke-width="0.80" fill="none" vector-effect="non-scaling-stroke"/><path d="M676.0 1683.1L676.0 1888.2" stroke="#000" stroke-width="1.04" fill="none" vector-effect="non-scaling-stroke"/><path d="M699.9 1709.6L699.9 1823.2" stroke="#000" stroke-width="1.04" fill="none" vector-effect="non-scaling-stroke"/><path d="M703.9 1736.2L703.9 1812.6" stroke="#000" stroke-width="1.04" fill="none" vector-effect="non-scaling-stroke"/><path d="M742.3 1778.6L742.3 1850.3" stroke="#000" stroke-width="1.04" fill="none" vector-effect="non-scaling-stroke"/><path d="M737.0 1762.7L737.0 1839.1" stroke="#000" stroke-width="1.04" fill="none" vector-effect="non-scaling-stroke"/><path d="M745.0 1778.6L748.2 2028.1" stroke="#000" stroke-width="1.04" fill="none" vector-effect="non-scaling-stroke"/><path d="M748.2 2028.1L750.3 2122.4" stroke="#000" stroke-width="1.04" fill="none" vector-effect="non-scaling-stroke"/><path d="M750.3 2122.4L751.9 2194.8" stroke="#000" stroke-width="1.04" fill="none" vector-effect="non-scaling-stroke"/><path d="M782.2 1916.7L782.2 1990.4" stroke="#000" stroke-width="1.04" fill="none" vector-effect="non-scaling-stroke"/><path d="M783.7 1878.2L783.7 1914.2" stroke="#000" stroke-width="0.80" fill="none" vector-effect="non-scaling-stroke"/><path d="M760.9 1815.8L760.9 1881.6" stroke="#000" stroke-width="1.04" fill="none" vector-effect="non-scaling-stroke"/><path d="M768.9 1842.3L768.9 1893.5" stroke="#000" stroke-width="1.04" fill="none" vector-effect="non-scaling-stroke"/><path d="M833.9 1709.6L833.9 1789.2" stroke="#000" stroke-width="1.04" fill="none" vector-effect="non-scaling-stroke"/><path d="M798.1 1696.4L798.1 1750.2" stroke="#000" stroke-width="1.04" fill="none" vector-effect="non-scaling-stroke"/><path d="M823.3 1696.4L823.3 1767.4" stroke="#000" stroke-width="1.04" fill="none" vector-effect="non-scaling-stroke"/><path d="M876.4 1696.4L876.4 1802.5" stroke="#000" stroke-width="1.04" fill="none" vector-effect="non-scaling-stroke"/><path d="M961.6 1789.3L961.6 1846.5" stroke="#000" stroke-width="1.04" fill="none" vector-effect="non-scaling-stroke"/><path d="M1011.5 1741.5L1012.5 1816.5" stroke="#000" stroke-width="1.04" fill="none" vector-effect="non-scaling-stroke"/><path d="M1061.9 1762.7L1061.9 1806.5" stroke="#000" stroke-width="1.04" fill="none" vector-effect="non-scaling-stroke"/><path d="M1105.7 1789.3L1105.7 1834.3" stroke="#000" stroke-width="1.04" fill="none" vector-effect="non-scaling-stroke"/><path d="M1050.0 1757.4L1050.0 1798.8" stroke="#000" stroke-width="1.04" fill="none" vector-effect="non-scaling-stroke"/><path d="M1153.5 1882.2L1153.5 1935.5" stroke="#000" stroke-width="1.04" fill="none" vector-effect="non-scaling-stroke"/><path d="M1143.7 1858.3L1143.7 1910.8" stroke="#000" stroke-width="1.04" fill="none" vector-effect="non-scaling-stroke"/><path d="M1354.6 2022.8L1354.6 2065.8" stroke="#000" stroke-width="1.04" fill="none" vector-effect="non-scaling-stroke"/><path d="M1264.4 1911.4L1264.4 1958.6" stroke="#000" stroke-width="1.04" fill="none" vector-effect="non-scaling-stroke"/><path d="M1384.3 1696.4L1384.3 1786.6" stroke="#000" stroke-width="1.04" fill="none" vector-effect="non-scaling-stroke"/><path d="M1357.8 1696.4L1357.8 1748.3" stroke="#000" stroke-width="1.04" fill="none" vector-effect="non-scaling-stroke"/><path d="M1454.9 1815.8L1454.9 1870.4" stroke="#000" stroke-width="1.04" fill="none" vector-effect="non-scaling-stroke"/><path d="M1503.3 1821.1L1503.3 1879.5" stroke="#000" stroke-width="1.04" fill="none" vector-effect="non-scaling-stroke"/><path d="M1504.6 1770.7L1504.6 1822.4" stroke="#000" stroke-width="0.80" fill="none" vector-effect="non-scaling-stroke"/><path d="M1486.0 1749.4L1486.0 1794.5" stroke="#000" stroke-width="1.04" fill="none" vector-effect="non-scaling-stroke"/><path d="M1459.5 1717.6L1459.5 1765.3" stroke="#000" stroke-width="1.04" fill="none" vector-effect="non-scaling-stroke"/><path d="M1439.6 1736.2L1439.6 1786.6" stroke="#000" stroke-width="1.04" fill="none" vector-effect="non-scaling-stroke"/><path d="M1524.5 1663.2L1524.5 1775.4" stroke="#000" stroke-width="1.04" fill="none" vector-effect="non-scaling-stroke"/><path d="M184.3 1655.5L1362.6 1656.5" stroke="#000" stroke-width="1" fill="none" vector-effect="non-scaling-stroke"/><path d="M245.6 1656.5L257.6 1656.5" stroke="#000" stroke-width="1" fill="none" vector-effect="non-scaling-stroke"/><path d="M629.5 1662.9L783.5 1664.5" stroke="#000" stroke-width="1" fill="none" vector-effect="non-scaling-stroke"/><path d="M783.5 1664.5L837.9 1668.8" stroke="#000" stroke-width="1" fill="none" vector-effect="non-scaling-stroke"/><path d="M1378.5 1663.2L1524.5 1663.2" stroke="#000" stroke-width="1" fill="none" vector-effect="non-scaling-stroke"/><path d="M1397.1 1669.8L1413.0 1669.8" stroke="#000" stroke-width="1" fill="none" vector-effect="non-scaling-stroke"/><path d="M1426.3 1678.6L1455.5 1678.6" stroke="#000" stroke-width="1" fill="none" vector-effect="non-scaling-stroke"/><path d="M337.8 1662.4L387.7 1672.5" stroke="#000" stroke-width="1" fill="none" vector-effect="non-scaling-stroke"/></g><g id="barsD"><path d="M183.30 0H187.98V1H183.30zM572.77 0H577.45V1H572.77zM653.35 0H658.03V1H653.35zM1356.19 0H1360.86V1H1356.19zM1374.09 0H1378.77V1H1374.09zM1383.05 0H1387.72V1H1383.05zM1396.48 0H1405.63V1H1396.48zM1418.86 0H1423.54V1H1418.86zM1454.67 0H1517.55V1H1454.67zM1521.82 0H1526.50V1H1521.82z" fill="#6cbb45"/><path d="M187.78 0H196.93V1H187.78zM201.21 0H205.88V1H201.21zM223.59 0H241.70V1H223.59zM268.36 0H273.03V1H268.36zM277.31 0H281.99V1H277.31zM599.63 0H604.31V1H599.63zM630.97 0H635.64V1H630.97zM644.40 0H649.07V1H644.40z" fill="#8e6bb0"/><path d="M196.73 0H201.41V1H196.73zM210.16 0H214.84V1H210.16zM272.83 0H277.51V1H272.83zM787.65 0H801.28V1H787.65zM805.56 0H810.23V1H805.56zM841.37 0H846.05V1H841.37zM850.32 0H859.48V1H850.32zM868.23 0H877.38V1H868.23zM962.24 0H975.87V1H962.24zM980.15 0H984.82V1H980.15zM993.58 0H998.25V1H993.58zM1011.48 0H1020.64V1H1011.48zM1024.91 0H1029.59V1H1024.91zM1101.02 0H1105.69V1H1101.02zM1378.57 0H1383.25V1H1378.57z" fill="#2aa198"/><path d="M205.68 0H210.36V1H205.68zM554.86 0H559.54V1H554.86zM742.88 0H752.04V1H742.88zM1360.66 0H1365.34V1H1360.66zM1369.62 0H1374.29V1H1369.62zM1405.43 0H1419.06V1H1405.43zM1423.34 0H1428.01V1H1423.34z" fill="#b94fa0"/><path d="M214.64 0H219.31V1H214.64zM241.50 0H259.60V1H241.50zM263.88 0H268.56V1H263.88zM281.79 0H286.46V1H281.79z" fill="#b5d334"/><path d="M219.11 0H223.79V1H219.11zM559.34 0H564.02V1H559.34z" fill="#4a2c2a"/><path d="M259.40 0H264.08V1H259.40z" fill="#a58bc5"/><path d="M286.26 0H299.89V1H286.26zM563.82 0H572.97V1H563.82zM581.72 0H599.83V1H581.72zM604.11 0H608.78V1H604.11zM801.08 0H805.76V1H801.08zM877.18 0H881.86V1H877.18zM886.14 0H890.81V1H886.14zM895.09 0H899.77V1H895.09zM908.52 0H913.20V1H908.52zM921.95 0H935.58V1H921.95zM939.86 0H962.44V1H939.86zM984.62 0H989.30V1H984.62zM1007.01 0H1011.68V1H1007.01zM1020.44 0H1025.11V1H1020.44zM1033.87 0H1038.54V1H1033.87zM1042.82 0H1047.50V1H1042.82zM1074.16 0H1078.83V1H1074.16zM1083.11 0H1087.79V1H1083.11zM1092.06 0H1096.74V1H1092.06zM1105.49 0H1110.17V1H1105.49zM1118.92 0H1123.60V1H1118.92zM1127.88 0H1154.94V1H1127.88zM1392.00 0H1396.68V1H1392.00z" fill="#0a0a0a"/><path d="M299.69 0H304.37V1H299.69zM608.58 0H626.69V1H608.58zM680.21 0H684.89V1H680.21z" fill="#7f52a3"/><path d="M304.17 0H322.28V1H304.17zM335.51 0H550.59V1H335.51zM1387.52 0H1392.20V1H1387.52zM1517.35 0H1522.02V1H1517.35z" fill="#3953a4"/><path d="M322.08 0H335.71V1H322.08z" fill="#d9b382"/><path d="M550.39 0H555.06V1H550.39z" fill="#6fd3dc"/><path d="M577.25 0H581.92V1H577.25zM635.44 0H644.60V1H635.44zM648.87 0H653.55V1H648.87zM662.30 0H680.41V1H662.30zM684.69 0H743.08V1H684.69zM751.84 0H787.85V1H751.84zM1365.14 0H1369.82V1H1365.14z" fill="#f47f72"/><path d="M626.49 0H631.17V1H626.49zM657.83 0H662.50V1H657.83zM1427.81 0H1454.87V1H1427.81z" fill="#ee1c25"/><path d="M810.03 0H837.09V1H810.03z" fill="#f9bccd"/><path d="M836.89 0H841.57V1H836.89zM859.28 0H863.95V1H859.28zM899.57 0H908.72V1H899.57zM917.47 0H922.15V1H917.47zM975.67 0H980.35V1H975.67zM998.05 0H1002.73V1H998.05zM1029.39 0H1034.07V1H1029.39zM1047.30 0H1051.97V1H1047.30zM1056.25 0H1060.93V1H1056.25zM1114.45 0H1119.12V1H1114.45zM1154.74 0H1356.39V1H1154.74z" fill="#62c6c2"/><path d="M845.85 0H850.52V1H845.85zM863.75 0H868.43V1H863.75zM881.66 0H886.34V1H881.66zM989.10 0H993.78V1H989.10zM1038.34 0H1043.02V1H1038.34zM1065.20 0H1074.36V1H1065.20zM1078.63 0H1083.31V1H1078.63zM1087.59 0H1092.26V1H1087.59z" fill="#1a9a96"/><path d="M890.61 0H895.29V1H890.61zM913.00 0H917.67V1H913.00zM935.38 0H940.06V1H935.38zM1002.53 0H1007.21V1H1002.53zM1051.77 0H1056.45V1H1051.77zM1060.73 0H1065.40V1H1060.73zM1096.54 0H1101.22V1H1096.54zM1109.97 0H1114.65V1H1109.97zM1123.40 0H1128.08V1H1123.40z" fill="#1b6b38"/></g></defs>
<use href="#dendroD" transform="translate(1136.5 966.8) scale(0.27811 0.2002) translate(-183.3 -1655.5)"/>
<use href="#dendroD" transform="matrix(0 0.27699 0.1495 0 779.00 1056.43)"/>
<use href="#barsD" transform="matrix(0.27811 0 0 14 1085.52 1088)"/>
<use href="#barsD" transform="matrix(0 0.27699 14.8 0 1117.1 1056.43)"/>
<rect x="1136.5" y="1107.2" width="373.5" height="372.0" fill="#fdf8cc"/><path d="M1136.5 1108.4h12.6M1151.4 1108.4h5.1M1161.4 1108.4h5.1M1168.9 1108.4h5.1M1183.8 1108.4h59.9M1246.1 1108.4h2.6M1251.0 1108.4h10.1M1263.5 1108.4h40.0M1313.3 1108.4h17.6M1333.2 1108.4h2.6M1338.2 1108.4h22.6M1363.1 1108.4h87.3M1452.7 1108.4h7.6M1477.6 1108.4h30.0M1136.5 1110.9h12.6M1168.9 1110.9h2.6M1176.3 1110.9h2.6M1186.3 1110.9h2.6M1191.3 1110.9h2.6M1198.8 1110.9h12.6M1213.7 1110.9h5.1M1223.7 1110.9h17.6M1248.5 1110.9h2.6M1256.0 1110.9h2.6M1261.0 1110.9h10.1M1278.4 1110.9h2.6M1283.4 1110.9h2.6M1288.4 1110.9h10.1M1300.8 1110.9h2.6M1313.3 1110.9h7.6M1333.2 1110.9h2.6M1348.2 1110.9h2.6M1353.1 1110.9h5.1M1363.1 1110.9h5.1M1373.0 1110.9h15.1M1390.5 1110.9h5.1M1398.0 1110.9h64.9M1465.2 1110.9h5.1M1475.1 1110.9h15.1M1492.6 1110.9h10.1M1507.5 1110.9h2.6M1136.5 1113.4h12.6M1151.4 1113.4h5.1M1166.4 1113.4h5.1M1186.3 1113.4h10.1M1201.2 1113.4h7.6M1218.7 1113.4h22.6M1256.0 1113.4h25.1M1283.4 1113.4h27.5M1313.3 1113.4h5.1M1323.2 1113.4h10.1M1340.7 1113.4h129.6M1472.7 1113.4h30.0M1505.0 1113.4h2.6M1136.5 1115.9h15.1M1153.9 1115.9h2.6M1178.8 1115.9h2.6M1188.8 1115.9h5.1M1196.3 1115.9h2.6M1201.2 1115.9h2.6M1206.2 1115.9h10.1M1221.2 1115.9h20.1M1243.6 1115.9h2.6M1251.0 1115.9h5.1M1258.5 1115.9h5.1M1268.5 1115.9h35.0M1315.8 1115.9h2.6M1320.8 1115.9h2.6M1345.7 1115.9h5.1M1355.6 1115.9h27.5M1385.5 1115.9h77.3M1467.7 1115.9h2.6M1475.1 1115.9h15.1M1492.6 1115.9h12.6M1136.5 1118.4h15.1M1153.9 1118.4h2.6M1158.9 1118.4h2.6M1173.8 1118.4h2.6M1181.3 1118.4h57.4M1243.6 1118.4h2.6M1248.5 1118.4h2.6M1256.0 1118.4h2.6M1261.0 1118.4h2.6M1268.5 1118.4h2.6M1275.9 1118.4h5.1M1283.4 1118.4h25.1M1313.3 1118.4h5.1M1338.2 1118.4h2.6M1345.7 1118.4h25.1M1375.5 1118.4h87.3M1465.2 1118.4h2.6M1472.7 1118.4h2.6M1477.6 1118.4h25.1M1144.0 1120.8h12.6M1183.8 1120.8h5.1M1191.3 1120.8h7.6M1213.7 1120.8h5.1M1228.6 1120.8h10.1M1241.1 1120.8h2.6M1256.0 1120.8h2.6M1261.0 1120.8h10.1M1275.9 1120.8h10.1M1288.4 1120.8h2.6M1298.3 1120.8h7.6M1315.8 1120.8h2.6M1338.2 1120.8h2.6M1345.7 1120.8h10.1M1360.6 1120.8h5.1M1373.0 1120.8h5.1M1400.4 1120.8h5.1M1407.9 1120.8h2.6M1415.4 1120.8h2.6M1420.4 1120.8h5.1M1427.8 1120.8h17.6M1450.2 1120.8h7.6M1460.2 1120.8h5.1M1472.7 1120.8h5.1M1482.6 1120.8h5.1M1495.1 1120.8h2.6M1500.0 1120.8h2.6M1507.5 1120.8h2.6M1136.5 1123.3h2.6M1141.5 1123.3h2.6M1149.0 1123.3h5.1M1158.9 1123.3h2.6M1163.9 1123.3h2.6M1181.3 1123.3h2.6M1196.3 1123.3h5.1M1203.7 1123.3h2.6M1211.2 1123.3h10.1M1223.7 1123.3h5.1M1231.1 1123.3h2.6M1236.1 1123.3h5.1M1248.5 1123.3h2.6M1258.5 1123.3h10.1M1275.9 1123.3h5.1M1283.4 1123.3h12.6M1298.3 1123.3h12.6M1315.8 1123.3h2.6M1323.2 1123.3h5.1M1330.7 1123.3h2.6M1343.2 1123.3h2.6M1353.1 1123.3h2.6M1370.6 1123.3h10.1M1383.0 1123.3h2.6M1388.0 1123.3h12.6M1402.9 1123.3h2.6M1407.9 1123.3h15.1M1427.8 1123.3h30.0M1460.2 1123.3h2.6M1465.2 1123.3h2.6M1482.6 1123.3h5.1M1492.6 1123.3h12.6M1136.5 1125.8h2.6M1141.5 1125.8h10.1M1156.4 1125.8h35.0M1193.8 1125.8h12.6M1238.6 1125.8h2.6M1243.6 1125.8h27.5M1303.3 1125.8h12.6M1318.3 1125.8h30.0M1355.6 1125.8h2.6M1360.6 1125.8h2.6M1370.6 1125.8h2.6M1465.2 1125.8h15.1M1490.1 1125.8h2.6M1502.5 1125.8h7.6M1153.9 1128.3h20.1M1176.3 1128.3h2.6M1181.3 1128.3h7.6M1191.3 1128.3h2.6M1198.8 1128.3h40.0M1241.1 1128.3h2.6M1246.1 1128.3h2.6M1251.0 1128.3h7.6M1261.0 1128.3h5.1M1268.5 1128.3h2.6M1273.5 1128.3h2.6M1278.4 1128.3h32.5M1313.3 1128.3h2.6M1318.3 1128.3h2.6M1328.2 1128.3h12.6M1343.2 1128.3h2.6M1350.6 1128.3h10.1M1363.1 1128.3h102.2M1467.7 1128.3h2.6M1475.1 1128.3h30.0M1146.5 1130.8h2.6M1151.4 1130.8h27.5M1181.3 1130.8h2.6M1186.3 1130.8h15.1M1203.7 1130.8h7.6M1213.7 1130.8h25.1M1251.0 1130.8h2.6M1256.0 1130.8h2.6M1266.0 1130.8h2.6M1271.0 1130.8h12.6M1285.9 1130.8h20.1M1310.8 1130.8h2.6M1315.8 1130.8h5.1M1325.7 1130.8h7.6M1335.7 1130.8h97.3M1435.3 1130.8h15.1M1452.7 1130.8h7.6M1465.2 1130.8h2.6M1475.1 1130.8h27.5M1505.0 1130.8h5.1M1136.5 1133.2h2.6M1153.9 1133.2h7.6M1163.9 1133.2h10.1M1178.8 1133.2h2.6M1183.8 1133.2h12.6M1201.2 1133.2h15.1M1218.7 1133.2h20.1M1261.0 1133.2h2.6M1268.5 1133.2h5.1M1278.4 1133.2h27.5M1313.3 1133.2h5.1M1320.8 1133.2h2.6M1325.7 1133.2h7.6M1340.7 1133.2h2.6M1345.7 1133.2h40.0M1390.5 1133.2h72.4M1465.2 1133.2h2.6M1475.1 1133.2h15.1M1492.6 1133.2h12.6M1136.5 1135.7h2.6M1151.4 1135.7h25.1M1183.8 1135.7h10.1M1196.3 1135.7h10.1M1208.7 1135.7h30.0M1243.6 1135.7h10.1M1261.0 1135.7h5.1M1268.5 1135.7h5.1M1275.9 1135.7h27.5M1318.3 1135.7h2.6M1323.2 1135.7h2.6M1330.7 1135.7h5.1M1343.2 1135.7h10.1M1355.6 1135.7h5.1M1363.1 1135.7h17.6M1383.0 1135.7h79.8M1467.7 1135.7h2.6M1477.6 1135.7h2.6M1482.6 1135.7h22.6M1141.5 1138.2h2.6M1153.9 1138.2h20.1M1176.3 1138.2h12.6M1191.3 1138.2h7.6M1201.2 1138.2h37.5M1256.0 1138.2h2.6M1261.0 1138.2h2.6M1266.0 1138.2h37.5M1313.3 1138.2h10.1M1328.2 1138.2h5.1M1343.2 1138.2h37.5M1383.0 1138.2h82.3M1472.7 1138.2h7.6M1482.6 1138.2h22.6M1136.5 1140.7h7.6M1153.9 1140.7h15.1M1171.4 1140.7h12.6M1186.3 1140.7h12.6M1201.2 1140.7h37.5M1246.1 1140.7h2.6M1256.0 1140.7h2.6M1263.5 1140.7h2.6M1268.5 1140.7h37.5M1308.3 1140.7h10.1M1320.8 1140.7h2.6M1325.7 1140.7h7.6M1335.7 1140.7h5.1M1343.2 1140.7h17.6M1363.1 1140.7h99.8M1465.2 1140.7h2.6M1470.2 1140.7h2.6M1477.6 1140.7h12.6M1492.6 1140.7h10.1M1505.0 1140.7h5.1M1136.5 1143.2h2.6M1153.9 1143.2h20.1M1176.3 1143.2h10.1M1188.8 1143.2h7.6M1198.8 1143.2h5.1M1208.7 1143.2h30.0M1246.1 1143.2h10.1M1258.5 1143.2h45.0M1310.8 1143.2h2.6M1315.8 1143.2h2.6M1320.8 1143.2h5.1M1333.2 1143.2h2.6M1338.2 1143.2h15.1M1358.1 1143.2h30.0M1390.5 1143.2h72.4M1465.2 1143.2h5.1M1475.1 1143.2h2.6M1480.1 1143.2h22.6M1505.0 1143.2h2.6M1146.5 1145.6h2.6M1153.9 1145.6h2.6M1158.9 1145.6h2.6M1163.9 1145.6h2.6M1168.9 1145.6h2.6M1173.8 1145.6h2.6M1181.3 1145.6h22.6M1206.2 1145.6h32.5M1241.1 1145.6h5.1M1248.5 1145.6h2.6M1253.5 1145.6h5.1M1261.0 1145.6h5.1M1271.0 1145.6h2.6M1275.9 1145.6h35.0M1313.3 1145.6h5.1M1320.8 1145.6h7.6M1335.7 1145.6h2.6M1343.2 1145.6h2.6M1348.2 1145.6h12.6M1363.1 1145.6h99.8M1465.2 1145.6h5.1M1472.7 1145.6h2.6M1477.6 1145.6h25.1M1505.0 1145.6h2.6M1139.0 1148.1h2.6M1153.9 1148.1h7.6M1166.4 1148.1h7.6M1178.8 1148.1h12.6M1193.8 1148.1h25.1M1241.1 1148.1h2.6M1246.1 1148.1h2.6M1253.5 1148.1h25.1M1280.9 1148.1h5.1M1303.3 1148.1h47.5M1353.1 1148.1h10.1M1365.6 1148.1h17.6M1385.5 1148.1h5.1M1405.4 1148.1h2.6M1462.7 1148.1h17.6M1490.1 1148.1h2.6M1502.5 1148.1h7.6M1144.0 1150.6h2.6M1153.9 1150.6h2.6M1161.4 1150.6h2.6M1166.4 1150.6h7.6M1176.3 1150.6h2.6M1188.8 1150.6h5.1M1238.6 1150.6h2.6M1248.5 1150.6h45.0M1295.9 1150.6h5.1M1303.3 1150.6h7.6M1313.3 1150.6h15.1M1330.7 1150.6h67.4M1402.9 1150.6h5.1M1425.3 1150.6h2.6M1467.7 1150.6h2.6M1472.7 1150.6h22.6M1497.5 1150.6h5.1M1505.0 1150.6h5.1M1146.5 1153.1h2.6M1151.4 1153.1h10.1M1166.4 1153.1h12.6M1188.8 1153.1h5.1M1241.1 1153.1h17.6M1261.0 1153.1h17.6M1280.9 1153.1h5.1M1303.3 1153.1h27.5M1333.2 1153.1h2.6M1338.2 1153.1h12.6M1353.1 1153.1h30.0M1385.5 1153.1h5.1M1405.4 1153.1h2.6M1462.7 1153.1h2.6M1470.2 1153.1h17.6M1490.1 1153.1h2.6M1505.0 1153.1h2.6M1136.5 1155.6h2.6M1146.5 1155.6h5.1M1153.9 1155.6h5.1M1161.4 1155.6h7.6M1171.4 1155.6h7.6M1188.8 1155.6h5.1M1238.6 1155.6h2.6M1243.6 1155.6h2.6M1248.5 1155.6h25.1M1275.9 1155.6h2.6M1280.9 1155.6h5.1M1303.3 1155.6h47.5M1353.1 1155.6h10.1M1365.6 1155.6h17.6M1385.5 1155.6h5.1M1462.7 1155.6h17.6M1482.6 1155.6h2.6M1490.1 1155.6h2.6M1502.5 1155.6h7.6M1136.5 1158.0h7.6M1146.5 1158.0h5.1M1153.9 1158.0h17.6M1173.8 1158.0h5.1M1188.8 1158.0h5.1M1241.1 1158.0h17.6M1261.0 1158.0h12.6M1275.9 1158.0h2.6M1280.9 1158.0h5.1M1303.3 1158.0h47.5M1353.1 1158.0h10.1M1365.6 1158.0h17.6M1385.5 1158.0h5.1M1465.2 1158.0h2.6M1470.2 1158.0h10.1M1482.6 1158.0h2.6M1490.1 1158.0h2.6M1505.0 1158.0h5.1M1136.5 1160.5h2.6M1141.5 1160.5h7.6M1153.9 1160.5h2.6M1158.9 1160.5h7.6M1168.9 1160.5h20.1M1193.8 1160.5h20.1M1238.6 1160.5h2.6M1243.6 1160.5h30.0M1275.9 1160.5h2.6M1303.3 1160.5h45.0M1353.1 1160.5h10.1M1365.6 1160.5h2.6M1370.6 1160.5h2.6M1378.0 1160.5h2.6M1388.0 1160.5h2.6M1462.7 1160.5h17.6M1490.1 1160.5h2.6M1505.0 1160.5h5.1M1136.5 1163.0h15.1M1156.4 1163.0h20.1M1178.8 1163.0h10.1M1196.3 1163.0h2.6M1238.6 1163.0h17.6M1258.5 1163.0h12.6M1303.3 1163.0h12.6M1318.3 1163.0h20.1M1340.7 1163.0h2.6M1462.7 1163.0h15.1M1505.0 1163.0h5.1M1136.5 1165.5h2.6M1141.5 1165.5h2.6M1146.5 1165.5h5.1M1153.9 1165.5h2.6M1158.9 1165.5h5.1M1166.4 1165.5h12.6M1188.8 1165.5h2.6M1246.1 1165.5h5.1M1253.5 1165.5h5.1M1261.0 1165.5h17.6M1280.9 1165.5h5.1M1303.3 1165.5h47.5M1353.1 1165.5h30.0M1385.5 1165.5h5.1M1405.4 1165.5h2.6M1462.7 1165.5h2.6M1467.7 1165.5h12.6M1482.6 1165.5h2.6M1490.1 1165.5h2.6M1505.0 1165.5h5.1M1136.5 1168.0h2.6M1144.0 1168.0h12.6M1158.9 1168.0h2.6M1163.9 1168.0h7.6M1173.8 1168.0h5.1M1188.8 1168.0h5.1M1238.6 1168.0h15.1M1256.0 1168.0h2.6M1261.0 1168.0h12.6M1280.9 1168.0h5.1M1303.3 1168.0h47.5M1353.1 1168.0h10.1M1365.6 1168.0h17.6M1385.5 1168.0h5.1M1462.7 1168.0h2.6M1467.7 1168.0h12.6M1482.6 1168.0h2.6M1490.1 1168.0h2.6M1505.0 1168.0h5.1M1136.5 1170.4h5.1M1146.5 1170.4h2.6M1151.4 1170.4h10.1M1163.9 1170.4h2.6M1171.4 1170.4h7.6M1188.8 1170.4h2.6M1238.6 1170.4h2.6M1243.6 1170.4h30.0M1280.9 1170.4h5.1M1303.3 1170.4h47.5M1353.1 1170.4h10.1M1365.6 1170.4h17.6M1385.5 1170.4h2.6M1465.2 1170.4h15.1M1490.1 1170.4h2.6M1505.0 1170.4h5.1M1136.5 1172.9h12.6M1153.9 1172.9h5.1M1161.4 1172.9h17.6M1188.8 1172.9h2.6M1238.6 1172.9h20.1M1261.0 1172.9h10.1M1283.4 1172.9h2.6M1303.3 1172.9h45.0M1353.1 1172.9h10.1M1365.6 1172.9h2.6M1370.6 1172.9h2.6M1378.0 1172.9h2.6M1462.7 1172.9h17.6M1490.1 1172.9h2.6M1505.0 1172.9h5.1M1136.5 1175.4h7.6M1146.5 1175.4h2.6M1151.4 1175.4h20.1M1176.3 1175.4h2.6M1188.8 1175.4h2.6M1238.6 1175.4h2.6M1243.6 1175.4h2.6M1248.5 1175.4h2.6M1253.5 1175.4h5.1M1261.0 1175.4h17.6M1280.9 1175.4h5.1M1303.3 1175.4h47.5M1353.1 1175.4h10.1M1365.6 1175.4h17.6M1385.5 1175.4h2.6M1405.4 1175.4h2.6M1462.7 1175.4h17.6M1482.6 1175.4h2.6M1490.1 1175.4h2.6M1502.5 1175.4h7.6M1136.5 1177.9h12.6M1156.4 1177.9h7.6M1166.4 1177.9h5.1M1173.8 1177.9h5.1M1188.8 1177.9h2.6M1238.6 1177.9h12.6M1253.5 1177.9h5.1M1261.0 1177.9h12.6M1303.3 1177.9h45.0M1353.1 1177.9h10.1M1365.6 1177.9h2.6M1370.6 1177.9h5.1M1380.5 1177.9h2.6M1385.5 1177.9h2.6M1462.7 1177.9h17.6M1490.1 1177.9h2.6M1505.0 1177.9h5.1M1136.5 1180.4h5.1M1144.0 1180.4h5.1M1156.4 1180.4h22.6M1188.8 1180.4h2.6M1238.6 1180.4h20.1M1261.0 1180.4h10.1M1303.3 1180.4h12.6M1318.3 1180.4h30.0M1360.6 1180.4h2.6M1462.7 1180.4h2.6M1467.7 1180.4h12.6M1505.0 1180.4h5.1M1136.5 1182.8h2.6M1144.0 1182.8h5.1M1151.4 1182.8h2.6M1156.4 1182.8h2.6M1161.4 1182.8h17.6M1188.8 1182.8h2.6M1238.6 1182.8h32.5M1303.3 1182.8h12.6M1318.3 1182.8h30.0M1353.1 1182.8h5.1M1360.6 1182.8h2.6M1462.7 1182.8h17.6M1505.0 1182.8h5.1M1136.5 1185.3h5.1M1144.0 1185.3h10.1M1156.4 1185.3h22.6M1238.6 1185.3h17.6M1261.0 1185.3h10.1M1303.3 1185.3h12.6M1318.3 1185.3h20.1M1340.7 1185.3h2.6M1462.7 1185.3h15.1M1505.0 1185.3h5.1M1136.5 1187.8h5.1M1146.5 1187.8h7.6M1156.4 1187.8h5.1M1163.9 1187.8h15.1M1238.6 1187.8h5.1M1246.1 1187.8h25.1M1303.3 1187.8h12.6M1318.3 1187.8h27.5M1360.6 1187.8h2.6M1370.6 1187.8h2.6M1462.7 1187.8h15.1M1502.5 1187.8h7.6M1136.5 1190.3h2.6M1141.5 1190.3h2.6M1146.5 1190.3h2.6M1151.4 1190.3h2.6M1156.4 1190.3h20.1M1238.6 1190.3h17.6M1261.0 1190.3h7.6M1303.3 1190.3h12.6M1318.3 1190.3h20.1M1340.7 1190.3h2.6M1462.7 1190.3h15.1M1505.0 1190.3h5.1M1136.5 1192.8h2.6M1141.5 1192.8h7.6M1156.4 1192.8h20.1M1238.6 1192.8h17.6M1305.8 1192.8h7.6M1320.8 1192.8h5.1M1330.7 1192.8h2.6M1335.7 1192.8h2.6M1340.7 1192.8h2.6M1462.7 1192.8h12.6M1502.5 1192.8h2.6M1507.5 1192.8h2.6M1136.5 1195.2h12.6M1151.4 1195.2h2.6M1156.4 1195.2h20.1M1238.6 1195.2h17.6M1263.5 1195.2h2.6M1305.8 1195.2h7.6M1323.2 1195.2h2.6M1330.7 1195.2h7.6M1340.7 1195.2h2.6M1462.7 1195.2h12.6M1507.5 1195.2h2.6M1136.5 1197.7h12.6M1151.4 1197.7h2.6M1156.4 1197.7h20.1M1238.6 1197.7h17.6M1308.3 1197.7h2.6M1335.7 1197.7h2.6M1462.7 1197.7h10.1M1136.5 1200.2h15.1M1156.4 1200.2h20.1M1238.6 1200.2h17.6M1308.3 1200.2h5.1M1335.7 1200.2h2.6M1462.7 1200.2h12.6M1502.5 1200.2h2.6M1507.5 1200.2h2.6M1136.5 1202.7h17.6M1156.4 1202.7h20.1M1238.6 1202.7h17.6M1308.3 1202.7h5.1M1323.2 1202.7h2.6M1335.7 1202.7h2.6M1462.7 1202.7h10.1M1136.5 1205.2h15.1M1156.4 1205.2h20.1M1238.6 1205.2h17.6M1308.3 1205.2h5.1M1323.2 1205.2h2.6M1330.7 1205.2h7.6M1462.7 1205.2h12.6M1136.5 1207.6h17.6M1156.4 1207.6h20.1M1238.6 1207.6h10.1M1251.0 1207.6h5.1M1308.3 1207.6h2.6M1462.7 1207.6h5.1M1470.2 1207.6h2.6M1502.5 1207.6h2.6M1136.5 1210.1h10.1M1151.4 1210.1h5.1M1178.8 1210.1h2.6M1183.8 1210.1h2.6M1188.8 1210.1h5.1M1196.3 1210.1h62.4M1268.5 1210.1h2.6M1273.5 1210.1h10.1M1285.9 1210.1h17.6M1310.8 1210.1h2.6M1315.8 1210.1h2.6M1320.8 1210.1h5.1M1338.2 1210.1h7.6M1348.2 1210.1h7.6M1358.1 1210.1h22.6M1383.0 1210.1h79.8M1467.7 1210.1h5.1M1475.1 1210.1h27.5M1505.0 1210.1h2.6M1136.5 1212.6h2.6M1149.0 1212.6h2.6M1156.4 1212.6h2.6M1173.8 1212.6h5.1M1181.3 1212.6h2.6M1186.3 1212.6h2.6M1191.3 1212.6h2.6M1196.3 1212.6h2.6M1201.2 1212.6h2.6M1206.2 1212.6h42.5M1251.0 1212.6h2.6M1256.0 1212.6h2.6M1261.0 1212.6h7.6M1271.0 1212.6h32.5M1305.8 1212.6h2.6M1315.8 1212.6h2.6M1325.7 1212.6h7.6M1340.7 1212.6h12.6M1355.6 1212.6h5.1M1363.1 1212.6h2.6M1368.1 1212.6h2.6M1373.0 1212.6h89.8M1465.2 1212.6h5.1M1475.1 1212.6h2.6M1480.1 1212.6h25.1M1507.5 1212.6h2.6M1144.0 1215.1h5.1M1153.9 1215.1h2.6M1163.9 1215.1h2.6M1173.8 1215.1h2.6M1181.3 1215.1h12.6M1196.3 1215.1h20.1M1218.7 1215.1h40.0M1263.5 1215.1h7.6M1273.5 1215.1h30.0M1305.8 1215.1h2.6M1313.3 1215.1h10.1M1325.7 1215.1h2.6M1335.7 1215.1h5.1M1345.7 1215.1h30.0M1378.0 1215.1h84.8M1475.1 1215.1h27.5M1136.5 1217.6h2.6M1153.9 1217.6h5.1M1163.9 1217.6h2.6M1168.9 1217.6h5.1M1176.3 1217.6h2.6M1181.3 1217.6h2.6M1186.3 1217.6h17.6M1206.2 1217.6h40.0M1251.0 1217.6h2.6M1256.0 1217.6h5.1M1263.5 1217.6h42.5M1313.3 1217.6h5.1M1325.7 1217.6h2.6M1330.7 1217.6h7.6M1340.7 1217.6h15.1M1358.1 1217.6h15.1M1375.5 1217.6h74.9M1452.7 1217.6h7.6M1462.7 1217.6h2.6M1470.2 1217.6h7.6M1480.1 1217.6h25.1M1139.0 1220.0h2.6M1146.5 1220.0h2.6M1151.4 1220.0h5.1M1163.9 1220.0h2.6M1171.4 1220.0h5.1M1178.8 1220.0h57.4M1238.6 1220.0h2.6M1243.6 1220.0h2.6M1261.0 1220.0h2.6M1266.0 1220.0h42.5M1310.8 1220.0h2.6M1315.8 1220.0h2.6M1320.8 1220.0h2.6M1325.7 1220.0h2.6M1330.7 1220.0h2.6M1335.7 1220.0h5.1M1343.2 1220.0h77.3M1422.8 1220.0h10.1M1435.3 1220.0h2.6M1440.3 1220.0h7.6M1452.7 1220.0h7.6M1462.7 1220.0h2.6M1470.2 1220.0h32.5M1505.0 1220.0h2.6M1136.5 1222.5h2.6M1144.0 1222.5h2.6M1153.9 1222.5h7.6M1163.9 1222.5h2.6M1171.4 1222.5h2.6M1178.8 1222.5h15.1M1196.3 1222.5h7.6M1208.7 1222.5h40.0M1251.0 1222.5h2.6M1266.0 1222.5h10.1M1278.4 1222.5h30.0M1313.3 1222.5h5.1M1320.8 1222.5h2.6M1325.7 1222.5h7.6M1335.7 1222.5h7.6M1345.7 1222.5h25.1M1373.0 1222.5h87.3M1462.7 1222.5h2.6M1472.7 1222.5h30.0M1507.5 1222.5h2.6M1136.5 1225.0h2.6M1144.0 1225.0h2.6M1153.9 1225.0h5.1M1171.4 1225.0h25.1M1198.8 1225.0h42.5M1243.6 1225.0h2.6M1256.0 1225.0h2.6M1261.0 1225.0h2.6M1268.5 1225.0h12.6M1283.4 1225.0h20.1M1305.8 1225.0h2.6M1313.3 1225.0h7.6M1323.2 1225.0h7.6M1338.2 1225.0h35.0M1375.5 1225.0h12.6M1390.5 1225.0h59.9M1452.7 1225.0h7.6M1465.2 1225.0h2.6M1472.7 1225.0h30.0M1507.5 1225.0h2.6M1136.5 1227.5h7.6M1146.5 1227.5h5.1M1153.9 1227.5h7.6M1166.4 1227.5h5.1M1173.8 1227.5h17.6M1193.8 1227.5h20.1M1216.2 1227.5h2.6M1238.6 1227.5h10.1M1253.5 1227.5h2.6M1261.0 1227.5h12.6M1280.9 1227.5h5.1M1303.3 1227.5h45.0M1353.1 1227.5h10.1M1365.6 1227.5h2.6M1370.6 1227.5h5.1M1378.0 1227.5h2.6M1385.5 1227.5h5.1M1462.7 1227.5h2.6M1467.7 1227.5h2.6M1472.7 1227.5h7.6M1482.6 1227.5h2.6M1490.1 1227.5h2.6M1505.0 1227.5h5.1M1136.5 1230.0h2.6M1141.5 1230.0h5.1M1151.4 1230.0h5.1M1171.4 1230.0h2.6M1176.3 1230.0h5.1M1183.8 1230.0h2.6M1188.8 1230.0h5.1M1198.8 1230.0h2.6M1211.2 1230.0h2.6M1216.2 1230.0h2.6M1246.1 1230.0h2.6M1258.5 1230.0h2.6M1273.5 1230.0h5.1M1280.9 1230.0h2.6M1288.4 1230.0h2.6M1303.3 1230.0h7.6M1325.7 1230.0h2.6M1345.7 1230.0h5.1M1370.6 1230.0h2.6M1375.5 1230.0h2.6M1380.5 1230.0h2.6M1405.4 1230.0h7.6M1447.8 1230.0h7.6M1457.7 1230.0h2.6M1467.7 1230.0h2.6M1472.7 1230.0h2.6M1492.6 1230.0h2.6M1497.5 1230.0h2.6M1502.5 1230.0h7.6M1139.0 1232.4h20.1M1161.4 1232.4h7.6M1171.4 1232.4h50.0M1241.1 1232.4h2.6M1248.5 1232.4h2.6M1253.5 1232.4h5.1M1303.3 1232.4h20.1M1325.7 1232.4h64.9M1405.4 1232.4h2.6M1462.7 1232.4h32.5M1505.0 1232.4h5.1M1136.5 1234.9h7.6M1149.0 1234.9h10.1M1163.9 1234.9h2.6M1168.9 1234.9h52.4M1223.7 1234.9h2.6M1241.1 1234.9h7.6M1256.0 1234.9h2.6M1303.3 1234.9h5.1M1310.8 1234.9h87.3M1405.4 1234.9h2.6M1462.7 1234.9h32.5M1497.5 1234.9h5.1M1505.0 1234.9h2.6M1136.5 1237.4h7.6M1149.0 1237.4h7.6M1158.9 1237.4h2.6M1166.4 1237.4h2.6M1171.4 1237.4h2.6M1176.3 1237.4h45.0M1241.1 1237.4h12.6M1256.0 1237.4h2.6M1303.3 1237.4h47.5M1353.1 1237.4h10.1M1365.6 1237.4h17.6M1385.5 1237.4h5.1M1405.4 1237.4h2.6M1462.7 1237.4h2.6M1467.7 1237.4h17.6M1490.1 1237.4h2.6M1505.0 1237.4h5.1M1136.5 1239.9h15.1M1153.9 1239.9h5.1M1161.4 1239.9h12.6M1176.3 1239.9h42.5M1238.6 1239.9h2.6M1243.6 1239.9h15.1M1303.3 1239.9h47.5M1353.1 1239.9h10.1M1365.6 1239.9h17.6M1385.5 1239.9h5.1M1405.4 1239.9h2.6M1462.7 1239.9h2.6M1467.7 1239.9h17.6M1490.1 1239.9h2.6M1505.0 1239.9h5.1M1136.5 1242.4h2.6M1141.5 1242.4h5.1M1158.9 1242.4h32.5M1193.8 1242.4h7.6M1203.7 1242.4h5.1M1241.1 1242.4h2.6M1246.1 1242.4h12.6M1303.3 1242.4h12.6M1318.3 1242.4h30.0M1353.1 1242.4h5.1M1360.6 1242.4h2.6M1370.6 1242.4h2.6M1462.7 1242.4h17.6M1505.0 1242.4h5.1M1136.5 1244.8h2.6M1141.5 1244.8h5.1M1156.4 1244.8h5.1M1166.4 1244.8h7.6M1176.3 1244.8h7.6M1193.8 1244.8h2.6M1203.7 1244.8h2.6M1238.6 1244.8h17.6M1258.5 1244.8h2.6M1303.3 1244.8h12.6M1318.3 1244.8h30.0M1360.6 1244.8h2.6M1462.7 1244.8h15.1M1502.5 1244.8h7.6M1136.5 1247.3h2.6M1141.5 1247.3h12.6M1158.9 1247.3h2.6M1163.9 1247.3h27.5M1193.8 1247.3h2.6M1203.7 1247.3h2.6M1238.6 1247.3h12.6M1253.5 1247.3h2.6M1258.5 1247.3h2.6M1303.3 1247.3h12.6M1318.3 1247.3h30.0M1462.7 1247.3h15.1M1505.0 1247.3h5.1M1136.5 1249.8h17.6M1156.4 1249.8h20.1M1178.8 1249.8h2.6M1238.6 1249.8h17.6M1303.3 1249.8h10.1M1318.3 1249.8h7.6M1328.2 1249.8h10.1M1340.7 1249.8h2.6M1462.7 1249.8h12.6M1502.5 1249.8h7.6M1136.5 1252.3h2.6M1144.0 1252.3h2.6M1149.0 1252.3h2.6M1156.4 1252.3h32.5M1193.8 1252.3h7.6M1203.7 1252.3h2.6M1238.6 1252.3h15.1M1256.0 1252.3h5.1M1303.3 1252.3h12.6M1318.3 1252.3h30.0M1360.6 1252.3h2.6M1462.7 1252.3h2.6M1467.7 1252.3h10.1M1490.1 1252.3h2.6M1505.0 1252.3h5.1M1136.5 1254.8h17.6M1156.4 1254.8h2.6M1161.4 1254.8h27.5M1193.8 1254.8h12.6M1241.1 1254.8h17.6M1303.3 1254.8h12.6M1318.3 1254.8h30.0M1353.1 1254.8h2.6M1360.6 1254.8h2.6M1462.7 1254.8h15.1M1505.0 1254.8h5.1M1136.5 1257.2h2.6M1141.5 1257.2h7.6M1151.4 1257.2h2.6M1156.4 1257.2h20.1M1178.8 1257.2h2.6M1238.6 1257.2h17.6M1303.3 1257.2h10.1M1318.3 1257.2h7.6M1328.2 1257.2h10.1M1340.7 1257.2h2.6M1462.7 1257.2h12.6M1505.0 1257.2h5.1M1136.5 1259.7h17.6M1156.4 1259.7h20.1M1178.8 1259.7h2.6M1238.6 1259.7h17.6M1258.5 1259.7h2.6M1303.3 1259.7h10.1M1318.3 1259.7h7.6M1328.2 1259.7h10.1M1340.7 1259.7h2.6M1462.7 1259.7h12.6M1505.0 1259.7h5.1M1136.5 1262.2h12.6M1151.4 1262.2h2.6M1156.4 1262.2h20.1M1178.8 1262.2h2.6M1238.6 1262.2h17.6M1303.3 1262.2h12.6M1318.3 1262.2h20.1M1340.7 1262.2h2.6M1462.7 1262.2h12.6M1505.0 1262.2h5.1M1136.5 1264.7h12.6M1151.4 1264.7h2.6M1156.4 1264.7h20.1M1238.6 1264.7h17.6M1303.3 1264.7h10.1M1318.3 1264.7h20.1M1340.7 1264.7h2.6M1462.7 1264.7h12.6M1505.0 1264.7h5.1M1136.5 1267.2h12.6M1156.4 1267.2h20.1M1178.8 1267.2h2.6M1238.6 1267.2h17.6M1305.8 1267.2h7.6M1318.3 1267.2h2.6M1323.2 1267.2h2.6M1328.2 1267.2h10.1M1340.7 1267.2h2.6M1462.7 1267.2h12.6M1505.0 1267.2h5.1M1136.5 1269.6h2.6M1141.5 1269.6h12.6M1156.4 1269.6h20.1M1178.8 1269.6h2.6M1238.6 1269.6h17.6M1308.3 1269.6h5.1M1320.8 1269.6h5.1M1328.2 1269.6h10.1M1462.7 1269.6h12.6M1507.5 1269.6h2.6M1136.5 1272.1h17.6M1156.4 1272.1h20.1M1238.6 1272.1h17.6M1462.7 1272.1h7.6M1141.5 1274.6h2.6M1146.5 1274.6h17.6M1168.9 1274.6h2.6M1173.8 1274.6h47.5M1246.1 1274.6h7.6M1256.0 1274.6h40.0M1462.7 1274.6h32.5M1497.5 1274.6h5.1M1505.0 1274.6h2.6M1141.5 1277.1h2.6M1146.5 1277.1h2.6M1151.4 1277.1h7.6M1173.8 1277.1h52.4M1241.1 1277.1h5.1M1248.5 1277.1h50.0M1467.7 1277.1h2.6M1472.7 1277.1h30.0M1505.0 1277.1h2.6M1141.5 1279.6h2.6M1151.4 1279.6h7.6M1168.9 1279.6h2.6M1173.8 1279.6h64.9M1256.0 1279.6h7.6M1266.0 1279.6h35.0M1465.2 1279.6h2.6M1477.6 1279.6h25.1M1505.0 1279.6h5.1M1153.9 1282.0h2.6M1158.9 1282.0h2.6M1168.9 1282.0h5.1M1176.3 1282.0h2.6M1181.3 1282.0h45.0M1228.6 1282.0h7.6M1238.6 1282.0h2.6M1248.5 1282.0h2.6M1256.0 1282.0h2.6M1261.0 1282.0h40.0M1465.2 1282.0h37.5M1507.5 1282.0h2.6M1136.5 1284.5h7.6M1146.5 1284.5h2.6M1153.9 1284.5h5.1M1161.4 1284.5h2.6M1166.4 1284.5h5.1M1173.8 1284.5h47.5M1243.6 1284.5h5.1M1251.0 1284.5h7.6M1261.0 1284.5h17.6M1280.9 1284.5h5.1M1290.9 1284.5h2.6M1470.2 1284.5h25.1M1500.0 1284.5h2.6M1505.0 1284.5h5.1M1136.5 1287.0h17.6M1158.9 1287.0h5.1M1166.4 1287.0h25.1M1193.8 1287.0h15.1M1238.6 1287.0h20.1M1261.0 1287.0h10.1M1462.7 1287.0h17.6M1490.1 1287.0h2.6M1505.0 1287.0h5.1M1136.5 1289.5h5.1M1153.9 1289.5h7.6M1163.9 1289.5h5.1M1176.3 1289.5h45.0M1243.6 1289.5h2.6M1253.5 1289.5h5.1M1261.0 1289.5h37.5M1462.7 1289.5h2.6M1467.7 1289.5h5.1M1475.1 1289.5h20.1M1497.5 1289.5h5.1M1505.0 1289.5h5.1M1136.5 1292.0h2.6M1144.0 1292.0h2.6M1153.9 1292.0h2.6M1161.4 1292.0h2.6M1166.4 1292.0h57.4M1238.6 1292.0h2.6M1243.6 1292.0h2.6M1248.5 1292.0h5.1M1256.0 1292.0h2.6M1261.0 1292.0h35.0M1298.3 1292.0h2.6M1465.2 1292.0h30.0M1497.5 1292.0h5.1M1507.5 1292.0h2.6M1136.5 1294.4h2.6M1141.5 1294.4h2.6M1151.4 1294.4h5.1M1163.9 1294.4h2.6M1171.4 1294.4h54.9M1231.1 1294.4h5.1M1238.6 1294.4h2.6M1253.5 1294.4h5.1M1263.5 1294.4h37.5M1470.2 1294.4h32.5M1505.0 1294.4h5.1M1136.5 1296.9h2.6M1141.5 1296.9h2.6M1151.4 1296.9h5.1M1158.9 1296.9h5.1M1168.9 1296.9h2.6M1173.8 1296.9h47.5M1241.1 1296.9h37.5M1280.9 1296.9h5.1M1290.9 1296.9h5.1M1462.7 1296.9h7.6M1472.7 1296.9h22.6M1497.5 1296.9h12.6M1136.5 1299.4h2.6M1141.5 1299.4h2.6M1153.9 1299.4h10.1M1166.4 1299.4h5.1M1176.3 1299.4h2.6M1181.3 1299.4h40.0M1241.1 1299.4h2.6M1251.0 1299.4h7.6M1261.0 1299.4h40.0M1465.2 1299.4h5.1M1472.7 1299.4h30.0M1505.0 1299.4h5.1M1141.5 1301.9h2.6M1151.4 1301.9h20.1M1176.3 1301.9h5.1M1183.8 1301.9h42.5M1233.6 1301.9h2.6M1241.1 1301.9h2.6M1246.1 1301.9h7.6M1256.0 1301.9h2.6M1261.0 1301.9h40.0M1465.2 1301.9h37.5M1505.0 1301.9h5.1M1136.5 1304.4h5.1M1153.9 1304.4h5.1M1163.9 1304.4h2.6M1171.4 1304.4h2.6M1176.3 1304.4h45.0M1223.7 1304.4h2.6M1233.6 1304.4h2.6M1246.1 1304.4h2.6M1256.0 1304.4h2.6M1261.0 1304.4h40.0M1465.2 1304.4h5.1M1475.1 1304.4h27.5M1505.0 1304.4h5.1M1153.9 1306.8h7.6M1168.9 1306.8h2.6M1173.8 1306.8h7.6M1183.8 1306.8h52.4M1243.6 1306.8h10.1M1256.0 1306.8h2.6M1261.0 1306.8h40.0M1462.7 1306.8h7.6M1472.7 1306.8h30.0M1507.5 1306.8h2.6M1136.5 1309.3h2.6M1146.5 1309.3h5.1M1153.9 1309.3h7.6M1168.9 1309.3h5.1M1176.3 1309.3h15.1M1193.8 1309.3h20.1M1216.2 1309.3h2.6M1238.6 1309.3h2.6M1243.6 1309.3h2.6M1248.5 1309.3h10.1M1261.0 1309.3h17.6M1280.9 1309.3h5.1M1462.7 1309.3h17.6M1482.6 1309.3h2.6M1490.1 1309.3h2.6M1502.5 1309.3h7.6M1136.5 1311.8h2.6M1141.5 1311.8h2.6M1153.9 1311.8h2.6M1158.9 1311.8h5.1M1171.4 1311.8h2.6M1176.3 1311.8h50.0M1238.6 1311.8h5.1M1246.1 1311.8h2.6M1251.0 1311.8h7.6M1261.0 1311.8h37.5M1462.7 1311.8h10.1M1475.1 1311.8h27.5M1505.0 1311.8h5.1M1136.5 1314.3h2.6M1141.5 1314.3h2.6M1151.4 1314.3h10.1M1163.9 1314.3h27.5M1193.8 1314.3h20.1M1216.2 1314.3h2.6M1238.6 1314.3h5.1M1246.1 1314.3h5.1M1253.5 1314.3h5.1M1261.0 1314.3h17.6M1280.9 1314.3h5.1M1462.7 1314.3h17.6M1482.6 1314.3h2.6M1490.1 1314.3h2.6M1505.0 1314.3h5.1M1136.5 1316.8h2.6M1141.5 1316.8h10.1M1153.9 1316.8h2.6M1158.9 1316.8h15.1M1176.3 1316.8h15.1M1193.8 1316.8h20.1M1241.1 1316.8h37.5M1280.9 1316.8h5.1M1462.7 1316.8h7.6M1472.7 1316.8h7.6M1482.6 1316.8h2.6M1490.1 1316.8h2.6M1502.5 1316.8h7.6M1136.5 1319.2h15.1M1158.9 1319.2h30.0M1193.8 1319.2h7.6M1203.7 1319.2h2.6M1238.6 1319.2h17.6M1258.5 1319.2h12.6M1462.7 1319.2h15.1M1505.0 1319.2h5.1M1136.5 1321.7h2.6M1141.5 1321.7h2.6M1146.5 1321.7h5.1M1156.4 1321.7h20.1M1178.8 1321.7h2.6M1238.6 1321.7h17.6M1261.0 1321.7h5.1M1462.7 1321.7h15.1M1502.5 1321.7h7.6M1136.5 1324.2h7.6M1146.5 1324.2h7.6M1156.4 1324.2h7.6M1166.4 1324.2h5.1M1173.8 1324.2h17.6M1193.8 1324.2h15.1M1211.2 1324.2h2.6M1238.6 1324.2h2.6M1243.6 1324.2h15.1M1261.0 1324.2h12.6M1283.4 1324.2h2.6M1462.7 1324.2h17.6M1490.1 1324.2h2.6M1505.0 1324.2h5.1M1136.5 1326.7h12.6M1153.9 1326.7h17.6M1173.8 1326.7h17.6M1193.8 1326.7h15.1M1211.2 1326.7h2.6M1241.1 1326.7h5.1M1248.5 1326.7h10.1M1261.0 1326.7h12.6M1462.7 1326.7h17.6M1505.0 1326.7h5.1M1136.5 1329.2h2.6M1141.5 1329.2h7.6M1156.4 1329.2h35.0M1193.8 1329.2h15.1M1238.6 1329.2h20.1M1261.0 1329.2h10.1M1462.7 1329.2h15.1M1490.1 1329.2h2.6M1505.0 1329.2h5.1M1141.5 1331.6h10.1M1153.9 1331.6h2.6M1158.9 1331.6h5.1M1166.4 1331.6h2.6M1171.4 1331.6h2.6M1176.3 1331.6h15.1M1193.8 1331.6h20.1M1216.2 1331.6h2.6M1238.6 1331.6h2.6M1243.6 1331.6h15.1M1261.0 1331.6h15.1M1280.9 1331.6h5.1M1462.7 1331.6h17.6M1490.1 1331.6h2.6M1505.0 1331.6h5.1M1136.5 1334.1h15.1M1156.4 1334.1h20.1M1178.8 1334.1h5.1M1193.8 1334.1h2.6M1238.6 1334.1h17.6M1261.0 1334.1h5.1M1462.7 1334.1h15.1M1505.0 1334.1h5.1M1136.5 1336.6h12.6M1156.4 1336.6h35.0M1193.8 1336.6h15.1M1238.6 1336.6h2.6M1243.6 1336.6h15.1M1261.0 1336.6h10.1M1462.7 1336.6h17.6M1490.1 1336.6h2.6M1502.5 1336.6h7.6M1136.5 1339.1h2.6M1141.5 1339.1h7.6M1156.4 1339.1h32.5M1193.8 1339.1h7.6M1203.7 1339.1h2.6M1238.6 1339.1h17.6M1261.0 1339.1h10.1M1462.7 1339.1h15.1M1505.0 1339.1h5.1M1136.5 1341.6h2.6M1141.5 1341.6h5.1M1151.4 1341.6h40.0M1193.8 1341.6h15.1M1216.2 1341.6h2.6M1238.6 1341.6h2.6M1243.6 1341.6h7.6M1253.5 1341.6h20.1M1462.7 1341.6h5.1M1470.2 1341.6h10.1M1490.1 1341.6h2.6M1505.0 1341.6h5.1M1136.5 1344.0h10.1M1149.0 1344.0h5.1M1156.4 1344.0h32.5M1193.8 1344.0h7.6M1203.7 1344.0h5.1M1238.6 1344.0h7.6M1248.5 1344.0h5.1M1256.0 1344.0h2.6M1261.0 1344.0h10.1M1462.7 1344.0h15.1M1505.0 1344.0h5.1M1136.5 1346.5h17.6M1156.4 1346.5h32.5M1193.8 1346.5h7.6M1203.7 1346.5h2.6M1238.6 1346.5h5.1M1246.1 1346.5h10.1M1258.5 1346.5h12.6M1462.7 1346.5h17.6M1505.0 1346.5h5.1M1136.5 1349.0h12.6M1151.4 1349.0h2.6M1156.4 1349.0h35.0M1193.8 1349.0h12.6M1238.6 1349.0h20.1M1261.0 1349.0h10.1M1462.7 1349.0h15.1M1505.0 1349.0h5.1M1136.5 1351.5h12.6M1156.4 1351.5h7.6M1168.9 1351.5h20.1M1193.8 1351.5h7.6M1203.7 1351.5h5.1M1241.1 1351.5h15.1M1258.5 1351.5h12.6M1462.7 1351.5h15.1M1505.0 1351.5h5.1M1136.5 1354.0h7.6M1146.5 1354.0h2.6M1151.4 1354.0h2.6M1156.4 1354.0h20.1M1178.8 1354.0h2.6M1238.6 1354.0h17.6M1261.0 1354.0h5.1M1462.7 1354.0h12.6M1505.0 1354.0h5.1M1136.5 1356.4h12.6M1156.4 1356.4h5.1M1163.9 1356.4h25.1M1193.8 1356.4h7.6M1203.7 1356.4h5.1M1238.6 1356.4h20.1M1261.0 1356.4h10.1M1462.7 1356.4h15.1M1502.5 1356.4h7.6M1136.5 1358.9h2.6M1141.5 1358.9h7.6M1151.4 1358.9h2.6M1156.4 1358.9h5.1M1163.9 1358.9h7.6M1173.8 1358.9h17.6M1193.8 1358.9h5.1M1238.6 1358.9h15.1M1256.0 1358.9h2.6M1261.0 1358.9h10.1M1465.2 1358.9h12.6M1505.0 1358.9h5.1M1136.5 1361.4h12.6M1151.4 1361.4h2.6M1156.4 1361.4h20.1M1178.8 1361.4h2.6M1238.6 1361.4h17.6M1263.5 1361.4h2.6M1462.7 1361.4h12.6M1502.5 1361.4h7.6M1136.5 1363.9h12.6M1151.4 1363.9h2.6M1156.4 1363.9h20.1M1178.8 1363.9h2.6M1238.6 1363.9h17.6M1263.5 1363.9h2.6M1462.7 1363.9h12.6M1505.0 1363.9h5.1M1136.5 1366.4h2.6M1141.5 1366.4h7.6M1151.4 1366.4h2.6M1156.4 1366.4h20.1M1178.8 1366.4h2.6M1238.6 1366.4h17.6M1263.5 1366.4h2.6M1462.7 1366.4h12.6M1505.0 1366.4h5.1M1136.5 1368.8h12.6M1151.4 1368.8h2.6M1156.4 1368.8h20.1M1238.6 1368.8h17.6M1462.7 1368.8h12.6M1507.5 1368.8h2.6M1136.5 1371.3h15.1M1156.4 1371.3h20.1M1238.6 1371.3h17.6M1462.7 1371.3h12.6M1502.5 1371.3h2.6M1507.5 1371.3h2.6M1136.5 1373.8h17.6M1156.4 1373.8h20.1M1178.8 1373.8h2.6M1238.6 1373.8h17.6M1462.7 1373.8h12.6M1502.5 1373.8h7.6M1136.5 1376.3h12.6M1156.4 1376.3h27.5M1193.8 1376.3h2.6M1203.7 1376.3h2.6M1238.6 1376.3h17.6M1258.5 1376.3h12.6M1462.7 1376.3h15.1M1505.0 1376.3h5.1M1136.5 1378.8h17.6M1156.4 1378.8h20.1M1238.6 1378.8h17.6M1258.5 1378.8h2.6M1462.7 1378.8h12.6M1505.0 1378.8h5.1M1136.5 1381.2h12.6M1151.4 1381.2h2.6M1156.4 1381.2h20.1M1238.6 1381.2h17.6M1258.5 1381.2h2.6M1462.7 1381.2h10.1M1136.5 1383.7h12.6M1151.4 1383.7h2.6M1156.4 1383.7h20.1M1238.6 1383.7h17.6M1462.7 1383.7h10.1M1502.5 1383.7h2.6M1136.5 1386.2h17.6M1156.4 1386.2h20.1M1238.6 1386.2h17.6M1462.7 1386.2h12.6M1507.5 1386.2h2.6M1136.5 1388.7h12.6M1151.4 1388.7h2.6M1156.4 1388.7h20.1M1238.6 1388.7h17.6M1462.7 1388.7h10.1M1502.5 1388.7h2.6M1136.5 1391.2h17.6M1156.4 1391.2h20.1M1238.6 1391.2h10.1M1251.0 1391.2h5.1M1462.7 1391.2h7.6M1136.5 1393.6h15.1M1156.4 1393.6h20.1M1238.6 1393.6h17.6M1462.7 1393.6h12.6M1507.5 1393.6h2.6M1136.5 1396.1h12.6M1156.4 1396.1h20.1M1178.8 1396.1h2.6M1238.6 1396.1h17.6M1462.7 1396.1h12.6M1505.0 1396.1h5.1M1136.5 1398.6h17.6M1156.4 1398.6h20.1M1238.6 1398.6h17.6M1462.7 1398.6h12.6M1507.5 1398.6h2.6M1136.5 1401.1h17.6M1156.4 1401.1h20.1M1238.6 1401.1h17.6M1462.7 1401.1h10.1M1136.5 1403.6h17.6M1156.4 1403.6h2.6M1161.4 1403.6h15.1M1238.6 1403.6h10.1M1251.0 1403.6h5.1M1462.7 1403.6h5.1M1470.2 1403.6h2.6M1502.5 1403.6h2.6M1136.5 1406.0h17.6M1156.4 1406.0h20.1M1238.6 1406.0h17.6M1462.7 1406.0h10.1M1502.5 1406.0h2.6M1136.5 1408.5h17.6M1156.4 1408.5h20.1M1238.6 1408.5h10.1M1251.0 1408.5h5.1M1462.7 1408.5h5.1M1470.2 1408.5h2.6M1136.5 1411.0h17.6M1156.4 1411.0h20.1M1238.6 1411.0h17.6M1462.7 1411.0h10.1M1136.5 1413.5h17.6M1156.4 1413.5h20.1M1238.6 1413.5h17.6M1462.7 1413.5h10.1M1507.5 1413.5h2.6M1136.5 1416.0h12.6M1151.4 1416.0h2.6M1156.4 1416.0h20.1M1238.6 1416.0h17.6M1462.7 1416.0h10.1M1136.5 1418.4h12.6M1151.4 1418.4h2.6M1156.4 1418.4h20.1M1238.6 1418.4h10.1M1251.0 1418.4h5.1M1258.5 1418.4h2.6M1462.7 1418.4h10.1M1139.0 1420.9h15.1M1156.4 1420.9h2.6M1161.4 1420.9h15.1M1238.6 1420.9h7.6M1251.0 1420.9h2.6M1258.5 1420.9h2.6M1462.7 1420.9h5.1M1136.5 1423.4h17.6M1156.4 1423.4h20.1M1238.6 1423.4h17.6M1258.5 1423.4h2.6M1462.7 1423.4h10.1M1502.5 1423.4h2.6M1136.5 1425.9h17.6M1156.4 1425.9h20.1M1238.6 1425.9h17.6M1462.7 1425.9h10.1M1136.5 1428.4h12.6M1156.4 1428.4h20.1M1238.6 1428.4h17.6M1258.5 1428.4h2.6M1462.7 1428.4h10.1M1139.0 1430.8h15.1M1156.4 1430.8h2.6M1161.4 1430.8h15.1M1238.6 1430.8h7.6M1465.2 1430.8h2.6M1141.5 1433.3h2.6M1149.0 1433.3h2.6M1156.4 1433.3h2.6M1166.4 1433.3h2.6M1176.3 1433.3h2.6M1181.3 1433.3h5.1M1188.8 1433.3h10.1M1201.2 1433.3h37.5M1246.1 1433.3h7.6M1256.0 1433.3h2.6M1261.0 1433.3h45.0M1315.8 1433.3h5.1M1325.7 1433.3h2.6M1335.7 1433.3h52.4M1390.5 1433.3h69.9M1472.7 1433.3h2.6M1477.6 1433.3h25.1M1139.0 1435.8h5.1M1146.5 1435.8h2.6M1151.4 1435.8h5.1M1158.9 1435.8h5.1M1168.9 1435.8h10.1M1183.8 1435.8h10.1M1198.8 1435.8h10.1M1211.2 1435.8h27.5M1241.1 1435.8h2.6M1253.5 1435.8h2.6M1261.0 1435.8h5.1M1271.0 1435.8h10.1M1283.4 1435.8h22.6M1308.3 1435.8h5.1M1315.8 1435.8h2.6M1320.8 1435.8h2.6M1325.7 1435.8h137.1M1465.2 1435.8h2.6M1475.1 1435.8h2.6M1480.1 1435.8h22.6M1505.0 1435.8h5.1M1139.0 1438.3h7.6M1153.9 1438.3h5.1M1163.9 1438.3h2.6M1171.4 1438.3h10.1M1183.8 1438.3h2.6M1188.8 1438.3h47.5M1238.6 1438.3h5.1M1256.0 1438.3h52.4M1310.8 1438.3h2.6M1315.8 1438.3h7.6M1325.7 1438.3h45.0M1373.0 1438.3h59.9M1435.3 1438.3h2.6M1440.3 1438.3h10.1M1452.7 1438.3h7.6M1470.2 1438.3h2.6M1477.6 1438.3h30.0M1153.9 1440.8h2.6M1168.9 1440.8h2.6M1176.3 1440.8h2.6M1181.3 1440.8h59.9M1246.1 1440.8h5.1M1261.0 1440.8h40.0M1303.3 1440.8h2.6M1310.8 1440.8h15.1M1330.7 1440.8h2.6M1338.2 1440.8h7.6M1348.2 1440.8h72.4M1422.8 1440.8h27.5M1452.7 1440.8h7.6M1467.7 1440.8h2.6M1477.6 1440.8h27.5M1141.5 1443.2h2.6M1146.5 1443.2h5.1M1153.9 1443.2h2.6M1166.4 1443.2h2.6M1173.8 1443.2h52.4M1228.6 1443.2h2.6M1233.6 1443.2h2.6M1246.1 1443.2h54.9M1303.3 1443.2h5.1M1310.8 1443.2h7.6M1320.8 1443.2h12.6M1335.7 1443.2h5.1M1343.2 1443.2h67.4M1415.4 1443.2h2.6M1422.8 1443.2h7.6M1462.7 1443.2h2.6M1477.6 1443.2h32.5M1139.0 1445.7h7.6M1149.0 1445.7h2.6M1153.9 1445.7h10.1M1166.4 1445.7h2.6M1171.4 1445.7h2.6M1176.3 1445.7h45.0M1238.6 1445.7h20.1M1261.0 1445.7h17.6M1280.9 1445.7h5.1M1303.3 1445.7h5.1M1310.8 1445.7h72.4M1385.5 1445.7h5.1M1405.4 1445.7h2.6M1465.2 1445.7h2.6M1477.6 1445.7h7.6M1490.1 1445.7h2.6M1505.0 1445.7h5.1M1136.5 1448.2h12.6M1153.9 1448.2h17.6M1173.8 1448.2h17.6M1193.8 1448.2h20.1M1238.6 1448.2h2.6M1243.6 1448.2h2.6M1248.5 1448.2h10.1M1261.0 1448.2h12.6M1303.3 1448.2h45.0M1353.1 1448.2h5.1M1360.6 1448.2h2.6M1365.6 1448.2h2.6M1370.6 1448.2h2.6M1375.5 1448.2h2.6M1462.7 1448.2h2.6M1467.7 1448.2h10.1M1490.1 1448.2h2.6M1505.0 1448.2h5.1M1136.5 1450.7h12.6M1156.4 1450.7h7.6M1168.9 1450.7h7.6M1178.8 1450.7h5.1M1238.6 1450.7h17.6M1261.0 1450.7h10.1M1303.3 1450.7h12.6M1318.3 1450.7h20.1M1340.7 1450.7h2.6M1462.7 1450.7h15.1M1505.0 1450.7h5.1M1136.5 1453.2h17.6M1156.4 1453.2h20.1M1178.8 1453.2h10.1M1193.8 1453.2h5.1M1203.7 1453.2h2.6M1238.6 1453.2h20.1M1261.0 1453.2h10.1M1303.3 1453.2h12.6M1318.3 1453.2h30.0M1462.7 1453.2h15.1M1502.5 1453.2h7.6M1136.5 1455.6h17.6M1156.4 1455.6h20.1M1178.8 1455.6h5.1M1238.6 1455.6h17.6M1261.0 1455.6h5.1M1303.3 1455.6h12.6M1318.3 1455.6h20.1M1340.7 1455.6h2.6M1462.7 1455.6h12.6M1505.0 1455.6h5.1M1136.5 1458.1h12.6M1156.4 1458.1h20.1M1178.8 1458.1h2.6M1238.6 1458.1h17.6M1261.0 1458.1h5.1M1303.3 1458.1h12.6M1318.3 1458.1h20.1M1340.7 1458.1h2.6M1462.7 1458.1h12.6M1505.0 1458.1h5.1M1136.5 1460.6h2.6M1141.5 1460.6h2.6M1146.5 1460.6h2.6M1153.9 1460.6h7.6M1163.9 1460.6h5.1M1171.4 1460.6h20.1M1193.8 1460.6h15.1M1238.6 1460.6h20.1M1261.0 1460.6h10.1M1280.9 1460.6h2.6M1303.3 1460.6h45.0M1353.1 1460.6h2.6M1358.1 1460.6h5.1M1365.6 1460.6h2.6M1370.6 1460.6h2.6M1462.7 1460.6h17.6M1505.0 1460.6h5.1M1136.5 1463.1h12.6M1151.4 1463.1h2.6M1156.4 1463.1h20.1M1178.8 1463.1h2.6M1238.6 1463.1h17.6M1258.5 1463.1h7.6M1303.3 1463.1h12.6M1318.3 1463.1h20.1M1340.7 1463.1h2.6M1462.7 1463.1h12.6M1505.0 1463.1h5.1M1136.5 1465.6h17.6M1156.4 1465.6h20.1M1238.6 1465.6h17.6M1305.8 1465.6h7.6M1323.2 1465.6h2.6M1328.2 1465.6h10.1M1340.7 1465.6h2.6M1462.7 1465.6h12.6M1502.5 1465.6h7.6M1136.5 1468.0h12.6M1151.4 1468.0h2.6M1156.4 1468.0h20.1M1178.8 1468.0h2.6M1238.6 1468.0h17.6M1258.5 1468.0h2.6M1263.5 1468.0h2.6M1303.3 1468.0h10.1M1318.3 1468.0h20.1M1340.7 1468.0h2.6M1462.7 1468.0h12.6M1505.0 1468.0h5.1M1136.5 1470.5h17.6M1156.4 1470.5h20.1M1178.8 1470.5h2.6M1238.6 1470.5h17.6M1263.5 1470.5h2.6M1303.3 1470.5h12.6M1318.3 1470.5h20.1M1340.7 1470.5h2.6M1462.7 1470.5h12.6M1505.0 1470.5h5.1M1136.5 1473.0h2.6M1144.0 1473.0h2.6M1151.4 1473.0h7.6M1161.4 1473.0h7.6M1176.3 1473.0h2.6M1183.8 1473.0h2.6M1203.7 1473.0h2.6M1216.2 1473.0h2.6M1221.2 1473.0h2.6M1228.6 1473.0h2.6M1236.1 1473.0h2.6M1241.1 1473.0h2.6M1246.1 1473.0h2.6M1258.5 1473.0h2.6M1273.5 1473.0h2.6M1278.4 1473.0h2.6M1325.7 1473.0h2.6M1338.2 1473.0h2.6M1345.7 1473.0h2.6M1350.6 1473.0h2.6M1365.6 1473.0h2.6M1385.5 1473.0h2.6M1390.5 1473.0h2.6M1400.4 1473.0h5.1M1412.9 1473.0h2.6M1417.9 1473.0h2.6M1432.8 1473.0h5.1M1452.7 1473.0h2.6M1467.7 1473.0h7.6M1482.6 1473.0h2.6M1495.1 1473.0h2.6M1136.5 1475.5h2.6M1141.5 1475.5h2.6M1153.9 1475.5h2.6M1158.9 1475.5h2.6M1168.9 1475.5h52.4M1238.6 1475.5h2.6M1248.5 1475.5h2.6M1256.0 1475.5h42.5M1303.3 1475.5h7.6M1313.3 1475.5h7.6M1323.2 1475.5h12.6M1338.2 1475.5h59.9M1402.9 1475.5h7.6M1425.3 1475.5h2.6M1465.2 1475.5h5.1M1472.7 1475.5h30.0M1139.0 1478.0h2.6M1149.0 1478.0h2.6M1153.9 1478.0h2.6M1158.9 1478.0h2.6M1168.9 1478.0h2.6M1176.3 1478.0h5.1M1183.8 1478.0h42.5M1228.6 1478.0h2.6M1241.1 1478.0h2.6M1251.0 1478.0h12.6M1266.0 1478.0h35.0M1308.3 1478.0h102.2M1415.4 1478.0h2.6M1422.8 1478.0h7.6M1442.8 1478.0h2.6M1465.2 1478.0h2.6M1472.7 1478.0h30.0" stroke="#fdf7c8" stroke-width="2.73" fill="none"/><path d="M1450.2 1108.4h2.6M1460.2 1108.4h2.6M1153.9 1123.3h2.6M1151.4 1125.8h2.6M1191.3 1125.8h2.6M1206.2 1125.8h20.1M1271.0 1125.8h27.5M1315.8 1125.8h2.6M1348.2 1125.8h7.6M1358.1 1125.8h2.6M1363.1 1125.8h7.6M1373.0 1125.8h27.5M1402.9 1125.8h7.6M1425.3 1125.8h2.6M1480.1 1125.8h10.1M1492.6 1125.8h10.1M1432.8 1130.8h2.6M1450.2 1130.8h2.6M1460.2 1130.8h2.6M1161.4 1133.2h2.6M1168.9 1140.7h2.6M1176.3 1145.6h2.6M1173.8 1148.1h2.6M1191.3 1148.1h2.6M1218.7 1148.1h7.6M1228.6 1148.1h7.6M1278.4 1148.1h2.6M1285.9 1148.1h15.1M1350.6 1148.1h2.6M1363.1 1148.1h2.6M1383.0 1148.1h2.6M1390.5 1148.1h15.1M1407.9 1148.1h2.6M1412.9 1148.1h5.1M1422.8 1148.1h10.1M1442.8 1148.1h2.6M1455.2 1148.1h5.1M1480.1 1148.1h10.1M1492.6 1148.1h10.1M1293.4 1150.6h2.6M1300.8 1150.6h2.6M1398.0 1150.6h5.1M1407.9 1150.6h17.6M1427.8 1150.6h35.0M1495.1 1150.6h2.6M1278.4 1153.1h2.6M1285.9 1153.1h17.6M1350.6 1153.1h2.6M1383.0 1153.1h2.6M1390.5 1153.1h15.1M1407.9 1153.1h12.6M1422.8 1153.1h10.1M1435.3 1153.1h2.6M1440.3 1153.1h10.1M1452.7 1153.1h7.6M1487.6 1153.1h2.6M1492.6 1153.1h10.1M1273.5 1155.6h2.6M1278.4 1155.6h2.6M1285.9 1155.6h15.1M1350.6 1155.6h2.6M1363.1 1155.6h2.6M1383.0 1155.6h2.6M1390.5 1155.6h20.1M1412.9 1155.6h5.1M1422.8 1155.6h10.1M1442.8 1155.6h2.6M1455.2 1155.6h5.1M1480.1 1155.6h2.6M1485.1 1155.6h5.1M1492.6 1155.6h10.1M1273.5 1158.0h2.6M1278.4 1158.0h2.6M1285.9 1158.0h15.1M1350.6 1158.0h2.6M1363.1 1158.0h2.6M1383.0 1158.0h2.6M1390.5 1158.0h20.1M1412.9 1158.0h5.1M1422.8 1158.0h7.6M1442.8 1158.0h2.6M1457.7 1158.0h2.6M1480.1 1158.0h2.6M1485.1 1158.0h5.1M1492.6 1158.0h10.1M1213.7 1160.5h12.6M1228.6 1160.5h7.6M1273.5 1160.5h2.6M1278.4 1160.5h22.6M1348.2 1160.5h5.1M1363.1 1160.5h2.6M1368.1 1160.5h2.6M1373.0 1160.5h5.1M1380.5 1160.5h7.6M1390.5 1160.5h20.1M1415.4 1160.5h2.6M1422.8 1160.5h7.6M1442.8 1160.5h2.6M1480.1 1160.5h10.1M1492.6 1160.5h10.1M1153.9 1163.0h2.6M1176.3 1163.0h2.6M1193.8 1163.0h2.6M1198.8 1163.0h22.6M1256.0 1163.0h2.6M1271.0 1163.0h22.6M1315.8 1163.0h2.6M1338.2 1163.0h2.6M1343.2 1163.0h40.0M1385.5 1163.0h5.1M1405.4 1163.0h2.6M1477.6 1163.0h17.6M1500.0 1163.0h2.6M1191.3 1165.5h2.6M1278.4 1165.5h2.6M1285.9 1165.5h15.1M1350.6 1165.5h2.6M1383.0 1165.5h2.6M1390.5 1165.5h15.1M1407.9 1165.5h12.6M1422.8 1165.5h10.1M1435.3 1165.5h2.6M1440.3 1165.5h7.6M1452.7 1165.5h7.6M1480.1 1165.5h2.6M1485.1 1165.5h5.1M1492.6 1165.5h10.1M1273.5 1168.0h7.6M1285.9 1168.0h15.1M1350.6 1168.0h2.6M1363.1 1168.0h2.6M1383.0 1168.0h2.6M1390.5 1168.0h20.1M1412.9 1168.0h5.1M1422.8 1168.0h7.6M1442.8 1168.0h2.6M1457.7 1168.0h2.6M1480.1 1168.0h2.6M1485.1 1168.0h5.1M1492.6 1168.0h10.1M1191.3 1170.4h2.6M1273.5 1170.4h7.6M1285.9 1170.4h15.1M1350.6 1170.4h2.6M1363.1 1170.4h2.6M1383.0 1170.4h2.6M1388.0 1170.4h22.6M1412.9 1170.4h5.1M1422.8 1170.4h7.6M1442.8 1170.4h2.6M1480.1 1170.4h10.1M1492.6 1170.4h10.1M1191.3 1172.9h2.6M1271.0 1172.9h12.6M1285.9 1172.9h15.1M1348.2 1172.9h5.1M1363.1 1172.9h2.6M1368.1 1172.9h2.6M1373.0 1172.9h5.1M1380.5 1172.9h20.1M1402.9 1172.9h7.6M1415.4 1172.9h2.6M1422.8 1172.9h7.6M1480.1 1172.9h10.1M1492.6 1172.9h10.1M1191.3 1175.4h2.6M1278.4 1175.4h2.6M1285.9 1175.4h15.1M1350.6 1175.4h2.6M1363.1 1175.4h2.6M1383.0 1175.4h2.6M1388.0 1175.4h17.6M1407.9 1175.4h2.6M1412.9 1175.4h5.1M1422.8 1175.4h7.6M1442.8 1175.4h2.6M1457.7 1175.4h2.6M1480.1 1175.4h2.6M1485.1 1175.4h5.1M1492.6 1175.4h10.1M1153.9 1177.9h2.6M1191.3 1177.9h2.6M1273.5 1177.9h27.5M1348.2 1177.9h5.1M1363.1 1177.9h2.6M1368.1 1177.9h2.6M1375.5 1177.9h5.1M1383.0 1177.9h2.6M1388.0 1177.9h22.6M1415.4 1177.9h2.6M1422.8 1177.9h7.6M1480.1 1177.9h10.1M1492.6 1177.9h10.1M1153.9 1180.4h2.6M1191.3 1180.4h2.6M1271.0 1180.4h25.1M1315.8 1180.4h2.6M1348.2 1180.4h12.6M1363.1 1180.4h35.0M1402.9 1180.4h7.6M1480.1 1180.4h15.1M1497.5 1180.4h5.1M1153.9 1182.8h2.6M1191.3 1182.8h2.6M1271.0 1182.8h25.1M1315.8 1182.8h2.6M1348.2 1182.8h5.1M1358.1 1182.8h2.6M1363.1 1182.8h37.5M1402.9 1182.8h5.1M1480.1 1182.8h15.1M1497.5 1182.8h5.1M1153.9 1185.3h2.6M1188.8 1185.3h5.1M1256.0 1185.3h2.6M1271.0 1185.3h7.6M1280.9 1185.3h5.1M1290.9 1185.3h2.6M1315.8 1185.3h2.6M1338.2 1185.3h2.6M1343.2 1185.3h40.0M1385.5 1185.3h5.1M1405.4 1185.3h2.6M1477.6 1185.3h17.6M1153.9 1187.8h2.6M1188.8 1187.8h5.1M1271.0 1187.8h25.1M1315.8 1187.8h2.6M1345.7 1187.8h15.1M1363.1 1187.8h7.6M1373.0 1187.8h17.6M1393.0 1187.8h5.1M1402.9 1187.8h5.1M1477.6 1187.8h17.6M1497.5 1187.8h5.1M1153.9 1190.3h2.6M1176.3 1190.3h2.6M1188.8 1190.3h5.1M1256.0 1190.3h2.6M1268.5 1190.3h10.1M1280.9 1190.3h5.1M1290.9 1190.3h2.6M1315.8 1190.3h2.6M1338.2 1190.3h2.6M1343.2 1190.3h40.0M1385.5 1190.3h5.1M1405.4 1190.3h2.6M1477.6 1190.3h17.6M1153.9 1192.8h2.6M1176.3 1192.8h2.6M1188.8 1192.8h2.6M1256.0 1192.8h2.6M1261.0 1192.8h12.6M1303.3 1192.8h2.6M1313.3 1192.8h7.6M1325.7 1192.8h5.1M1333.2 1192.8h2.6M1338.2 1192.8h2.6M1343.2 1192.8h5.1M1353.1 1192.8h10.1M1365.6 1192.8h2.6M1370.6 1192.8h2.6M1475.1 1192.8h5.1M1490.1 1192.8h2.6M1505.0 1192.8h2.6M1153.9 1195.2h2.6M1176.3 1195.2h2.6M1188.8 1195.2h2.6M1256.0 1195.2h2.6M1261.0 1195.2h2.6M1266.0 1195.2h7.6M1303.3 1195.2h2.6M1313.3 1195.2h10.1M1325.7 1195.2h5.1M1338.2 1195.2h2.6M1343.2 1195.2h5.1M1353.1 1195.2h5.1M1360.6 1195.2h2.6M1365.6 1195.2h2.6M1370.6 1195.2h5.1M1378.0 1195.2h2.6M1385.5 1195.2h2.6M1475.1 1195.2h5.1M1490.1 1195.2h2.6M1505.0 1195.2h2.6M1261.0 1197.7h10.1M1303.3 1197.7h5.1M1310.8 1197.7h5.1M1318.3 1197.7h17.6M1340.7 1197.7h5.1M1472.7 1197.7h5.1M1505.0 1197.7h5.1M1176.3 1200.2h2.6M1188.8 1200.2h2.6M1256.0 1200.2h2.6M1261.0 1200.2h10.1M1303.3 1200.2h5.1M1313.3 1200.2h2.6M1318.3 1200.2h17.6M1338.2 1200.2h10.1M1353.1 1200.2h2.6M1360.6 1200.2h2.6M1370.6 1200.2h2.6M1475.1 1200.2h5.1M1505.0 1200.2h2.6M1176.3 1202.7h2.6M1188.8 1202.7h2.6M1256.0 1202.7h2.6M1261.0 1202.7h10.1M1303.3 1202.7h5.1M1313.3 1202.7h2.6M1318.3 1202.7h5.1M1325.7 1202.7h10.1M1338.2 1202.7h10.1M1355.6 1202.7h2.6M1360.6 1202.7h2.6M1370.6 1202.7h2.6M1472.7 1202.7h5.1M1505.0 1202.7h5.1M1176.3 1205.2h2.6M1188.8 1205.2h2.6M1256.0 1205.2h2.6M1261.0 1205.2h10.1M1303.3 1205.2h5.1M1313.3 1205.2h2.6M1318.3 1205.2h5.1M1325.7 1205.2h5.1M1338.2 1205.2h10.1M1353.1 1205.2h5.1M1360.6 1205.2h2.6M1370.6 1205.2h2.6M1475.1 1205.2h5.1M1505.0 1205.2h5.1M1248.5 1207.6h2.6M1261.0 1207.6h5.1M1303.3 1207.6h5.1M1310.8 1207.6h5.1M1318.3 1207.6h20.1M1340.7 1207.6h2.6M1467.7 1207.6h2.6M1472.7 1207.6h2.6M1505.0 1207.6h5.1M1248.5 1212.6h2.6M1253.5 1212.6h2.6M1246.1 1217.6h5.1M1253.5 1217.6h2.6M1450.2 1217.6h2.6M1460.2 1217.6h2.6M1236.1 1220.0h2.6M1241.1 1220.0h2.6M1246.1 1220.0h10.1M1420.4 1220.0h2.6M1432.8 1220.0h2.6M1437.8 1220.0h2.6M1447.8 1220.0h5.1M1460.2 1220.0h2.6M1248.5 1222.5h2.6M1253.5 1222.5h2.6M1460.2 1222.5h2.6M1241.1 1225.0h2.6M1246.1 1225.0h10.1M1450.2 1225.0h2.6M1460.2 1225.0h2.6M1191.3 1227.5h2.6M1213.7 1227.5h2.6M1218.7 1227.5h7.6M1228.6 1227.5h7.6M1273.5 1227.5h7.6M1285.9 1227.5h15.1M1348.2 1227.5h5.1M1363.1 1227.5h2.6M1368.1 1227.5h2.6M1375.5 1227.5h2.6M1380.5 1227.5h5.1M1390.5 1227.5h20.1M1412.9 1227.5h5.1M1422.8 1227.5h7.6M1442.8 1227.5h2.6M1480.1 1227.5h2.6M1485.1 1227.5h5.1M1492.6 1227.5h10.1M1221.2 1232.4h17.6M1390.5 1232.4h15.1M1407.9 1232.4h42.5M1452.7 1232.4h7.6M1495.1 1232.4h7.6M1221.2 1234.9h2.6M1226.1 1234.9h12.6M1398.0 1234.9h7.6M1407.9 1234.9h52.4M1495.1 1234.9h2.6M1221.2 1237.4h15.1M1350.6 1237.4h2.6M1363.1 1237.4h2.6M1383.0 1237.4h2.6M1390.5 1237.4h15.1M1407.9 1237.4h12.6M1422.8 1237.4h10.1M1442.8 1237.4h5.1M1452.7 1237.4h7.6M1485.1 1237.4h5.1M1492.6 1237.4h10.1M1218.7 1239.9h17.6M1350.6 1239.9h2.6M1363.1 1239.9h2.6M1383.0 1239.9h2.6M1390.5 1239.9h15.1M1407.9 1239.9h2.6M1412.9 1239.9h5.1M1422.8 1239.9h10.1M1442.8 1239.9h2.6M1452.7 1239.9h7.6M1485.1 1239.9h5.1M1492.6 1239.9h10.1M1153.9 1242.4h2.6M1191.3 1242.4h2.6M1201.2 1242.4h2.6M1208.7 1242.4h17.6M1315.8 1242.4h2.6M1348.2 1242.4h5.1M1358.1 1242.4h2.6M1363.1 1242.4h7.6M1373.0 1242.4h27.5M1402.9 1242.4h7.6M1415.4 1242.4h2.6M1425.3 1242.4h2.6M1480.1 1242.4h22.6M1153.9 1244.8h2.6M1183.8 1244.8h10.1M1196.3 1244.8h7.6M1206.2 1244.8h15.1M1256.0 1244.8h2.6M1315.8 1244.8h2.6M1348.2 1244.8h12.6M1363.1 1244.8h27.5M1393.0 1244.8h5.1M1405.4 1244.8h2.6M1477.6 1244.8h17.6M1497.5 1244.8h5.1M1153.9 1247.3h2.6M1191.3 1247.3h2.6M1196.3 1247.3h7.6M1206.2 1247.3h15.1M1256.0 1247.3h2.6M1315.8 1247.3h2.6M1348.2 1247.3h42.5M1393.0 1247.3h5.1M1402.9 1247.3h5.1M1477.6 1247.3h17.6M1500.0 1247.3h2.6M1153.9 1249.8h2.6M1176.3 1249.8h2.6M1181.3 1249.8h32.5M1216.2 1249.8h2.6M1256.0 1249.8h2.6M1313.3 1249.8h5.1M1325.7 1249.8h2.6M1338.2 1249.8h2.6M1343.2 1249.8h7.6M1353.1 1249.8h10.1M1365.6 1249.8h17.6M1385.5 1249.8h5.1M1475.1 1249.8h5.1M1482.6 1249.8h2.6M1490.1 1249.8h2.6M1153.9 1252.3h2.6M1188.8 1252.3h5.1M1201.2 1252.3h2.6M1206.2 1252.3h15.1M1315.8 1252.3h2.6M1348.2 1252.3h12.6M1363.1 1252.3h27.5M1393.0 1252.3h5.1M1402.9 1252.3h5.1M1477.6 1252.3h12.6M1492.6 1252.3h2.6M1497.5 1252.3h5.1M1153.9 1254.8h2.6M1188.8 1254.8h5.1M1206.2 1254.8h15.1M1315.8 1254.8h2.6M1348.2 1254.8h5.1M1355.6 1254.8h5.1M1363.1 1254.8h27.5M1393.0 1254.8h5.1M1402.9 1254.8h5.1M1477.6 1254.8h17.6M1497.5 1254.8h5.1M1153.9 1257.2h2.6M1176.3 1257.2h2.6M1181.3 1257.2h32.5M1216.2 1257.2h2.6M1256.0 1257.2h2.6M1313.3 1257.2h5.1M1325.7 1257.2h2.6M1338.2 1257.2h2.6M1343.2 1257.2h5.1M1353.1 1257.2h10.1M1365.6 1257.2h2.6M1370.6 1257.2h12.6M1385.5 1257.2h5.1M1475.1 1257.2h5.1M1482.6 1257.2h2.6M1490.1 1257.2h2.6M1153.9 1259.7h2.6M1176.3 1259.7h2.6M1181.3 1259.7h32.5M1216.2 1259.7h2.6M1256.0 1259.7h2.6M1313.3 1259.7h5.1M1325.7 1259.7h2.6M1338.2 1259.7h2.6M1343.2 1259.7h7.6M1353.1 1259.7h10.1M1365.6 1259.7h17.6M1385.5 1259.7h5.1M1475.1 1259.7h5.1M1482.6 1259.7h2.6M1490.1 1259.7h2.6M1153.9 1262.2h2.6M1176.3 1262.2h2.6M1181.3 1262.2h40.0M1256.0 1262.2h2.6M1315.8 1262.2h2.6M1338.2 1262.2h2.6M1343.2 1262.2h7.6M1353.1 1262.2h30.0M1385.5 1262.2h5.1M1405.4 1262.2h2.6M1475.1 1262.2h10.1M1490.1 1262.2h2.6M1153.9 1264.7h2.6M1176.3 1264.7h15.1M1193.8 1264.7h20.1M1216.2 1264.7h2.6M1256.0 1264.7h2.6M1313.3 1264.7h5.1M1338.2 1264.7h2.6M1343.2 1264.7h5.1M1353.1 1264.7h10.1M1365.6 1264.7h2.6M1370.6 1264.7h12.6M1385.5 1264.7h5.1M1475.1 1264.7h5.1M1482.6 1264.7h2.6M1490.1 1264.7h2.6M1153.9 1267.2h2.6M1176.3 1267.2h2.6M1181.3 1267.2h10.1M1193.8 1267.2h15.1M1256.0 1267.2h2.6M1303.3 1267.2h2.6M1313.3 1267.2h5.1M1320.8 1267.2h2.6M1325.7 1267.2h2.6M1338.2 1267.2h2.6M1343.2 1267.2h5.1M1353.1 1267.2h10.1M1365.6 1267.2h2.6M1370.6 1267.2h2.6M1378.0 1267.2h2.6M1385.5 1267.2h2.6M1475.1 1267.2h5.1M1490.1 1267.2h2.6M1176.3 1269.6h2.6M1181.3 1269.6h10.1M1193.8 1269.6h15.1M1256.0 1269.6h2.6M1303.3 1269.6h5.1M1313.3 1269.6h7.6M1325.7 1269.6h2.6M1338.2 1269.6h10.1M1353.1 1269.6h10.1M1365.6 1269.6h2.6M1370.6 1269.6h2.6M1475.1 1269.6h5.1M1490.1 1269.6h2.6M1505.0 1269.6h2.6M1178.8 1272.1h5.1M1303.3 1272.1h12.6M1318.3 1272.1h20.1M1340.7 1272.1h2.6M1470.2 1272.1h5.1M1505.0 1272.1h5.1M1221.2 1274.6h17.6M1295.9 1274.6h7.6M1308.3 1274.6h2.6M1320.8 1274.6h2.6M1333.2 1274.6h2.6M1495.1 1274.6h2.6M1226.1 1277.1h12.6M1298.3 1277.1h5.1M1308.3 1277.1h2.6M1320.8 1277.1h2.6M1333.2 1277.1h5.1M1300.8 1279.6h10.1M1313.3 1279.6h2.6M1318.3 1279.6h5.1M1325.7 1279.6h2.6M1333.2 1279.6h5.1M1226.1 1282.0h2.6M1236.1 1282.0h2.6M1300.8 1282.0h2.6M1221.2 1284.5h17.6M1278.4 1284.5h2.6M1285.9 1284.5h5.1M1293.4 1284.5h10.1M1308.3 1284.5h2.6M1495.1 1284.5h5.1M1153.9 1287.0h2.6M1191.3 1287.0h2.6M1208.7 1287.0h17.6M1271.0 1287.0h30.0M1480.1 1287.0h10.1M1492.6 1287.0h10.1M1221.2 1289.5h17.6M1298.3 1289.5h5.1M1308.3 1289.5h2.6M1320.8 1289.5h2.6M1495.1 1289.5h2.6M1223.7 1292.0h15.1M1295.9 1292.0h2.6M1300.8 1292.0h10.1M1318.3 1292.0h5.1M1333.2 1292.0h2.6M1495.1 1292.0h2.6M1226.1 1294.4h5.1M1236.1 1294.4h2.6M1300.8 1294.4h2.6M1221.2 1296.9h17.6M1278.4 1296.9h2.6M1285.9 1296.9h5.1M1295.9 1296.9h7.6M1308.3 1296.9h2.6M1495.1 1296.9h2.6M1221.2 1299.4h17.6M1300.8 1299.4h2.6M1226.1 1301.9h7.6M1236.1 1301.9h2.6M1300.8 1301.9h2.6M1221.2 1304.4h2.6M1226.1 1304.4h7.6M1236.1 1304.4h2.6M1300.8 1304.4h10.1M1320.8 1304.4h2.6M1236.1 1306.8h2.6M1300.8 1306.8h2.6M1305.8 1306.8h5.1M1191.3 1309.3h2.6M1213.7 1309.3h2.6M1218.7 1309.3h7.6M1228.6 1309.3h7.6M1278.4 1309.3h2.6M1285.9 1309.3h15.1M1480.1 1309.3h2.6M1485.1 1309.3h5.1M1492.6 1309.3h10.1M1226.1 1311.8h12.6M1298.3 1311.8h5.1M1191.3 1314.3h2.6M1213.7 1314.3h2.6M1218.7 1314.3h17.6M1278.4 1314.3h2.6M1285.9 1314.3h15.1M1480.1 1314.3h2.6M1485.1 1314.3h5.1M1492.6 1314.3h10.1M1191.3 1316.8h2.6M1213.7 1316.8h12.6M1228.6 1316.8h7.6M1278.4 1316.8h2.6M1285.9 1316.8h15.1M1480.1 1316.8h2.6M1485.1 1316.8h5.1M1492.6 1316.8h10.1M1153.9 1319.2h2.6M1188.8 1319.2h5.1M1201.2 1319.2h2.6M1206.2 1319.2h15.1M1256.0 1319.2h2.6M1271.0 1319.2h15.1M1288.4 1319.2h5.1M1477.6 1319.2h17.6M1500.0 1319.2h2.6M1153.9 1321.7h2.6M1176.3 1321.7h2.6M1181.3 1321.7h40.0M1256.0 1321.7h2.6M1266.0 1321.7h12.6M1280.9 1321.7h5.1M1477.6 1321.7h10.1M1490.1 1321.7h2.6M1153.9 1324.2h2.6M1191.3 1324.2h2.6M1208.7 1324.2h2.6M1213.7 1324.2h12.6M1228.6 1324.2h2.6M1233.6 1324.2h2.6M1273.5 1324.2h10.1M1285.9 1324.2h15.1M1480.1 1324.2h10.1M1492.6 1324.2h10.1M1191.3 1326.7h2.6M1208.7 1326.7h2.6M1213.7 1326.7h12.6M1231.1 1326.7h5.1M1273.5 1326.7h27.5M1480.1 1326.7h22.6M1153.9 1329.2h2.6M1191.3 1329.2h2.6M1208.7 1329.2h15.1M1271.0 1329.2h30.0M1477.6 1329.2h12.6M1492.6 1329.2h10.1M1191.3 1331.6h2.6M1213.7 1331.6h2.6M1218.7 1331.6h7.6M1228.6 1331.6h7.6M1275.9 1331.6h5.1M1285.9 1331.6h15.1M1480.1 1331.6h10.1M1492.6 1331.6h10.1M1153.9 1334.1h2.6M1176.3 1334.1h2.6M1183.8 1334.1h10.1M1196.3 1334.1h25.1M1256.0 1334.1h2.6M1266.0 1334.1h12.6M1280.9 1334.1h5.1M1290.9 1334.1h2.6M1477.6 1334.1h17.6M1500.0 1334.1h2.6M1153.9 1336.6h2.6M1191.3 1336.6h2.6M1208.7 1336.6h17.6M1271.0 1336.6h30.0M1480.1 1336.6h10.1M1492.6 1336.6h10.1M1153.9 1339.1h2.6M1188.8 1339.1h5.1M1201.2 1339.1h2.6M1206.2 1339.1h15.1M1256.0 1339.1h2.6M1271.0 1339.1h15.1M1288.4 1339.1h5.1M1477.6 1339.1h17.6M1500.0 1339.1h2.6M1191.3 1341.6h2.6M1208.7 1341.6h7.6M1218.7 1341.6h7.6M1228.6 1341.6h7.6M1273.5 1341.6h27.5M1480.1 1341.6h10.1M1492.6 1341.6h10.1M1153.9 1344.0h2.6M1188.8 1344.0h5.1M1201.2 1344.0h2.6M1208.7 1344.0h12.6M1223.7 1344.0h2.6M1271.0 1344.0h25.1M1477.6 1344.0h25.1M1153.9 1346.5h2.6M1188.8 1346.5h5.1M1201.2 1346.5h2.6M1206.2 1346.5h15.1M1256.0 1346.5h2.6M1271.0 1346.5h25.1M1480.1 1346.5h15.1M1497.5 1346.5h5.1M1153.9 1349.0h2.6M1191.3 1349.0h2.6M1206.2 1349.0h15.1M1223.7 1349.0h2.6M1271.0 1349.0h27.5M1477.6 1349.0h17.6M1497.5 1349.0h5.1M1153.9 1351.5h2.6M1188.8 1351.5h5.1M1201.2 1351.5h2.6M1208.7 1351.5h12.6M1256.0 1351.5h2.6M1271.0 1351.5h25.1M1477.6 1351.5h17.6M1497.5 1351.5h5.1M1153.9 1354.0h2.6M1176.3 1354.0h2.6M1181.3 1354.0h10.1M1193.8 1354.0h20.1M1216.2 1354.0h2.6M1256.0 1354.0h2.6M1266.0 1354.0h12.6M1280.9 1354.0h5.1M1475.1 1354.0h5.1M1482.6 1354.0h2.6M1490.1 1354.0h2.6M1153.9 1356.4h2.6M1188.8 1356.4h5.1M1201.2 1356.4h2.6M1208.7 1356.4h12.6M1223.7 1356.4h2.6M1271.0 1356.4h27.5M1477.6 1356.4h25.1M1153.9 1358.9h2.6M1191.3 1358.9h2.6M1198.8 1358.9h22.6M1271.0 1358.9h25.1M1477.6 1358.9h17.6M1497.5 1358.9h5.1M1153.9 1361.4h2.6M1176.3 1361.4h2.6M1181.3 1361.4h10.1M1193.8 1361.4h20.1M1256.0 1361.4h2.6M1261.0 1361.4h2.6M1266.0 1361.4h7.6M1475.1 1361.4h5.1M1490.1 1361.4h2.6M1153.9 1363.9h2.6M1176.3 1363.9h2.6M1181.3 1363.9h10.1M1193.8 1363.9h20.1M1216.2 1363.9h2.6M1256.0 1363.9h2.6M1261.0 1363.9h2.6M1266.0 1363.9h12.6M1280.9 1363.9h5.1M1475.1 1363.9h5.1M1482.6 1363.9h2.6M1490.1 1363.9h2.6M1153.9 1366.4h2.6M1176.3 1366.4h2.6M1181.3 1366.4h10.1M1193.8 1366.4h20.1M1216.2 1366.4h2.6M1256.0 1366.4h2.6M1261.0 1366.4h2.6M1266.0 1366.4h12.6M1280.9 1366.4h5.1M1475.1 1366.4h5.1M1482.6 1366.4h2.6M1490.1 1366.4h2.6M1153.9 1368.8h2.6M1176.3 1368.8h15.1M1193.8 1368.8h15.1M1211.2 1368.8h2.6M1256.0 1368.8h2.6M1261.0 1368.8h12.6M1475.1 1368.8h5.1M1490.1 1368.8h2.6M1505.0 1368.8h2.6M1176.3 1371.3h15.1M1193.8 1371.3h7.6M1203.7 1371.3h5.1M1256.0 1371.3h2.6M1261.0 1371.3h10.1M1475.1 1371.3h5.1M1505.0 1371.3h2.6M1153.9 1373.8h2.6M1176.3 1373.8h2.6M1181.3 1373.8h10.1M1193.8 1373.8h20.1M1216.2 1373.8h2.6M1256.0 1373.8h2.6M1261.0 1373.8h12.6M1275.9 1373.8h2.6M1280.9 1373.8h5.1M1475.1 1373.8h5.1M1490.1 1373.8h2.6M1153.9 1376.3h2.6M1183.8 1376.3h10.1M1196.3 1376.3h7.6M1206.2 1376.3h15.1M1256.0 1376.3h2.6M1271.0 1376.3h7.6M1280.9 1376.3h5.1M1290.9 1376.3h2.6M1477.6 1376.3h17.6M1153.9 1378.8h2.6M1176.3 1378.8h15.1M1193.8 1378.8h17.6M1256.0 1378.8h2.6M1261.0 1378.8h12.6M1475.1 1378.8h5.1M1490.1 1378.8h2.6M1178.8 1381.2h5.1M1193.8 1381.2h2.6M1261.0 1381.2h7.6M1472.7 1381.2h5.1M1505.0 1381.2h5.1M1176.3 1383.7h12.6M1193.8 1383.7h7.6M1203.7 1383.7h2.6M1256.0 1383.7h2.6M1261.0 1383.7h10.1M1472.7 1383.7h5.1M1505.0 1383.7h5.1M1176.3 1386.2h15.1M1193.8 1386.2h15.1M1256.0 1386.2h2.6M1261.0 1386.2h12.6M1475.1 1386.2h5.1M1490.1 1386.2h2.6M1505.0 1386.2h2.6M1178.8 1388.7h5.1M1193.8 1388.7h2.6M1261.0 1388.7h7.6M1472.7 1388.7h5.1M1505.0 1388.7h5.1M1178.8 1391.2h2.6M1248.5 1391.2h2.6M1261.0 1391.2h5.1M1470.2 1391.2h5.1M1505.0 1391.2h5.1M1176.3 1393.6h15.1M1193.8 1393.6h15.1M1256.0 1393.6h2.6M1261.0 1393.6h10.1M1475.1 1393.6h5.1M1490.1 1393.6h2.6M1505.0 1393.6h2.6M1153.9 1396.1h2.6M1176.3 1396.1h2.6M1181.3 1396.1h10.1M1193.8 1396.1h15.1M1256.0 1396.1h2.6M1261.0 1396.1h12.6M1475.1 1396.1h5.1M1490.1 1396.1h2.6M1176.3 1398.6h15.1M1193.8 1398.6h15.1M1256.0 1398.6h2.6M1261.0 1398.6h10.1M1475.1 1398.6h5.1M1505.0 1398.6h2.6M1176.3 1401.1h10.1M1193.8 1401.1h2.6M1261.0 1401.1h10.1M1472.7 1401.1h5.1M1505.0 1401.1h5.1M1158.9 1403.6h2.6M1178.8 1403.6h2.6M1248.5 1403.6h2.6M1261.0 1403.6h5.1M1467.7 1403.6h2.6M1472.7 1403.6h2.6M1505.0 1403.6h5.1M1178.8 1406.0h5.1M1193.8 1406.0h2.6M1261.0 1406.0h5.1M1472.7 1406.0h5.1M1505.0 1406.0h5.1M1178.8 1408.5h2.6M1248.5 1408.5h2.6M1261.0 1408.5h5.1M1467.7 1408.5h2.6M1472.7 1408.5h2.6M1505.0 1408.5h5.1M1178.8 1411.0h5.1M1193.8 1411.0h2.6M1261.0 1411.0h5.1M1472.7 1411.0h5.1M1505.0 1411.0h5.1M1176.3 1413.5h15.1M1193.8 1413.5h7.6M1203.7 1413.5h2.6M1256.0 1413.5h2.6M1261.0 1413.5h10.1M1472.7 1413.5h5.1M1505.0 1413.5h2.6M1178.8 1416.0h5.1M1193.8 1416.0h2.6M1261.0 1416.0h7.6M1472.7 1416.0h5.1M1505.0 1416.0h5.1M1178.8 1418.4h5.1M1248.5 1418.4h2.6M1261.0 1418.4h5.1M1472.7 1418.4h5.1M1505.0 1418.4h5.1M1136.5 1420.9h2.6M1158.9 1420.9h2.6M1178.8 1420.9h2.6M1246.1 1420.9h5.1M1253.5 1420.9h2.6M1263.5 1420.9h2.6M1467.7 1420.9h7.6M1505.0 1420.9h5.1M1178.8 1423.4h5.1M1193.8 1423.4h2.6M1261.0 1423.4h10.1M1472.7 1423.4h5.1M1505.0 1423.4h5.1M1176.3 1425.9h10.1M1193.8 1425.9h2.6M1261.0 1425.9h10.1M1472.7 1425.9h5.1M1505.0 1425.9h5.1M1176.3 1428.4h12.6M1193.8 1428.4h5.1M1203.7 1428.4h2.6M1261.0 1428.4h10.1M1472.7 1428.4h5.1M1505.0 1428.4h5.1M1136.5 1430.8h2.6M1158.9 1430.8h2.6M1178.8 1430.8h2.6M1246.1 1430.8h10.1M1462.7 1430.8h2.6M1467.7 1430.8h7.6M1505.0 1430.8h5.1M1460.2 1433.3h10.1M1462.7 1435.8h2.6M1467.7 1435.8h2.6M1236.1 1438.3h2.6M1432.8 1438.3h2.6M1437.8 1438.3h2.6M1450.2 1438.3h2.6M1460.2 1438.3h10.1M1300.8 1440.8h2.6M1420.4 1440.8h2.6M1450.2 1440.8h2.6M1460.2 1440.8h2.6M1470.2 1440.8h2.6M1226.1 1443.2h2.6M1231.1 1443.2h2.6M1236.1 1443.2h2.6M1300.8 1443.2h2.6M1410.4 1443.2h5.1M1417.9 1443.2h5.1M1430.3 1443.2h32.5M1221.2 1445.7h15.1M1278.4 1445.7h2.6M1285.9 1445.7h15.1M1383.0 1445.7h2.6M1390.5 1445.7h15.1M1407.9 1445.7h12.6M1422.8 1445.7h10.1M1435.3 1445.7h2.6M1440.3 1445.7h10.1M1452.7 1445.7h7.6M1485.1 1445.7h5.1M1492.6 1445.7h10.1M1191.3 1448.2h2.6M1213.7 1448.2h12.6M1228.6 1448.2h2.6M1233.6 1448.2h2.6M1273.5 1448.2h27.5M1348.2 1448.2h5.1M1358.1 1448.2h2.6M1363.1 1448.2h2.6M1368.1 1448.2h2.6M1373.0 1448.2h2.6M1378.0 1448.2h32.5M1415.4 1448.2h2.6M1422.8 1448.2h7.6M1492.6 1448.2h10.1M1153.9 1450.7h2.6M1176.3 1450.7h2.6M1183.8 1450.7h37.5M1256.0 1450.7h2.6M1271.0 1450.7h7.6M1280.9 1450.7h5.1M1290.9 1450.7h2.6M1315.8 1450.7h2.6M1338.2 1450.7h2.6M1343.2 1450.7h40.0M1385.5 1450.7h5.1M1405.4 1450.7h2.6M1490.1 1450.7h5.1M1153.9 1453.2h2.6M1176.3 1453.2h2.6M1188.8 1453.2h5.1M1198.8 1453.2h5.1M1206.2 1453.2h15.1M1271.0 1453.2h25.1M1315.8 1453.2h2.6M1348.2 1453.2h42.5M1393.0 1453.2h5.1M1405.4 1453.2h2.6M1490.1 1453.2h5.1M1497.5 1453.2h5.1M1153.9 1455.6h2.6M1176.3 1455.6h2.6M1183.8 1455.6h37.5M1256.0 1455.6h2.6M1266.0 1455.6h12.6M1280.9 1455.6h5.1M1315.8 1455.6h2.6M1338.2 1455.6h2.6M1343.2 1455.6h40.0M1385.5 1455.6h5.1M1405.4 1455.6h2.6M1475.1 1455.6h2.6M1490.1 1455.6h2.6M1153.9 1458.1h2.6M1176.3 1458.1h2.6M1181.3 1458.1h40.0M1256.0 1458.1h2.6M1266.0 1458.1h12.6M1280.9 1458.1h5.1M1315.8 1458.1h2.6M1338.2 1458.1h2.6M1343.2 1458.1h7.6M1353.1 1458.1h30.0M1385.5 1458.1h5.1M1405.4 1458.1h2.6M1475.1 1458.1h2.6M1490.1 1458.1h2.6M1191.3 1460.6h2.6M1208.7 1460.6h17.6M1271.0 1460.6h10.1M1283.4 1460.6h17.6M1348.2 1460.6h5.1M1355.6 1460.6h2.6M1363.1 1460.6h2.6M1368.1 1460.6h2.6M1373.0 1460.6h27.5M1402.9 1460.6h7.6M1415.4 1460.6h2.6M1422.8 1460.6h5.1M1480.1 1460.6h10.1M1153.9 1463.1h2.6M1176.3 1463.1h2.6M1181.3 1463.1h40.0M1256.0 1463.1h2.6M1266.0 1463.1h12.6M1280.9 1463.1h5.1M1315.8 1463.1h2.6M1338.2 1463.1h2.6M1343.2 1463.1h7.6M1353.1 1463.1h30.0M1385.5 1463.1h5.1M1405.4 1463.1h2.6M1475.1 1463.1h10.1M1153.9 1465.6h2.6M1176.3 1465.6h15.1M1193.8 1465.6h15.1M1256.0 1465.6h2.6M1261.0 1465.6h12.6M1303.3 1465.6h2.6M1313.3 1465.6h10.1M1325.7 1465.6h2.6M1338.2 1465.6h2.6M1343.2 1465.6h5.1M1353.1 1465.6h10.1M1365.6 1465.6h2.6M1370.6 1465.6h5.1M1385.5 1465.6h2.6M1475.1 1465.6h5.1M1153.9 1468.0h2.6M1176.3 1468.0h2.6M1181.3 1468.0h10.1M1193.8 1468.0h20.1M1216.2 1468.0h2.6M1256.0 1468.0h2.6M1261.0 1468.0h2.6M1266.0 1468.0h10.1M1280.9 1468.0h5.1M1313.3 1468.0h5.1M1338.2 1468.0h2.6M1343.2 1468.0h5.1M1353.1 1468.0h10.1M1365.6 1468.0h2.6M1370.6 1468.0h12.6M1385.5 1468.0h5.1M1475.1 1468.0h5.1M1482.6 1468.0h2.6M1153.9 1470.5h2.6M1176.3 1470.5h2.6M1181.3 1470.5h32.5M1216.2 1470.5h2.6M1256.0 1470.5h2.6M1261.0 1470.5h2.6M1266.0 1470.5h12.6M1280.9 1470.5h5.1M1315.8 1470.5h2.6M1338.2 1470.5h2.6M1343.2 1470.5h7.6M1353.1 1470.5h30.0M1385.5 1470.5h5.1M1475.1 1470.5h5.1M1482.6 1470.5h2.6M1221.2 1475.5h17.6M1298.3 1475.5h5.1M1398.0 1475.5h5.1M1410.4 1475.5h15.1M1427.8 1475.5h35.0M1505.0 1475.5h5.1M1226.1 1478.0h2.6M1231.1 1478.0h7.6M1300.8 1478.0h2.6M1410.4 1478.0h5.1M1417.9 1478.0h5.1M1430.3 1478.0h12.6M1445.3 1478.0h17.6M1505.0 1478.0h2.6" stroke="#fdf5c1" stroke-width="2.73" fill="none"/><path d="M1226.1 1125.8h12.6M1298.3 1125.8h5.1M1400.4 1125.8h2.6M1410.4 1125.8h15.1M1427.8 1125.8h22.6M1452.7 1125.8h7.6M1226.1 1148.1h2.6M1236.1 1148.1h2.6M1300.8 1148.1h2.6M1410.4 1148.1h2.6M1417.9 1148.1h5.1M1432.8 1148.1h10.1M1445.3 1148.1h10.1M1460.2 1148.1h2.6M1420.4 1153.1h2.6M1432.8 1153.1h2.6M1437.8 1153.1h2.6M1450.2 1153.1h2.6M1460.2 1153.1h2.6M1300.8 1155.6h2.6M1410.4 1155.6h2.6M1417.9 1155.6h5.1M1432.8 1155.6h10.1M1445.3 1155.6h10.1M1460.2 1155.6h2.6M1300.8 1158.0h2.6M1410.4 1158.0h2.6M1417.9 1158.0h5.1M1430.3 1158.0h12.6M1445.3 1158.0h12.6M1460.2 1158.0h2.6M1226.1 1160.5h2.6M1236.1 1160.5h2.6M1300.8 1160.5h2.6M1410.4 1160.5h5.1M1417.9 1160.5h5.1M1430.3 1160.5h12.6M1445.3 1160.5h15.1M1221.2 1163.0h15.1M1293.4 1163.0h7.6M1383.0 1163.0h2.6M1390.5 1163.0h15.1M1407.9 1163.0h10.1M1422.8 1163.0h10.1M1442.8 1163.0h5.1M1452.7 1163.0h7.6M1495.1 1163.0h5.1M1300.8 1165.5h2.6M1420.4 1165.5h2.6M1432.8 1165.5h2.6M1437.8 1165.5h2.6M1447.8 1165.5h5.1M1460.2 1165.5h2.6M1300.8 1168.0h2.6M1410.4 1168.0h2.6M1417.9 1168.0h5.1M1430.3 1168.0h12.6M1445.3 1168.0h12.6M1460.2 1168.0h2.6M1300.8 1170.4h2.6M1410.4 1170.4h2.6M1417.9 1170.4h5.1M1430.3 1170.4h12.6M1445.3 1170.4h17.6M1300.8 1172.9h2.6M1400.4 1172.9h2.6M1410.4 1172.9h5.1M1417.9 1172.9h5.1M1430.3 1172.9h20.1M1452.7 1172.9h7.6M1300.8 1175.4h2.6M1410.4 1175.4h2.6M1417.9 1175.4h5.1M1430.3 1175.4h12.6M1445.3 1175.4h12.6M1460.2 1175.4h2.6M1300.8 1177.9h2.6M1410.4 1177.9h5.1M1417.9 1177.9h5.1M1430.3 1177.9h20.1M1452.7 1177.9h7.6M1295.9 1180.4h7.6M1398.0 1180.4h5.1M1410.4 1180.4h10.1M1422.8 1180.4h10.1M1435.3 1180.4h2.6M1440.3 1180.4h10.1M1452.7 1180.4h7.6M1495.1 1180.4h2.6M1295.9 1182.8h7.6M1400.4 1182.8h2.6M1407.9 1182.8h25.1M1435.3 1182.8h2.6M1440.3 1182.8h10.1M1452.7 1182.8h7.6M1495.1 1182.8h2.6M1278.4 1185.3h2.6M1285.9 1185.3h5.1M1293.4 1185.3h7.6M1383.0 1185.3h2.6M1390.5 1185.3h15.1M1407.9 1185.3h2.6M1412.9 1185.3h5.1M1422.8 1185.3h10.1M1442.8 1185.3h2.6M1455.2 1185.3h5.1M1495.1 1185.3h7.6M1295.9 1187.8h7.6M1390.5 1187.8h2.6M1398.0 1187.8h5.1M1407.9 1187.8h12.6M1422.8 1187.8h10.1M1435.3 1187.8h2.6M1440.3 1187.8h10.1M1452.7 1187.8h7.6M1495.1 1187.8h2.6M1278.4 1190.3h2.6M1285.9 1190.3h5.1M1293.4 1190.3h7.6M1383.0 1190.3h2.6M1390.5 1190.3h15.1M1407.9 1190.3h2.6M1412.9 1190.3h5.1M1422.8 1190.3h7.6M1442.8 1190.3h2.6M1455.2 1190.3h5.1M1495.1 1190.3h7.6M1191.3 1192.8h2.6M1273.5 1192.8h12.6M1288.4 1192.8h5.1M1348.2 1192.8h5.1M1363.1 1192.8h2.6M1368.1 1192.8h2.6M1373.0 1192.8h17.6M1405.4 1192.8h2.6M1480.1 1192.8h10.1M1492.6 1192.8h2.6M1500.0 1192.8h2.6M1191.3 1195.2h2.6M1273.5 1195.2h20.1M1348.2 1195.2h5.1M1358.1 1195.2h2.6M1363.1 1195.2h2.6M1368.1 1195.2h2.6M1375.5 1195.2h2.6M1380.5 1195.2h5.1M1388.0 1195.2h2.6M1393.0 1195.2h5.1M1405.4 1195.2h2.6M1480.1 1195.2h10.1M1492.6 1195.2h2.6M1500.0 1195.2h2.6M1153.9 1197.7h2.6M1176.3 1197.7h2.6M1188.8 1197.7h5.1M1256.0 1197.7h2.6M1271.0 1197.7h7.6M1280.9 1197.7h5.1M1315.8 1197.7h2.6M1338.2 1197.7h2.6M1345.7 1197.7h5.1M1353.1 1197.7h30.0M1385.5 1197.7h5.1M1477.6 1197.7h2.6M1482.6 1197.7h2.6M1490.1 1197.7h2.6M1153.9 1200.2h2.6M1191.3 1200.2h2.6M1271.0 1200.2h7.6M1280.9 1200.2h5.1M1290.9 1200.2h2.6M1315.8 1200.2h2.6M1348.2 1200.2h5.1M1355.6 1200.2h5.1M1363.1 1200.2h7.6M1373.0 1200.2h10.1M1385.5 1200.2h5.1M1405.4 1200.2h2.6M1480.1 1200.2h12.6M1153.9 1202.7h2.6M1191.3 1202.7h2.6M1271.0 1202.7h7.6M1280.9 1202.7h5.1M1315.8 1202.7h2.6M1348.2 1202.7h7.6M1358.1 1202.7h2.6M1363.1 1202.7h7.6M1373.0 1202.7h10.1M1385.5 1202.7h5.1M1405.4 1202.7h2.6M1477.6 1202.7h10.1M1490.1 1202.7h5.1M1153.9 1205.2h2.6M1191.3 1205.2h2.6M1271.0 1205.2h15.1M1290.9 1205.2h2.6M1315.8 1205.2h2.6M1348.2 1205.2h5.1M1358.1 1205.2h2.6M1363.1 1205.2h7.6M1373.0 1205.2h10.1M1385.5 1205.2h5.1M1405.4 1205.2h2.6M1480.1 1205.2h15.1M1153.9 1207.6h2.6M1176.3 1207.6h2.6M1188.8 1207.6h2.6M1256.0 1207.6h2.6M1266.0 1207.6h7.6M1283.4 1207.6h2.6M1315.8 1207.6h2.6M1338.2 1207.6h2.6M1343.2 1207.6h5.1M1353.1 1207.6h10.1M1365.6 1207.6h2.6M1370.6 1207.6h12.6M1385.5 1207.6h2.6M1475.1 1207.6h5.1M1490.1 1207.6h2.6M1226.1 1227.5h2.6M1236.1 1227.5h2.6M1300.8 1227.5h2.6M1410.4 1227.5h2.6M1417.9 1227.5h5.1M1430.3 1227.5h12.6M1445.3 1227.5h17.6M1450.2 1232.4h2.6M1460.2 1232.4h2.6M1460.2 1234.9h2.6M1236.1 1237.4h2.6M1420.4 1237.4h2.6M1432.8 1237.4h10.1M1447.8 1237.4h5.1M1460.2 1237.4h2.6M1236.1 1239.9h2.6M1410.4 1239.9h2.6M1417.9 1239.9h5.1M1432.8 1239.9h10.1M1445.3 1239.9h7.6M1460.2 1239.9h2.6M1226.1 1242.4h12.6M1400.4 1242.4h2.6M1410.4 1242.4h5.1M1417.9 1242.4h7.6M1427.8 1242.4h22.6M1452.7 1242.4h7.6M1221.2 1244.8h15.1M1390.5 1244.8h2.6M1398.0 1244.8h7.6M1407.9 1244.8h12.6M1422.8 1244.8h10.1M1435.3 1244.8h2.6M1442.8 1244.8h5.1M1452.7 1244.8h7.6M1495.1 1244.8h2.6M1221.2 1247.3h15.1M1390.5 1247.3h2.6M1398.0 1247.3h5.1M1407.9 1247.3h12.6M1422.8 1247.3h10.1M1435.3 1247.3h2.6M1440.3 1247.3h7.6M1452.7 1247.3h7.6M1495.1 1247.3h5.1M1213.7 1249.8h2.6M1218.7 1249.8h7.6M1233.6 1249.8h2.6M1350.6 1249.8h2.6M1363.1 1249.8h2.6M1383.0 1249.8h2.6M1390.5 1249.8h10.1M1402.9 1249.8h7.6M1425.3 1249.8h2.6M1480.1 1249.8h2.6M1485.1 1249.8h5.1M1492.6 1249.8h10.1M1221.2 1252.3h15.1M1390.5 1252.3h2.6M1398.0 1252.3h5.1M1407.9 1252.3h12.6M1422.8 1252.3h10.1M1435.3 1252.3h2.6M1440.3 1252.3h10.1M1452.7 1252.3h7.6M1495.1 1252.3h2.6M1221.2 1254.8h17.6M1390.5 1254.8h2.6M1398.0 1254.8h5.1M1407.9 1254.8h25.1M1435.3 1254.8h2.6M1440.3 1254.8h10.1M1452.7 1254.8h7.6M1495.1 1254.8h2.6M1213.7 1257.2h2.6M1218.7 1257.2h2.6M1223.7 1257.2h2.6M1348.2 1257.2h5.1M1363.1 1257.2h2.6M1368.1 1257.2h2.6M1383.0 1257.2h2.6M1390.5 1257.2h10.1M1402.9 1257.2h7.6M1480.1 1257.2h2.6M1485.1 1257.2h5.1M1492.6 1257.2h10.1M1213.7 1259.7h2.6M1218.7 1259.7h7.6M1350.6 1259.7h2.6M1363.1 1259.7h2.6M1383.0 1259.7h2.6M1390.5 1259.7h10.1M1402.9 1259.7h7.6M1425.3 1259.7h2.6M1480.1 1259.7h2.6M1485.1 1259.7h5.1M1492.6 1259.7h10.1M1221.2 1262.2h5.1M1228.6 1262.2h2.6M1233.6 1262.2h2.6M1350.6 1262.2h2.6M1383.0 1262.2h2.6M1390.5 1262.2h15.1M1407.9 1262.2h2.6M1415.4 1262.2h2.6M1422.8 1262.2h7.6M1485.1 1262.2h5.1M1492.6 1262.2h10.1M1191.3 1264.7h2.6M1213.7 1264.7h2.6M1218.7 1264.7h2.6M1348.2 1264.7h5.1M1363.1 1264.7h2.6M1368.1 1264.7h2.6M1383.0 1264.7h2.6M1390.5 1264.7h7.6M1402.9 1264.7h7.6M1480.1 1264.7h2.6M1485.1 1264.7h5.1M1492.6 1264.7h2.6M1497.5 1264.7h5.1M1191.3 1267.2h2.6M1208.7 1267.2h12.6M1348.2 1267.2h5.1M1363.1 1267.2h2.6M1368.1 1267.2h2.6M1373.0 1267.2h5.1M1380.5 1267.2h5.1M1388.0 1267.2h2.6M1393.0 1267.2h5.1M1402.9 1267.2h5.1M1480.1 1267.2h10.1M1492.6 1267.2h2.6M1497.5 1267.2h5.1M1153.9 1269.6h2.6M1191.3 1269.6h2.6M1208.7 1269.6h12.6M1348.2 1269.6h5.1M1363.1 1269.6h2.6M1368.1 1269.6h2.6M1373.0 1269.6h10.1M1385.5 1269.6h5.1M1393.0 1269.6h2.6M1405.4 1269.6h2.6M1480.1 1269.6h10.1M1492.6 1269.6h2.6M1500.0 1269.6h2.6M1153.9 1272.1h2.6M1176.3 1272.1h2.6M1183.8 1272.1h7.6M1193.8 1272.1h20.1M1216.2 1272.1h2.6M1256.0 1272.1h2.6M1315.8 1272.1h2.6M1338.2 1272.1h2.6M1343.2 1272.1h7.6M1353.1 1272.1h10.1M1365.6 1272.1h2.6M1370.6 1272.1h12.6M1385.5 1272.1h5.1M1475.1 1272.1h5.1M1490.1 1272.1h2.6M1303.3 1274.6h5.1M1310.8 1274.6h10.1M1323.2 1274.6h10.1M1335.7 1274.6h27.5M1365.6 1274.6h5.1M1375.5 1274.6h2.6M1385.5 1274.6h2.6M1303.3 1277.1h5.1M1310.8 1277.1h10.1M1323.2 1277.1h10.1M1338.2 1277.1h25.1M1365.6 1277.1h5.1M1375.5 1277.1h2.6M1385.5 1277.1h2.6M1310.8 1279.6h2.6M1315.8 1279.6h2.6M1323.2 1279.6h2.6M1328.2 1279.6h5.1M1338.2 1279.6h40.0M1380.5 1279.6h2.6M1385.5 1279.6h5.1M1405.4 1279.6h2.6M1303.3 1282.0h45.0M1353.1 1282.0h2.6M1360.6 1282.0h2.6M1368.1 1282.0h2.6M1385.5 1282.0h2.6M1303.3 1284.5h5.1M1310.8 1284.5h37.5M1350.6 1284.5h5.1M1360.6 1284.5h2.6M1368.1 1284.5h2.6M1385.5 1284.5h2.6M1226.1 1287.0h12.6M1300.8 1287.0h15.1M1318.3 1287.0h30.0M1350.6 1287.0h7.6M1360.6 1287.0h2.6M1368.1 1287.0h2.6M1385.5 1287.0h2.6M1303.3 1289.5h5.1M1310.8 1289.5h10.1M1323.2 1289.5h25.1M1350.6 1289.5h5.1M1360.6 1289.5h2.6M1368.1 1289.5h2.6M1375.5 1289.5h2.6M1385.5 1289.5h2.6M1310.8 1292.0h7.6M1323.2 1292.0h10.1M1335.7 1292.0h37.5M1375.5 1292.0h2.6M1385.5 1292.0h2.6M1303.3 1294.4h42.5M1353.1 1294.4h2.6M1360.6 1294.4h2.6M1303.3 1296.9h5.1M1310.8 1296.9h35.0M1353.1 1296.9h2.6M1360.6 1296.9h2.6M1303.3 1299.4h35.0M1340.7 1299.4h2.6M1353.1 1299.4h2.6M1303.3 1301.9h35.0M1340.7 1301.9h2.6M1353.1 1301.9h2.6M1310.8 1304.4h10.1M1323.2 1304.4h25.1M1353.1 1304.4h2.6M1360.6 1304.4h2.6M1368.1 1304.4h2.6M1385.5 1304.4h2.6M1303.3 1306.8h2.6M1310.8 1306.8h35.0M1353.1 1306.8h2.6M1360.6 1306.8h2.6M1226.1 1309.3h2.6M1236.1 1309.3h2.6M1300.8 1309.3h27.5M1333.2 1309.3h5.1M1303.3 1311.8h35.0M1340.7 1311.8h2.6M1353.1 1311.8h2.6M1236.1 1314.3h2.6M1300.8 1314.3h27.5M1333.2 1314.3h5.1M1226.1 1316.8h2.6M1236.1 1316.8h2.6M1300.8 1316.8h22.6M1333.2 1316.8h2.6M1221.2 1319.2h15.1M1285.9 1319.2h2.6M1293.4 1319.2h17.6M1320.8 1319.2h2.6M1495.1 1319.2h5.1M1221.2 1321.7h5.1M1228.6 1321.7h7.6M1278.4 1321.7h2.6M1285.9 1321.7h15.1M1303.3 1321.7h7.6M1313.3 1321.7h10.1M1487.6 1321.7h2.6M1492.6 1321.7h10.1M1226.1 1324.2h2.6M1231.1 1324.2h2.6M1236.1 1324.2h2.6M1300.8 1324.2h37.5M1340.7 1324.2h2.6M1226.1 1326.7h5.1M1236.1 1326.7h2.6M1300.8 1326.7h10.1M1315.8 1326.7h2.6M1320.8 1326.7h2.6M1223.7 1329.2h15.1M1300.8 1329.2h10.1M1320.8 1329.2h2.6M1226.1 1331.6h2.6M1236.1 1331.6h2.6M1300.8 1331.6h27.5M1333.2 1331.6h5.1M1221.2 1334.1h15.1M1278.4 1334.1h2.6M1285.9 1334.1h5.1M1293.4 1334.1h7.6M1308.3 1334.1h2.6M1320.8 1334.1h2.6M1495.1 1334.1h5.1M1226.1 1336.6h12.6M1300.8 1336.6h10.1M1320.8 1336.6h2.6M1221.2 1339.1h15.1M1285.9 1339.1h2.6M1293.4 1339.1h7.6M1303.3 1339.1h20.1M1333.2 1339.1h2.6M1495.1 1339.1h5.1M1226.1 1341.6h2.6M1236.1 1341.6h2.6M1300.8 1341.6h2.6M1308.3 1341.6h2.6M1320.8 1341.6h2.6M1221.2 1344.0h2.6M1226.1 1344.0h12.6M1295.9 1344.0h7.6M1308.3 1344.0h2.6M1221.2 1346.5h17.6M1295.9 1346.5h15.1M1318.3 1346.5h5.1M1495.1 1346.5h2.6M1221.2 1349.0h2.6M1226.1 1349.0h12.6M1298.3 1349.0h5.1M1495.1 1349.0h2.6M1221.2 1351.5h17.6M1295.9 1351.5h7.6M1308.3 1351.5h2.6M1495.1 1351.5h2.6M1191.3 1354.0h2.6M1213.7 1354.0h2.6M1218.7 1354.0h7.6M1278.4 1354.0h2.6M1285.9 1354.0h12.6M1480.1 1354.0h2.6M1485.1 1354.0h5.1M1492.6 1354.0h10.1M1221.2 1356.4h2.6M1226.1 1356.4h12.6M1298.3 1356.4h25.1M1333.2 1356.4h2.6M1221.2 1358.9h15.1M1295.9 1358.9h7.6M1308.3 1358.9h2.6M1495.1 1358.9h2.6M1191.3 1361.4h2.6M1213.7 1361.4h7.6M1273.5 1361.4h22.6M1480.1 1361.4h10.1M1492.6 1361.4h2.6M1500.0 1361.4h2.6M1191.3 1363.9h2.6M1213.7 1363.9h2.6M1218.7 1363.9h2.6M1223.7 1363.9h2.6M1278.4 1363.9h2.6M1285.9 1363.9h15.1M1480.1 1363.9h2.6M1485.1 1363.9h5.1M1492.6 1363.9h10.1M1191.3 1366.4h2.6M1213.7 1366.4h2.6M1218.7 1366.4h2.6M1223.7 1366.4h2.6M1278.4 1366.4h2.6M1285.9 1366.4h12.6M1480.1 1366.4h2.6M1485.1 1366.4h5.1M1492.6 1366.4h2.6M1497.5 1366.4h5.1M1191.3 1368.8h2.6M1208.7 1368.8h2.6M1213.7 1368.8h7.6M1273.5 1368.8h20.1M1480.1 1368.8h10.1M1492.6 1368.8h2.6M1500.0 1368.8h2.6M1153.9 1371.3h2.6M1191.3 1371.3h2.6M1201.2 1371.3h2.6M1208.7 1371.3h12.6M1271.0 1371.3h7.6M1280.9 1371.3h5.1M1290.9 1371.3h2.6M1480.1 1371.3h15.1M1191.3 1373.8h2.6M1213.7 1373.8h2.6M1218.7 1373.8h2.6M1273.5 1373.8h2.6M1278.4 1373.8h2.6M1285.9 1373.8h12.6M1480.1 1373.8h10.1M1492.6 1373.8h2.6M1497.5 1373.8h5.1M1221.2 1376.3h5.1M1228.6 1376.3h7.6M1278.4 1376.3h2.6M1285.9 1376.3h5.1M1293.4 1376.3h7.6M1308.3 1376.3h2.6M1495.1 1376.3h7.6M1191.3 1378.8h2.6M1211.2 1378.8h10.1M1273.5 1378.8h22.6M1480.1 1378.8h10.1M1492.6 1378.8h2.6M1497.5 1378.8h5.1M1153.9 1381.2h2.6M1176.3 1381.2h2.6M1183.8 1381.2h10.1M1196.3 1381.2h17.6M1216.2 1381.2h2.6M1256.0 1381.2h2.6M1268.5 1381.2h10.1M1280.9 1381.2h5.1M1477.6 1381.2h2.6M1482.6 1381.2h2.6M1490.1 1381.2h2.6M1153.9 1383.7h2.6M1188.8 1383.7h5.1M1201.2 1383.7h2.6M1206.2 1383.7h15.1M1271.0 1383.7h7.6M1280.9 1383.7h5.1M1477.6 1383.7h7.6M1490.1 1383.7h2.6M1153.9 1386.2h2.6M1191.3 1386.2h2.6M1208.7 1386.2h12.6M1273.5 1386.2h5.1M1280.9 1386.2h5.1M1290.9 1386.2h2.6M1480.1 1386.2h10.1M1492.6 1386.2h2.6M1500.0 1386.2h2.6M1153.9 1388.7h2.6M1176.3 1388.7h2.6M1183.8 1388.7h7.6M1196.3 1388.7h17.6M1216.2 1388.7h2.6M1256.0 1388.7h2.6M1268.5 1388.7h10.1M1280.9 1388.7h5.1M1477.6 1388.7h2.6M1482.6 1388.7h2.6M1490.1 1388.7h2.6M1153.9 1391.2h2.6M1176.3 1391.2h2.6M1181.3 1391.2h10.1M1193.8 1391.2h15.1M1211.2 1391.2h2.6M1256.0 1391.2h2.6M1266.0 1391.2h7.6M1283.4 1391.2h2.6M1475.1 1391.2h5.1M1490.1 1391.2h2.6M1153.9 1393.6h2.6M1191.3 1393.6h2.6M1208.7 1393.6h12.6M1271.0 1393.6h7.6M1280.9 1393.6h5.1M1290.9 1393.6h2.6M1480.1 1393.6h10.1M1492.6 1393.6h2.6M1191.3 1396.1h2.6M1208.7 1396.1h12.6M1273.5 1396.1h12.6M1288.4 1396.1h5.1M1480.1 1396.1h10.1M1492.6 1396.1h2.6M1500.0 1396.1h2.6M1153.9 1398.6h2.6M1191.3 1398.6h2.6M1208.7 1398.6h12.6M1271.0 1398.6h7.6M1280.9 1398.6h5.1M1290.9 1398.6h2.6M1480.1 1398.6h15.1M1153.9 1401.1h2.6M1186.3 1401.1h7.6M1196.3 1401.1h22.6M1256.0 1401.1h2.6M1271.0 1401.1h7.6M1280.9 1401.1h5.1M1477.6 1401.1h7.6M1490.1 1401.1h2.6M1153.9 1403.6h2.6M1176.3 1403.6h2.6M1181.3 1403.6h10.1M1193.8 1403.6h15.1M1256.0 1403.6h2.6M1266.0 1403.6h7.6M1475.1 1403.6h5.1M1490.1 1403.6h2.6M1153.9 1406.0h2.6M1176.3 1406.0h2.6M1183.8 1406.0h7.6M1196.3 1406.0h17.6M1216.2 1406.0h2.6M1256.0 1406.0h2.6M1266.0 1406.0h12.6M1280.9 1406.0h5.1M1477.6 1406.0h2.6M1482.6 1406.0h2.6M1490.1 1406.0h2.6M1153.9 1408.5h2.6M1176.3 1408.5h2.6M1181.3 1408.5h10.1M1193.8 1408.5h15.1M1256.0 1408.5h2.6M1266.0 1408.5h7.6M1475.1 1408.5h5.1M1490.1 1408.5h2.6M1153.9 1411.0h2.6M1176.3 1411.0h2.6M1183.8 1411.0h7.6M1196.3 1411.0h17.6M1216.2 1411.0h2.6M1256.0 1411.0h2.6M1266.0 1411.0h7.6M1275.9 1411.0h2.6M1280.9 1411.0h5.1M1477.6 1411.0h2.6M1490.1 1411.0h2.6M1153.9 1413.5h2.6M1191.3 1413.5h2.6M1201.2 1413.5h2.6M1206.2 1413.5h15.1M1271.0 1413.5h7.6M1280.9 1413.5h5.1M1477.6 1413.5h7.6M1490.1 1413.5h2.6M1153.9 1416.0h2.6M1176.3 1416.0h2.6M1183.8 1416.0h10.1M1196.3 1416.0h17.6M1216.2 1416.0h2.6M1256.0 1416.0h2.6M1268.5 1416.0h10.1M1280.9 1416.0h5.1M1477.6 1416.0h2.6M1482.6 1416.0h2.6M1490.1 1416.0h2.6M1153.9 1418.4h2.6M1176.3 1418.4h2.6M1183.8 1418.4h7.6M1193.8 1418.4h20.1M1216.2 1418.4h2.6M1256.0 1418.4h2.6M1266.0 1418.4h7.6M1280.9 1418.4h5.1M1477.6 1418.4h2.6M1490.1 1418.4h2.6M1176.3 1420.9h2.6M1181.3 1420.9h10.1M1193.8 1420.9h7.6M1203.7 1420.9h2.6M1256.0 1420.9h2.6M1261.0 1420.9h2.6M1266.0 1420.9h5.1M1475.1 1420.9h2.6M1153.9 1423.4h2.6M1176.3 1423.4h2.6M1183.8 1423.4h10.1M1196.3 1423.4h17.6M1216.2 1423.4h2.6M1256.0 1423.4h2.6M1271.0 1423.4h7.6M1280.9 1423.4h5.1M1477.6 1423.4h2.6M1482.6 1423.4h2.6M1490.1 1423.4h2.6M1153.9 1425.9h2.6M1186.3 1425.9h7.6M1196.3 1425.9h25.1M1256.0 1425.9h2.6M1271.0 1425.9h7.6M1280.9 1425.9h5.1M1477.6 1425.9h7.6M1490.1 1425.9h2.6M1153.9 1428.4h2.6M1188.8 1428.4h5.1M1198.8 1428.4h5.1M1206.2 1428.4h15.1M1256.0 1428.4h2.6M1271.0 1428.4h7.6M1280.9 1428.4h5.1M1477.6 1428.4h7.6M1490.1 1428.4h2.6M1176.3 1430.8h2.6M1181.3 1430.8h7.6M1193.8 1430.8h7.6M1203.7 1430.8h2.6M1256.0 1430.8h2.6M1261.0 1430.8h10.1M1475.1 1430.8h2.6M1472.7 1440.8h5.1M1470.2 1443.2h7.6M1236.1 1445.7h2.6M1300.8 1445.7h2.6M1420.4 1445.7h2.6M1432.8 1445.7h2.6M1437.8 1445.7h2.6M1450.2 1445.7h2.6M1460.2 1445.7h2.6M1470.2 1445.7h5.1M1226.1 1448.2h2.6M1231.1 1448.2h2.6M1236.1 1448.2h2.6M1300.8 1448.2h2.6M1410.4 1448.2h5.1M1417.9 1448.2h5.1M1430.3 1448.2h20.1M1452.7 1448.2h7.6M1221.2 1450.7h5.1M1228.6 1450.7h7.6M1278.4 1450.7h2.6M1285.9 1450.7h5.1M1293.4 1450.7h7.6M1383.0 1450.7h2.6M1390.5 1450.7h15.1M1407.9 1450.7h2.6M1412.9 1450.7h5.1M1422.8 1450.7h10.1M1442.8 1450.7h2.6M1455.2 1450.7h5.1M1495.1 1450.7h7.6M1221.2 1453.2h15.1M1295.9 1453.2h5.1M1390.5 1453.2h2.6M1398.0 1453.2h7.6M1407.9 1453.2h12.6M1422.8 1453.2h10.1M1435.3 1453.2h2.6M1442.8 1453.2h5.1M1452.7 1453.2h7.6M1495.1 1453.2h2.6M1221.2 1455.6h5.1M1228.6 1455.6h7.6M1278.4 1455.6h2.6M1285.9 1455.6h15.1M1383.0 1455.6h2.6M1390.5 1455.6h15.1M1407.9 1455.6h2.6M1415.4 1455.6h2.6M1422.8 1455.6h7.6M1492.6 1455.6h10.1M1221.2 1458.1h5.1M1228.6 1458.1h2.6M1233.6 1458.1h2.6M1278.4 1458.1h2.6M1285.9 1458.1h15.1M1350.6 1458.1h2.6M1383.0 1458.1h2.6M1390.5 1458.1h15.1M1407.9 1458.1h2.6M1415.4 1458.1h2.6M1422.8 1458.1h7.6M1492.6 1458.1h10.1M1226.1 1460.6h12.6M1300.8 1460.6h2.6M1400.4 1460.6h2.6M1410.4 1460.6h5.1M1417.9 1460.6h5.1M1427.8 1460.6h22.6M1452.7 1460.6h7.6M1221.2 1463.1h5.1M1231.1 1463.1h5.1M1278.4 1463.1h2.6M1285.9 1463.1h15.1M1350.6 1463.1h2.6M1383.0 1463.1h2.6M1390.5 1463.1h15.1M1407.9 1463.1h2.6M1415.4 1463.1h2.6M1422.8 1463.1h7.6M1485.1 1463.1h5.1M1191.3 1465.6h2.6M1208.7 1465.6h12.6M1273.5 1465.6h20.1M1348.2 1465.6h5.1M1363.1 1465.6h2.6M1368.1 1465.6h2.6M1375.5 1465.6h10.1M1388.0 1465.6h2.6M1393.0 1465.6h2.6M1405.4 1465.6h2.6M1480.1 1465.6h10.1M1191.3 1468.0h2.6M1213.7 1468.0h2.6M1218.7 1468.0h2.6M1275.9 1468.0h5.1M1285.9 1468.0h12.6M1348.2 1468.0h5.1M1363.1 1468.0h2.6M1368.1 1468.0h2.6M1383.0 1468.0h2.6M1393.0 1468.0h5.1M1402.9 1468.0h7.6M1480.1 1468.0h2.6M1485.1 1468.0h5.1M1213.7 1470.5h2.6M1218.7 1470.5h7.6M1278.4 1470.5h2.6M1285.9 1470.5h15.1M1350.6 1470.5h2.6M1383.0 1470.5h2.6M1390.5 1470.5h10.1M1402.9 1470.5h7.6M1415.4 1470.5h2.6M1425.3 1470.5h2.6M1480.1 1470.5h2.6M1485.1 1470.5h5.1M1507.5 1478.0h2.6" stroke="#fef0b5" stroke-width="2.73" fill="none"/><path d="M1450.2 1125.8h2.6M1460.2 1125.8h2.6M1178.8 1150.6h10.1M1193.8 1150.6h17.6M1178.8 1153.1h10.1M1193.8 1153.1h15.1M1178.8 1155.6h10.1M1193.8 1155.6h7.6M1203.7 1155.6h5.1M1178.8 1158.0h10.1M1193.8 1158.0h5.1M1203.7 1158.0h5.1M1188.8 1160.5h2.6M1460.2 1160.5h2.6M1236.1 1163.0h2.6M1300.8 1163.0h2.6M1417.9 1163.0h5.1M1432.8 1163.0h10.1M1447.8 1163.0h5.1M1460.2 1163.0h2.6M1178.8 1165.5h10.1M1193.8 1165.5h2.6M1203.7 1165.5h5.1M1178.8 1168.0h10.1M1203.7 1168.0h2.6M1178.8 1170.4h7.6M1178.8 1172.9h5.1M1450.2 1172.9h2.6M1460.2 1172.9h2.6M1178.8 1175.4h10.1M1193.8 1175.4h5.1M1178.8 1177.9h10.1M1193.8 1177.9h2.6M1450.2 1177.9h2.6M1460.2 1177.9h2.6M1178.8 1180.4h2.6M1420.4 1180.4h2.6M1432.8 1180.4h2.6M1437.8 1180.4h2.6M1450.2 1180.4h2.6M1460.2 1180.4h2.6M1432.8 1182.8h2.6M1437.8 1182.8h2.6M1450.2 1182.8h2.6M1460.2 1182.8h2.6M1300.8 1185.3h2.6M1410.4 1185.3h2.6M1417.9 1185.3h5.1M1432.8 1185.3h10.1M1445.3 1185.3h10.1M1420.4 1187.8h2.6M1432.8 1187.8h2.6M1437.8 1187.8h2.6M1450.2 1187.8h2.6M1460.2 1187.8h2.6M1300.8 1190.3h2.6M1410.4 1190.3h2.6M1417.9 1190.3h5.1M1430.3 1190.3h12.6M1445.3 1190.3h10.1M1285.9 1192.8h2.6M1293.4 1192.8h7.6M1390.5 1192.8h15.1M1407.9 1192.8h2.6M1412.9 1192.8h5.1M1422.8 1192.8h7.6M1442.8 1192.8h2.6M1495.1 1192.8h5.1M1293.4 1195.2h7.6M1390.5 1195.2h2.6M1398.0 1195.2h7.6M1407.9 1195.2h2.6M1412.9 1195.2h5.1M1422.8 1195.2h7.6M1442.8 1195.2h2.6M1457.7 1195.2h2.6M1495.1 1195.2h5.1M1278.4 1197.7h2.6M1285.9 1197.7h10.1M1350.6 1197.7h2.6M1383.0 1197.7h2.6M1393.0 1197.7h5.1M1402.9 1197.7h5.1M1480.1 1197.7h2.6M1485.1 1197.7h5.1M1492.6 1197.7h2.6M1497.5 1197.7h5.1M1278.4 1200.2h2.6M1285.9 1200.2h5.1M1293.4 1200.2h7.6M1383.0 1200.2h2.6M1390.5 1200.2h15.1M1407.9 1200.2h2.6M1415.4 1200.2h2.6M1422.8 1200.2h7.6M1492.6 1200.2h10.1M1278.4 1202.7h2.6M1285.9 1202.7h15.1M1383.0 1202.7h2.6M1390.5 1202.7h15.1M1407.9 1202.7h2.6M1415.4 1202.7h2.6M1422.8 1202.7h7.6M1487.6 1202.7h2.6M1495.1 1202.7h7.6M1285.9 1205.2h5.1M1293.4 1205.2h7.6M1383.0 1205.2h2.6M1390.5 1205.2h15.1M1407.9 1205.2h2.6M1415.4 1205.2h2.6M1422.8 1205.2h7.6M1495.1 1205.2h7.6M1191.3 1207.6h2.6M1273.5 1207.6h10.1M1290.9 1207.6h2.6M1348.2 1207.6h5.1M1363.1 1207.6h2.6M1368.1 1207.6h2.6M1388.0 1207.6h2.6M1405.4 1207.6h2.6M1480.1 1207.6h10.1M1492.6 1207.6h2.6M1261.0 1232.4h10.1M1275.9 1232.4h2.6M1280.9 1232.4h2.6M1261.0 1234.9h5.1M1261.0 1237.4h2.6M1261.0 1239.9h2.6M1450.2 1242.4h2.6M1460.2 1242.4h2.6M1236.1 1244.8h2.6M1420.4 1244.8h2.6M1432.8 1244.8h2.6M1437.8 1244.8h5.1M1447.8 1244.8h5.1M1460.2 1244.8h2.6M1236.1 1247.3h2.6M1261.0 1247.3h2.6M1420.4 1247.3h2.6M1432.8 1247.3h2.6M1437.8 1247.3h2.6M1447.8 1247.3h5.1M1460.2 1247.3h2.6M1226.1 1249.8h7.6M1236.1 1249.8h2.6M1400.4 1249.8h2.6M1410.4 1249.8h10.1M1422.8 1249.8h2.6M1427.8 1249.8h5.1M1435.3 1249.8h2.6M1440.3 1249.8h10.1M1452.7 1249.8h7.6M1236.1 1252.3h2.6M1261.0 1252.3h2.6M1420.4 1252.3h2.6M1432.8 1252.3h2.6M1437.8 1252.3h2.6M1450.2 1252.3h2.6M1460.2 1252.3h2.6M1432.8 1254.8h2.6M1437.8 1254.8h2.6M1450.2 1254.8h2.6M1460.2 1254.8h2.6M1221.2 1257.2h2.6M1226.1 1257.2h10.1M1400.4 1257.2h2.6M1410.4 1257.2h10.1M1422.8 1257.2h10.1M1435.3 1257.2h2.6M1442.8 1257.2h5.1M1452.7 1257.2h7.6M1226.1 1259.7h10.1M1400.4 1259.7h2.6M1410.4 1259.7h10.1M1422.8 1259.7h2.6M1427.8 1259.7h5.1M1435.3 1259.7h2.6M1440.3 1259.7h7.6M1452.7 1259.7h7.6M1226.1 1262.2h2.6M1231.1 1262.2h2.6M1236.1 1262.2h2.6M1410.4 1262.2h5.1M1417.9 1262.2h5.1M1430.3 1262.2h20.1M1452.7 1262.2h7.6M1221.2 1264.7h15.1M1398.0 1264.7h5.1M1410.4 1264.7h7.6M1422.8 1264.7h10.1M1435.3 1264.7h2.6M1442.8 1264.7h5.1M1452.7 1264.7h7.6M1495.1 1264.7h2.6M1221.2 1267.2h5.1M1228.6 1267.2h7.6M1390.5 1267.2h2.6M1398.0 1267.2h5.1M1407.9 1267.2h2.6M1412.9 1267.2h5.1M1422.8 1267.2h10.1M1442.8 1267.2h2.6M1457.7 1267.2h2.6M1495.1 1267.2h2.6M1221.2 1269.6h5.1M1228.6 1269.6h7.6M1383.0 1269.6h2.6M1390.5 1269.6h2.6M1395.5 1269.6h10.1M1407.9 1269.6h2.6M1412.9 1269.6h5.1M1422.8 1269.6h7.6M1442.8 1269.6h2.6M1495.1 1269.6h5.1M1191.3 1272.1h2.6M1213.7 1272.1h2.6M1218.7 1272.1h2.6M1350.6 1272.1h2.6M1363.1 1272.1h2.6M1368.1 1272.1h2.6M1405.4 1272.1h2.6M1480.1 1272.1h10.1M1492.6 1272.1h2.6M1500.0 1272.1h2.6M1363.1 1274.6h2.6M1370.6 1274.6h5.1M1378.0 1274.6h7.6M1388.0 1274.6h22.6M1412.9 1274.6h2.6M1425.3 1274.6h5.1M1442.8 1274.6h2.6M1363.1 1277.1h2.6M1370.6 1277.1h5.1M1378.0 1277.1h7.6M1388.0 1277.1h22.6M1412.9 1277.1h2.6M1425.3 1277.1h5.1M1442.8 1277.1h2.6M1378.0 1279.6h2.6M1383.0 1279.6h2.6M1390.5 1279.6h15.1M1407.9 1279.6h7.6M1420.4 1279.6h15.1M1442.8 1279.6h2.6M1348.2 1282.0h5.1M1355.6 1282.0h5.1M1363.1 1282.0h5.1M1370.6 1282.0h15.1M1388.0 1282.0h22.6M1412.9 1282.0h2.6M1427.8 1282.0h2.6M1348.2 1284.5h2.6M1355.6 1284.5h5.1M1363.1 1284.5h5.1M1370.6 1284.5h15.1M1388.0 1284.5h22.6M1412.9 1284.5h2.6M1427.8 1284.5h2.6M1348.2 1287.0h2.6M1358.1 1287.0h2.6M1363.1 1287.0h5.1M1370.6 1287.0h15.1M1388.0 1287.0h22.6M1412.9 1287.0h2.6M1427.8 1287.0h2.6M1348.2 1289.5h2.6M1355.6 1289.5h5.1M1363.1 1289.5h5.1M1370.6 1289.5h5.1M1378.0 1289.5h7.6M1388.0 1289.5h22.6M1412.9 1289.5h2.6M1427.8 1289.5h2.6M1373.0 1292.0h2.6M1378.0 1292.0h7.6M1388.0 1292.0h22.6M1412.9 1292.0h2.6M1425.3 1292.0h5.1M1442.8 1292.0h2.6M1345.7 1294.4h7.6M1355.6 1294.4h5.1M1363.1 1294.4h37.5M1405.4 1294.4h5.1M1345.7 1296.9h7.6M1355.6 1296.9h5.1M1363.1 1296.9h37.5M1405.4 1296.9h5.1M1338.2 1299.4h2.6M1343.2 1299.4h10.1M1355.6 1299.4h35.0M1405.4 1299.4h2.6M1338.2 1301.9h2.6M1343.2 1301.9h10.1M1355.6 1301.9h35.0M1405.4 1301.9h2.6M1348.2 1304.4h5.1M1355.6 1304.4h5.1M1363.1 1304.4h5.1M1370.6 1304.4h15.1M1388.0 1304.4h22.6M1412.9 1304.4h2.6M1427.8 1304.4h2.6M1345.7 1306.8h7.6M1355.6 1306.8h5.1M1363.1 1306.8h37.5M1402.9 1306.8h7.6M1328.2 1309.3h5.1M1338.2 1309.3h10.1M1350.6 1309.3h7.6M1360.6 1309.3h2.6M1368.1 1309.3h2.6M1375.5 1309.3h2.6M1385.5 1309.3h2.6M1338.2 1311.8h2.6M1343.2 1311.8h10.1M1355.6 1311.8h22.6M1380.5 1311.8h2.6M1385.5 1311.8h5.1M1405.4 1311.8h2.6M1328.2 1314.3h5.1M1338.2 1314.3h10.1M1353.1 1314.3h2.6M1360.6 1314.3h2.6M1368.1 1314.3h2.6M1385.5 1314.3h2.6M1323.2 1316.8h10.1M1335.7 1316.8h10.1M1353.1 1316.8h2.6M1236.1 1319.2h2.6M1310.8 1319.2h10.1M1323.2 1319.2h15.1M1340.7 1319.2h2.6M1226.1 1321.7h2.6M1236.1 1321.7h2.6M1300.8 1321.7h2.6M1310.8 1321.7h2.6M1323.2 1321.7h20.1M1338.2 1324.2h2.6M1343.2 1324.2h5.1M1353.1 1324.2h2.6M1360.6 1324.2h2.6M1310.8 1326.7h5.1M1318.3 1326.7h2.6M1323.2 1326.7h20.1M1310.8 1329.2h10.1M1323.2 1329.2h15.1M1340.7 1329.2h2.6M1328.2 1331.6h5.1M1338.2 1331.6h7.6M1353.1 1331.6h2.6M1236.1 1334.1h2.6M1300.8 1334.1h7.6M1310.8 1334.1h10.1M1323.2 1334.1h15.1M1340.7 1334.1h2.6M1310.8 1336.6h10.1M1323.2 1336.6h15.1M1340.7 1336.6h2.6M1236.1 1339.1h2.6M1300.8 1339.1h2.6M1323.2 1339.1h10.1M1335.7 1339.1h10.1M1303.3 1341.6h5.1M1310.8 1341.6h10.1M1323.2 1341.6h15.1M1340.7 1341.6h2.6M1303.3 1344.0h5.1M1310.8 1344.0h27.5M1340.7 1344.0h2.6M1310.8 1346.5h7.6M1323.2 1346.5h20.1M1303.3 1349.0h35.0M1303.3 1351.5h5.1M1310.8 1351.5h27.5M1340.7 1351.5h2.6M1226.1 1354.0h10.1M1298.3 1354.0h2.6M1303.3 1354.0h35.0M1323.2 1356.4h10.1M1335.7 1356.4h10.1M1236.1 1358.9h2.6M1303.3 1358.9h5.1M1310.8 1358.9h27.5M1340.7 1358.9h2.6M1221.2 1361.4h5.1M1228.6 1361.4h7.6M1295.9 1361.4h5.1M1303.3 1361.4h25.1M1333.2 1361.4h5.1M1495.1 1361.4h5.1M1221.2 1363.9h2.6M1226.1 1363.9h10.1M1303.3 1363.9h25.1M1333.2 1363.9h5.1M1221.2 1366.4h2.6M1226.1 1366.4h10.1M1298.3 1366.4h2.6M1303.3 1366.4h25.1M1333.2 1366.4h5.1M1495.1 1366.4h2.6M1221.2 1368.8h5.1M1228.6 1368.8h7.6M1293.4 1368.8h7.6M1303.3 1368.8h25.1M1333.2 1368.8h5.1M1495.1 1368.8h5.1M1221.2 1371.3h5.1M1228.6 1371.3h7.6M1278.4 1371.3h2.6M1285.9 1371.3h5.1M1293.4 1371.3h7.6M1303.3 1371.3h20.1M1333.2 1371.3h2.6M1495.1 1371.3h7.6M1221.2 1373.8h15.1M1298.3 1373.8h2.6M1303.3 1373.8h20.1M1333.2 1373.8h5.1M1495.1 1373.8h2.6M1226.1 1376.3h2.6M1236.1 1376.3h2.6M1300.8 1376.3h7.6M1310.8 1376.3h27.5M1340.7 1376.3h2.6M1221.2 1378.8h5.1M1228.6 1378.8h7.6M1295.9 1378.8h5.1M1303.3 1378.8h25.1M1333.2 1378.8h5.1M1495.1 1378.8h2.6M1213.7 1381.2h2.6M1218.7 1381.2h2.6M1278.4 1381.2h2.6M1285.9 1381.2h10.1M1308.3 1381.2h2.6M1480.1 1381.2h2.6M1485.1 1381.2h5.1M1492.6 1381.2h2.6M1497.5 1381.2h5.1M1221.2 1383.7h5.1M1278.4 1383.7h2.6M1285.9 1383.7h15.1M1303.3 1383.7h20.1M1333.2 1383.7h2.6M1485.1 1383.7h5.1M1492.6 1383.7h10.1M1221.2 1386.2h5.1M1228.6 1386.2h7.6M1278.4 1386.2h2.6M1285.9 1386.2h5.1M1293.4 1386.2h7.6M1495.1 1386.2h5.1M1191.3 1388.7h2.6M1213.7 1388.7h2.6M1218.7 1388.7h2.6M1278.4 1388.7h2.6M1285.9 1388.7h7.6M1480.1 1388.7h2.6M1485.1 1388.7h5.1M1492.6 1388.7h2.6M1500.0 1388.7h2.6M1191.3 1391.2h2.6M1208.7 1391.2h2.6M1213.7 1391.2h7.6M1273.5 1391.2h5.1M1280.9 1391.2h2.6M1290.9 1391.2h2.6M1308.3 1391.2h2.6M1480.1 1391.2h10.1M1492.6 1391.2h2.6M1221.2 1393.6h5.1M1228.6 1393.6h7.6M1278.4 1393.6h2.6M1285.9 1393.6h5.1M1293.4 1393.6h7.6M1308.3 1393.6h2.6M1495.1 1393.6h7.6M1221.2 1396.1h5.1M1228.6 1396.1h7.6M1285.9 1396.1h2.6M1293.4 1396.1h7.6M1303.3 1396.1h7.6M1320.8 1396.1h2.6M1495.1 1396.1h5.1M1221.2 1398.6h5.1M1228.6 1398.6h7.6M1278.4 1398.6h2.6M1285.9 1398.6h5.1M1293.4 1398.6h7.6M1303.3 1398.6h20.1M1333.2 1398.6h2.6M1495.1 1398.6h7.6M1218.7 1401.1h2.6M1278.4 1401.1h2.6M1285.9 1401.1h12.6M1308.3 1401.1h2.6M1485.1 1401.1h5.1M1492.6 1401.1h2.6M1497.5 1401.1h5.1M1191.3 1403.6h2.6M1208.7 1403.6h12.6M1273.5 1403.6h5.1M1280.9 1403.6h5.1M1290.9 1403.6h2.6M1308.3 1403.6h2.6M1480.1 1403.6h10.1M1492.6 1403.6h2.6M1191.3 1406.0h2.6M1213.7 1406.0h2.6M1218.7 1406.0h2.6M1278.4 1406.0h2.6M1285.9 1406.0h10.1M1480.1 1406.0h2.6M1485.1 1406.0h5.1M1492.6 1406.0h2.6M1500.0 1406.0h2.6M1191.3 1408.5h2.6M1208.7 1408.5h12.6M1273.5 1408.5h5.1M1280.9 1408.5h5.1M1290.9 1408.5h2.6M1480.1 1408.5h7.6M1191.3 1411.0h2.6M1213.7 1411.0h2.6M1218.7 1411.0h2.6M1273.5 1411.0h2.6M1278.4 1411.0h2.6M1288.4 1411.0h5.1M1480.1 1411.0h10.1M1492.6 1411.0h2.6M1500.0 1411.0h2.6M1221.2 1413.5h5.1M1278.4 1413.5h2.6M1285.9 1413.5h15.1M1303.3 1413.5h7.6M1320.8 1413.5h2.6M1485.1 1413.5h5.1M1492.6 1413.5h10.1M1213.7 1416.0h2.6M1218.7 1416.0h2.6M1278.4 1416.0h2.6M1285.9 1416.0h10.1M1480.1 1416.0h2.6M1485.1 1416.0h5.1M1492.6 1416.0h2.6M1497.5 1416.0h5.1M1191.3 1418.4h2.6M1213.7 1418.4h2.6M1218.7 1418.4h2.6M1273.5 1418.4h7.6M1290.9 1418.4h2.6M1480.1 1418.4h10.1M1492.6 1418.4h2.6M1500.0 1418.4h2.6M1153.9 1420.9h2.6M1191.3 1420.9h2.6M1201.2 1420.9h2.6M1206.2 1420.9h15.1M1271.0 1420.9h7.6M1280.9 1420.9h5.1M1477.6 1420.9h7.6M1490.1 1420.9h2.6M1213.7 1423.4h2.6M1218.7 1423.4h2.6M1278.4 1423.4h2.6M1285.9 1423.4h10.1M1480.1 1423.4h2.6M1485.1 1423.4h5.1M1492.6 1423.4h2.6M1497.5 1423.4h5.1M1278.4 1425.9h2.6M1285.9 1425.9h10.1M1485.1 1425.9h5.1M1492.6 1425.9h2.6M1497.5 1425.9h5.1M1223.7 1428.4h2.6M1278.4 1428.4h2.6M1285.9 1428.4h12.6M1485.1 1428.4h5.1M1492.6 1428.4h10.1M1153.9 1430.8h2.6M1188.8 1430.8h5.1M1201.2 1430.8h2.6M1206.2 1430.8h7.6M1216.2 1430.8h2.6M1271.0 1430.8h7.6M1280.9 1430.8h5.1M1477.6 1430.8h2.6M1482.6 1430.8h2.6M1490.1 1430.8h2.6M1475.1 1445.7h2.6M1450.2 1448.2h2.6M1460.2 1448.2h2.6M1226.1 1450.7h2.6M1236.1 1450.7h2.6M1300.8 1450.7h2.6M1410.4 1450.7h2.6M1417.9 1450.7h5.1M1432.8 1450.7h10.1M1445.3 1450.7h10.1M1236.1 1453.2h2.6M1300.8 1453.2h2.6M1420.4 1453.2h2.6M1432.8 1453.2h2.6M1437.8 1453.2h5.1M1447.8 1453.2h5.1M1460.2 1453.2h2.6M1226.1 1455.6h2.6M1236.1 1455.6h2.6M1300.8 1455.6h2.6M1410.4 1455.6h5.1M1417.9 1455.6h5.1M1430.3 1455.6h20.1M1452.7 1455.6h7.6M1226.1 1458.1h2.6M1231.1 1458.1h2.6M1236.1 1458.1h2.6M1300.8 1458.1h2.6M1410.4 1458.1h5.1M1417.9 1458.1h5.1M1430.3 1458.1h7.6M1440.3 1458.1h10.1M1452.7 1458.1h7.6M1450.2 1460.6h2.6M1460.2 1460.6h2.6M1226.1 1463.1h5.1M1236.1 1463.1h2.6M1300.8 1463.1h2.6M1410.4 1463.1h5.1M1417.9 1463.1h5.1M1430.3 1463.1h7.6M1440.3 1463.1h10.1M1452.7 1463.1h7.6M1221.2 1465.6h5.1M1228.6 1465.6h7.6M1293.4 1465.6h7.6M1390.5 1465.6h2.6M1395.5 1465.6h10.1M1407.9 1465.6h2.6M1412.9 1465.6h5.1M1422.8 1465.6h7.6M1442.8 1465.6h2.6M1457.7 1465.6h2.6M1221.2 1468.0h15.1M1298.3 1468.0h2.6M1390.5 1468.0h2.6M1398.0 1468.0h5.1M1410.4 1468.0h7.6M1422.8 1468.0h10.1M1442.8 1468.0h5.1M1452.7 1468.0h7.6M1226.1 1470.5h10.1M1300.8 1470.5h2.6M1400.4 1470.5h2.6M1410.4 1470.5h5.1M1417.9 1470.5h2.6M1422.8 1470.5h2.6M1427.8 1470.5h5.1M1435.3 1470.5h2.6M1440.3 1470.5h10.1M1452.7 1470.5h7.6" stroke="#feecaa" stroke-width="2.73" fill="none"/><path d="M1176.3 1148.1h2.6M1211.2 1150.6h25.1M1208.7 1153.1h27.5M1201.2 1155.6h2.6M1208.7 1155.6h17.6M1233.6 1155.6h2.6M1198.8 1158.0h5.1M1208.7 1158.0h12.6M1233.6 1158.0h2.6M1191.3 1160.5h2.6M1188.8 1163.0h2.6M1196.3 1165.5h7.6M1208.7 1165.5h12.6M1193.8 1168.0h10.1M1206.2 1168.0h5.1M1216.2 1168.0h2.6M1186.3 1170.4h2.6M1193.8 1170.4h15.1M1183.8 1172.9h5.1M1193.8 1172.9h7.6M1203.7 1172.9h5.1M1198.8 1175.4h12.6M1216.2 1175.4h5.1M1196.3 1177.9h12.6M1181.3 1180.4h7.6M1193.8 1180.4h5.1M1203.7 1180.4h2.6M1178.8 1182.8h10.1M1193.8 1182.8h2.6M1178.8 1185.3h10.1M1193.8 1185.3h2.6M1460.2 1185.3h2.6M1178.8 1187.8h10.1M1193.8 1187.8h5.1M1203.7 1187.8h2.6M1178.8 1190.3h10.1M1193.8 1190.3h2.6M1203.7 1190.3h2.6M1460.2 1190.3h2.6M1178.8 1192.8h7.6M1300.8 1192.8h2.6M1410.4 1192.8h2.6M1417.9 1192.8h5.1M1430.3 1192.8h12.6M1445.3 1192.8h5.1M1452.7 1192.8h7.6M1178.8 1195.2h7.6M1300.8 1195.2h2.6M1410.4 1195.2h2.6M1417.9 1195.2h5.1M1430.3 1195.2h12.6M1445.3 1195.2h5.1M1452.7 1195.2h5.1M1178.8 1197.7h5.1M1295.9 1197.7h5.1M1390.5 1197.7h2.6M1398.0 1197.7h5.1M1407.9 1197.7h2.6M1412.9 1197.7h5.1M1422.8 1197.7h7.6M1442.8 1197.7h2.6M1457.7 1197.7h2.6M1495.1 1197.7h2.6M1178.8 1200.2h5.1M1300.8 1200.2h2.6M1410.4 1200.2h5.1M1417.9 1200.2h2.6M1430.3 1200.2h2.6M1435.3 1200.2h2.6M1440.3 1200.2h10.1M1452.7 1200.2h7.6M1178.8 1202.7h5.1M1410.4 1202.7h5.1M1417.9 1202.7h2.6M1430.3 1202.7h2.6M1435.3 1202.7h2.6M1440.3 1202.7h10.1M1452.7 1202.7h7.6M1178.8 1205.2h10.1M1300.8 1205.2h2.6M1410.4 1205.2h5.1M1417.9 1205.2h5.1M1430.3 1205.2h2.6M1435.3 1205.2h2.6M1440.3 1205.2h10.1M1452.7 1205.2h7.6M1285.9 1207.6h5.1M1293.4 1207.6h7.6M1383.0 1207.6h2.6M1390.5 1207.6h15.1M1407.9 1207.6h2.6M1415.4 1207.6h2.6M1422.8 1207.6h7.6M1495.1 1207.6h7.6M1256.0 1227.5h2.6M1271.0 1232.4h5.1M1278.4 1232.4h2.6M1283.4 1232.4h15.1M1266.0 1234.9h30.0M1263.5 1237.4h5.1M1275.9 1237.4h2.6M1280.9 1237.4h2.6M1263.5 1239.9h2.6M1261.0 1242.4h5.1M1261.0 1244.8h5.1M1263.5 1247.3h5.1M1261.0 1249.8h5.1M1420.4 1249.8h2.6M1432.8 1249.8h2.6M1437.8 1249.8h2.6M1450.2 1249.8h2.6M1460.2 1249.8h2.6M1263.5 1252.3h5.1M1261.0 1254.8h5.1M1236.1 1257.2h2.6M1261.0 1257.2h5.1M1420.4 1257.2h2.6M1432.8 1257.2h2.6M1437.8 1257.2h5.1M1447.8 1257.2h5.1M1236.1 1259.7h2.6M1261.0 1259.7h5.1M1420.4 1259.7h2.6M1432.8 1259.7h2.6M1437.8 1259.7h2.6M1447.8 1259.7h5.1M1460.2 1259.7h2.6M1261.0 1262.2h5.1M1450.2 1262.2h2.6M1460.2 1262.2h2.6M1236.1 1264.7h2.6M1261.0 1264.7h5.1M1417.9 1264.7h5.1M1432.8 1264.7h2.6M1437.8 1264.7h5.1M1447.8 1264.7h5.1M1226.1 1267.2h2.6M1236.1 1267.2h2.6M1261.0 1267.2h2.6M1410.4 1267.2h2.6M1417.9 1267.2h5.1M1432.8 1267.2h10.1M1445.3 1267.2h5.1M1452.7 1267.2h5.1M1226.1 1269.6h2.6M1236.1 1269.6h2.6M1410.4 1269.6h2.6M1417.9 1269.6h5.1M1430.3 1269.6h12.6M1445.3 1269.6h5.1M1452.7 1269.6h7.6M1221.2 1272.1h5.1M1228.6 1272.1h2.6M1233.6 1272.1h2.6M1383.0 1272.1h2.6M1390.5 1272.1h15.1M1407.9 1272.1h2.6M1415.4 1272.1h2.6M1422.8 1272.1h7.6M1495.1 1272.1h5.1M1410.4 1274.6h2.6M1415.4 1274.6h10.1M1430.3 1274.6h12.6M1445.3 1274.6h15.1M1410.4 1277.1h2.6M1415.4 1277.1h10.1M1430.3 1277.1h12.6M1445.3 1277.1h15.1M1415.4 1279.6h5.1M1435.3 1279.6h7.6M1445.3 1279.6h17.6M1410.4 1282.0h2.6M1415.4 1282.0h12.6M1430.3 1282.0h15.1M1457.7 1282.0h2.6M1410.4 1284.5h2.6M1415.4 1284.5h12.6M1430.3 1284.5h15.1M1457.7 1284.5h2.6M1315.8 1287.0h2.6M1410.4 1287.0h2.6M1415.4 1287.0h12.6M1430.3 1287.0h17.6M1457.7 1287.0h2.6M1410.4 1289.5h2.6M1415.4 1289.5h12.6M1430.3 1289.5h17.6M1457.7 1289.5h2.6M1410.4 1292.0h2.6M1415.4 1292.0h10.1M1430.3 1292.0h12.6M1445.3 1292.0h17.6M1400.4 1294.4h5.1M1410.4 1294.4h35.0M1457.7 1294.4h2.6M1400.4 1296.9h5.1M1410.4 1296.9h35.0M1457.7 1296.9h2.6M1390.5 1299.4h15.1M1407.9 1299.4h10.1M1420.4 1299.4h15.1M1442.8 1299.4h2.6M1390.5 1301.9h15.1M1407.9 1301.9h7.6M1422.8 1301.9h12.6M1442.8 1301.9h2.6M1410.4 1304.4h2.6M1415.4 1304.4h12.6M1430.3 1304.4h17.6M1457.7 1304.4h2.6M1400.4 1306.8h2.6M1410.4 1306.8h35.0M1457.7 1306.8h2.6M1348.2 1309.3h2.6M1358.1 1309.3h2.6M1363.1 1309.3h5.1M1370.6 1309.3h5.1M1378.0 1309.3h7.6M1388.0 1309.3h22.6M1412.9 1309.3h2.6M1427.8 1309.3h2.6M1378.0 1311.8h2.6M1383.0 1311.8h2.6M1390.5 1311.8h15.1M1407.9 1311.8h7.6M1422.8 1311.8h12.6M1442.8 1311.8h2.6M1348.2 1314.3h5.1M1355.6 1314.3h5.1M1363.1 1314.3h5.1M1370.6 1314.3h15.1M1388.0 1314.3h12.6M1405.4 1314.3h5.1M1345.7 1316.8h7.6M1355.6 1316.8h22.6M1380.5 1316.8h2.6M1385.5 1316.8h5.1M1405.4 1316.8h2.6M1338.2 1319.2h2.6M1343.2 1319.2h5.1M1353.1 1319.2h2.6M1360.6 1319.2h2.6M1368.1 1319.2h2.6M1385.5 1319.2h2.6M1343.2 1321.7h5.1M1353.1 1321.7h2.6M1360.6 1321.7h2.6M1368.1 1321.7h2.6M1385.5 1321.7h2.6M1348.2 1324.2h5.1M1355.6 1324.2h5.1M1363.1 1324.2h27.5M1395.5 1324.2h5.1M1405.4 1324.2h5.1M1343.2 1326.7h5.1M1353.1 1326.7h2.6M1360.6 1326.7h2.6M1368.1 1326.7h2.6M1385.5 1326.7h2.6M1338.2 1329.2h2.6M1343.2 1329.2h5.1M1353.1 1329.2h2.6M1360.6 1329.2h2.6M1345.7 1331.6h7.6M1355.6 1331.6h7.6M1368.1 1331.6h2.6M1375.5 1331.6h2.6M1385.5 1331.6h2.6M1338.2 1334.1h2.6M1343.2 1334.1h5.1M1353.1 1334.1h2.6M1338.2 1336.6h2.6M1343.2 1336.6h5.1M1353.1 1336.6h2.6M1345.7 1339.1h12.6M1360.6 1339.1h2.6M1385.5 1339.1h2.6M1338.2 1341.6h2.6M1343.2 1341.6h5.1M1353.1 1341.6h2.6M1338.2 1344.0h2.6M1343.2 1344.0h5.1M1353.1 1344.0h2.6M1343.2 1346.5h5.1M1353.1 1346.5h2.6M1360.6 1346.5h2.6M1338.2 1349.0h7.6M1353.1 1349.0h2.6M1338.2 1351.5h2.6M1343.2 1351.5h5.1M1353.1 1351.5h2.6M1236.1 1354.0h2.6M1300.8 1354.0h2.6M1338.2 1354.0h7.6M1353.1 1354.0h2.6M1345.7 1356.4h12.6M1360.6 1356.4h2.6M1368.1 1356.4h2.6M1338.2 1358.9h2.6M1343.2 1358.9h5.1M1353.1 1358.9h2.6M1226.1 1361.4h2.6M1236.1 1361.4h2.6M1300.8 1361.4h2.6M1328.2 1361.4h5.1M1338.2 1361.4h7.6M1236.1 1363.9h2.6M1300.8 1363.9h2.6M1328.2 1363.9h5.1M1338.2 1363.9h7.6M1236.1 1366.4h2.6M1300.8 1366.4h2.6M1328.2 1366.4h5.1M1338.2 1366.4h7.6M1353.1 1366.4h2.6M1226.1 1368.8h2.6M1236.1 1368.8h2.6M1300.8 1368.8h2.6M1328.2 1368.8h5.1M1338.2 1368.8h7.6M1353.1 1368.8h2.6M1226.1 1371.3h2.6M1236.1 1371.3h2.6M1300.8 1371.3h2.6M1323.2 1371.3h10.1M1335.7 1371.3h7.6M1236.1 1373.8h2.6M1300.8 1373.8h2.6M1323.2 1373.8h10.1M1338.2 1373.8h5.1M1338.2 1376.3h2.6M1343.2 1376.3h5.1M1353.1 1376.3h2.6M1226.1 1378.8h2.6M1236.1 1378.8h2.6M1300.8 1378.8h2.6M1328.2 1378.8h5.1M1338.2 1378.8h7.6M1353.1 1378.8h2.6M1221.2 1381.2h5.1M1228.6 1381.2h7.6M1295.9 1381.2h5.1M1303.3 1381.2h5.1M1310.8 1381.2h27.5M1340.7 1381.2h2.6M1495.1 1381.2h2.6M1226.1 1383.7h10.1M1323.2 1383.7h10.1M1335.7 1383.7h7.6M1226.1 1386.2h2.6M1236.1 1386.2h2.6M1300.8 1386.2h30.0M1333.2 1386.2h5.1M1221.2 1388.7h5.1M1228.6 1388.7h7.6M1293.4 1388.7h7.6M1303.3 1388.7h25.1M1333.2 1388.7h5.1M1495.1 1388.7h5.1M1221.2 1391.2h5.1M1233.6 1391.2h2.6M1278.4 1391.2h2.6M1285.9 1391.2h5.1M1293.4 1391.2h7.6M1303.3 1391.2h5.1M1310.8 1391.2h20.1M1333.2 1391.2h5.1M1495.1 1391.2h7.6M1226.1 1393.6h2.6M1236.1 1393.6h2.6M1300.8 1393.6h7.6M1310.8 1393.6h27.5M1340.7 1393.6h2.6M1226.1 1396.1h2.6M1236.1 1396.1h2.6M1300.8 1396.1h2.6M1310.8 1396.1h10.1M1323.2 1396.1h15.1M1340.7 1396.1h2.6M1226.1 1398.6h2.6M1236.1 1398.6h2.6M1300.8 1398.6h2.6M1323.2 1398.6h10.1M1335.7 1398.6h7.6M1221.2 1401.1h5.1M1228.6 1401.1h7.6M1298.3 1401.1h2.6M1303.3 1401.1h5.1M1310.8 1401.1h27.5M1340.7 1401.1h2.6M1495.1 1401.1h2.6M1221.2 1403.6h5.1M1278.4 1403.6h2.6M1285.9 1403.6h5.1M1293.4 1403.6h7.6M1303.3 1403.6h5.1M1310.8 1403.6h27.5M1340.7 1403.6h2.6M1495.1 1403.6h7.6M1221.2 1406.0h5.1M1228.6 1406.0h7.6M1295.9 1406.0h5.1M1303.3 1406.0h25.1M1333.2 1406.0h5.1M1495.1 1406.0h5.1M1221.2 1408.5h5.1M1278.4 1408.5h2.6M1285.9 1408.5h5.1M1293.4 1408.5h7.6M1303.3 1408.5h25.1M1333.2 1408.5h5.1M1487.6 1408.5h2.6M1492.6 1408.5h10.1M1221.2 1411.0h5.1M1228.6 1411.0h7.6M1285.9 1411.0h2.6M1293.4 1411.0h7.6M1303.3 1411.0h25.1M1333.2 1411.0h5.1M1495.1 1411.0h5.1M1226.1 1413.5h10.1M1310.8 1413.5h10.1M1323.2 1413.5h15.1M1340.7 1413.5h2.6M1221.2 1416.0h5.1M1228.6 1416.0h7.6M1295.9 1416.0h5.1M1303.3 1416.0h7.6M1315.8 1416.0h7.6M1333.2 1416.0h2.6M1495.1 1416.0h2.6M1221.2 1418.4h5.1M1228.6 1418.4h7.6M1285.9 1418.4h5.1M1293.4 1418.4h7.6M1303.3 1418.4h7.6M1320.8 1418.4h2.6M1495.1 1418.4h5.1M1278.4 1420.9h2.6M1285.9 1420.9h10.1M1303.3 1420.9h7.6M1320.8 1420.9h2.6M1485.1 1420.9h5.1M1492.6 1420.9h2.6M1497.5 1420.9h5.1M1221.2 1423.4h5.1M1228.6 1423.4h7.6M1295.9 1423.4h5.1M1303.3 1423.4h7.6M1320.8 1423.4h2.6M1495.1 1423.4h2.6M1221.2 1425.9h5.1M1228.6 1425.9h7.6M1295.9 1425.9h5.1M1303.3 1425.9h7.6M1320.8 1425.9h2.6M1495.1 1425.9h2.6M1221.2 1428.4h2.6M1226.1 1428.4h10.1M1298.3 1428.4h2.6M1303.3 1428.4h25.1M1333.2 1428.4h5.1M1213.7 1430.8h2.6M1218.7 1430.8h2.6M1278.4 1430.8h2.6M1288.4 1430.8h5.1M1308.3 1430.8h2.6M1320.8 1430.8h2.6M1480.1 1430.8h2.6M1485.1 1430.8h5.1M1492.6 1430.8h2.6M1500.0 1430.8h2.6M1477.6 1448.2h2.6M1460.2 1450.7h2.6M1450.2 1455.6h2.6M1460.2 1455.6h2.6M1437.8 1458.1h2.6M1450.2 1458.1h2.6M1460.2 1458.1h2.6M1437.8 1463.1h2.6M1450.2 1463.1h2.6M1460.2 1463.1h2.6M1226.1 1465.6h2.6M1236.1 1465.6h2.6M1300.8 1465.6h2.6M1410.4 1465.6h2.6M1417.9 1465.6h5.1M1430.3 1465.6h12.6M1445.3 1465.6h5.1M1452.7 1465.6h5.1M1236.1 1468.0h2.6M1300.8 1468.0h2.6M1417.9 1468.0h5.1M1432.8 1468.0h10.1M1447.8 1468.0h5.1M1236.1 1470.5h2.6M1420.4 1470.5h2.6M1432.8 1470.5h2.6M1437.8 1470.5h2.6M1450.2 1470.5h2.6M1460.2 1470.5h2.6" stroke="#fee79d" stroke-width="2.73" fill="none"/><path d="M1153.9 1125.8h2.6M1236.1 1150.6h2.6M1236.1 1153.1h2.6M1226.1 1155.6h7.6M1236.1 1155.6h2.6M1221.2 1158.0h12.6M1221.2 1165.5h15.1M1211.2 1168.0h5.1M1218.7 1168.0h7.6M1228.6 1168.0h7.6M1208.7 1170.4h12.6M1223.7 1170.4h2.6M1233.6 1170.4h2.6M1201.2 1172.9h2.6M1208.7 1172.9h12.6M1233.6 1172.9h2.6M1211.2 1175.4h5.1M1221.2 1175.4h15.1M1208.7 1177.9h17.6M1233.6 1177.9h2.6M1198.8 1180.4h5.1M1206.2 1180.4h2.6M1196.3 1182.8h12.6M1196.3 1185.3h12.6M1198.8 1187.8h5.1M1206.2 1187.8h2.6M1196.3 1190.3h7.6M1206.2 1190.3h2.6M1186.3 1192.8h2.6M1193.8 1192.8h5.1M1203.7 1192.8h5.1M1450.2 1192.8h2.6M1460.2 1192.8h2.6M1186.3 1195.2h2.6M1193.8 1195.2h7.6M1203.7 1195.2h5.1M1450.2 1195.2h2.6M1460.2 1195.2h2.6M1183.8 1197.7h5.1M1193.8 1197.7h2.6M1203.7 1197.7h2.6M1300.8 1197.7h2.6M1410.4 1197.7h2.6M1417.9 1197.7h5.1M1430.3 1197.7h7.6M1440.3 1197.7h2.6M1445.3 1197.7h5.1M1452.7 1197.7h5.1M1183.8 1200.2h5.1M1193.8 1200.2h5.1M1203.7 1200.2h2.6M1420.4 1200.2h2.6M1432.8 1200.2h2.6M1437.8 1200.2h2.6M1450.2 1200.2h2.6M1460.2 1200.2h2.6M1183.8 1202.7h5.1M1193.8 1202.7h5.1M1203.7 1202.7h2.6M1300.8 1202.7h2.6M1420.4 1202.7h2.6M1432.8 1202.7h2.6M1437.8 1202.7h2.6M1450.2 1202.7h2.6M1193.8 1205.2h15.1M1432.8 1205.2h2.6M1437.8 1205.2h2.6M1450.2 1205.2h2.6M1460.2 1205.2h2.6M1178.8 1207.6h7.6M1410.4 1207.6h5.1M1417.9 1207.6h2.6M1430.3 1207.6h2.6M1435.3 1207.6h2.6M1442.8 1207.6h5.1M1452.7 1207.6h7.6M1298.3 1232.4h5.1M1295.9 1234.9h2.6M1268.5 1237.4h7.6M1278.4 1237.4h2.6M1283.4 1237.4h15.1M1266.0 1239.9h30.0M1266.0 1242.4h5.1M1275.9 1242.4h2.6M1280.9 1242.4h2.6M1266.0 1244.8h5.1M1275.9 1244.8h2.6M1280.9 1244.8h2.6M1268.5 1247.3h10.1M1280.9 1247.3h2.6M1290.9 1247.3h2.6M1266.0 1249.8h5.1M1280.9 1249.8h2.6M1268.5 1252.3h27.5M1266.0 1254.8h5.1M1280.9 1254.8h2.6M1266.0 1257.2h5.1M1280.9 1257.2h2.6M1460.2 1257.2h2.6M1266.0 1259.7h5.1M1280.9 1259.7h2.6M1266.0 1262.2h5.1M1275.9 1262.2h2.6M1280.9 1262.2h2.6M1266.0 1264.7h5.1M1280.9 1264.7h2.6M1460.2 1264.7h2.6M1263.5 1267.2h5.1M1450.2 1267.2h2.6M1460.2 1267.2h2.6M1261.0 1269.6h2.6M1450.2 1269.6h2.6M1460.2 1269.6h2.6M1226.1 1272.1h2.6M1231.1 1272.1h2.6M1261.0 1272.1h2.6M1410.4 1272.1h5.1M1417.9 1272.1h2.6M1430.3 1272.1h2.6M1435.3 1272.1h2.6M1440.3 1272.1h7.6M1452.7 1272.1h7.6M1460.2 1274.6h2.6M1460.2 1277.1h2.6M1445.3 1282.0h12.6M1460.2 1282.0h2.6M1445.3 1284.5h12.6M1460.2 1284.5h2.6M1447.8 1287.0h10.1M1460.2 1287.0h2.6M1447.8 1289.5h10.1M1460.2 1289.5h2.6M1445.3 1294.4h12.6M1460.2 1294.4h2.6M1445.3 1296.9h12.6M1460.2 1296.9h2.6M1417.9 1299.4h2.6M1435.3 1299.4h7.6M1445.3 1299.4h17.6M1415.4 1301.9h7.6M1435.3 1301.9h7.6M1445.3 1301.9h17.6M1447.8 1304.4h10.1M1460.2 1304.4h2.6M1445.3 1306.8h12.6M1460.2 1306.8h2.6M1410.4 1309.3h2.6M1415.4 1309.3h12.6M1430.3 1309.3h15.1M1457.7 1309.3h2.6M1415.4 1311.8h7.6M1435.3 1311.8h7.6M1445.3 1311.8h17.6M1400.4 1314.3h5.1M1410.4 1314.3h35.0M1378.0 1316.8h2.6M1383.0 1316.8h2.6M1390.5 1316.8h15.1M1407.9 1316.8h2.6M1412.9 1316.8h2.6M1425.3 1316.8h5.1M1442.8 1316.8h2.6M1348.2 1319.2h5.1M1355.6 1319.2h5.1M1363.1 1319.2h5.1M1370.6 1319.2h15.1M1388.0 1319.2h2.6M1398.0 1319.2h2.6M1405.4 1319.2h5.1M1348.2 1321.7h2.6M1355.6 1321.7h5.1M1363.1 1321.7h5.1M1370.6 1321.7h15.1M1388.0 1321.7h2.6M1395.5 1321.7h5.1M1405.4 1321.7h5.1M1390.5 1324.2h5.1M1400.4 1324.2h5.1M1410.4 1324.2h35.0M1348.2 1326.7h5.1M1355.6 1326.7h5.1M1363.1 1326.7h5.1M1370.6 1326.7h15.1M1388.0 1326.7h2.6M1398.0 1326.7h2.6M1405.4 1326.7h5.1M1348.2 1329.2h5.1M1355.6 1329.2h5.1M1363.1 1329.2h15.1M1380.5 1329.2h2.6M1385.5 1329.2h5.1M1405.4 1329.2h2.6M1363.1 1331.6h5.1M1370.6 1331.6h5.1M1378.0 1331.6h7.6M1388.0 1331.6h22.6M1412.9 1331.6h2.6M1427.8 1331.6h2.6M1348.2 1334.1h5.1M1355.6 1334.1h7.6M1365.6 1334.1h7.6M1375.5 1334.1h2.6M1385.5 1334.1h5.1M1405.4 1334.1h2.6M1348.2 1336.6h5.1M1355.6 1336.6h17.6M1375.5 1336.6h2.6M1385.5 1336.6h5.1M1405.4 1336.6h2.6M1358.1 1339.1h2.6M1363.1 1339.1h22.6M1388.0 1339.1h2.6M1398.0 1339.1h2.6M1405.4 1339.1h5.1M1348.2 1341.6h5.1M1355.6 1341.6h15.1M1375.5 1341.6h2.6M1385.5 1341.6h2.6M1348.2 1344.0h5.1M1355.6 1344.0h7.6M1368.1 1344.0h2.6M1385.5 1344.0h2.6M1348.2 1346.5h5.1M1355.6 1346.5h5.1M1363.1 1346.5h10.1M1375.5 1346.5h2.6M1385.5 1346.5h2.6M1405.4 1346.5h2.6M1345.7 1349.0h7.6M1355.6 1349.0h2.6M1360.6 1349.0h2.6M1368.1 1349.0h2.6M1348.2 1351.5h5.1M1355.6 1351.5h7.6M1368.1 1351.5h2.6M1345.7 1354.0h7.6M1355.6 1354.0h2.6M1360.6 1354.0h2.6M1368.1 1354.0h2.6M1358.1 1356.4h2.6M1363.1 1356.4h5.1M1370.6 1356.4h7.6M1385.5 1356.4h5.1M1405.4 1356.4h2.6M1348.2 1358.9h5.1M1355.6 1358.9h15.1M1385.5 1358.9h2.6M1345.7 1361.4h2.6M1353.1 1361.4h2.6M1360.6 1361.4h2.6M1345.7 1363.9h2.6M1353.1 1363.9h2.6M1360.6 1363.9h2.6M1345.7 1366.4h2.6M1350.6 1366.4h2.6M1360.6 1366.4h2.6M1345.7 1368.8h7.6M1355.6 1368.8h2.6M1360.6 1368.8h2.6M1368.1 1368.8h2.6M1343.2 1371.3h5.1M1353.1 1371.3h2.6M1360.6 1371.3h2.6M1343.2 1373.8h5.1M1353.1 1373.8h2.6M1360.6 1373.8h2.6M1348.2 1376.3h5.1M1355.6 1376.3h15.1M1375.5 1376.3h2.6M1385.5 1376.3h2.6M1345.7 1378.8h7.6M1355.6 1378.8h2.6M1360.6 1378.8h2.6M1368.1 1378.8h2.6M1226.1 1381.2h2.6M1236.1 1381.2h2.6M1300.8 1381.2h2.6M1338.2 1381.2h2.6M1343.2 1381.2h2.6M1353.1 1381.2h2.6M1236.1 1383.7h2.6M1300.8 1383.7h2.6M1343.2 1383.7h5.1M1353.1 1383.7h2.6M1360.6 1383.7h2.6M1330.7 1386.2h2.6M1338.2 1386.2h7.6M1353.1 1386.2h2.6M1226.1 1388.7h2.6M1236.1 1388.7h2.6M1300.8 1388.7h2.6M1328.2 1388.7h5.1M1338.2 1388.7h7.6M1353.1 1388.7h2.6M1226.1 1391.2h7.6M1330.7 1391.2h2.6M1338.2 1391.2h7.6M1353.1 1391.2h2.6M1338.2 1393.6h2.6M1343.2 1393.6h2.6M1353.1 1393.6h2.6M1338.2 1396.1h2.6M1343.2 1396.1h5.1M1353.1 1396.1h2.6M1343.2 1398.6h5.1M1353.1 1398.6h2.6M1360.6 1398.6h2.6M1226.1 1401.1h2.6M1236.1 1401.1h2.6M1300.8 1401.1h2.6M1338.2 1401.1h2.6M1343.2 1401.1h2.6M1353.1 1401.1h2.6M1226.1 1403.6h10.1M1338.2 1403.6h2.6M1343.2 1403.6h2.6M1353.1 1403.6h2.6M1226.1 1406.0h2.6M1236.1 1406.0h2.6M1300.8 1406.0h2.6M1328.2 1406.0h5.1M1338.2 1406.0h7.6M1353.1 1406.0h2.6M1228.6 1408.5h7.6M1328.2 1408.5h5.1M1338.2 1408.5h7.6M1353.1 1408.5h2.6M1226.1 1411.0h2.6M1300.8 1411.0h2.6M1328.2 1411.0h5.1M1338.2 1411.0h7.6M1353.1 1411.0h2.6M1236.1 1413.5h2.6M1300.8 1413.5h2.6M1338.2 1413.5h2.6M1343.2 1413.5h5.1M1353.1 1413.5h2.6M1226.1 1416.0h2.6M1236.1 1416.0h2.6M1300.8 1416.0h2.6M1310.8 1416.0h5.1M1323.2 1416.0h10.1M1335.7 1416.0h2.6M1340.7 1416.0h2.6M1226.1 1418.4h2.6M1310.8 1418.4h10.1M1323.2 1418.4h15.1M1340.7 1418.4h2.6M1221.2 1420.9h5.1M1228.6 1420.9h7.6M1295.9 1420.9h5.1M1310.8 1420.9h10.1M1323.2 1420.9h15.1M1340.7 1420.9h2.6M1495.1 1420.9h2.6M1226.1 1423.4h2.6M1236.1 1423.4h2.6M1300.8 1423.4h2.6M1310.8 1423.4h10.1M1323.2 1423.4h15.1M1340.7 1423.4h2.6M1226.1 1425.9h2.6M1236.1 1425.9h2.6M1300.8 1425.9h2.6M1310.8 1425.9h10.1M1323.2 1425.9h15.1M1340.7 1425.9h2.6M1236.1 1428.4h2.6M1300.8 1428.4h2.6M1328.2 1428.4h5.1M1338.2 1428.4h5.1M1221.2 1430.8h5.1M1228.6 1430.8h2.6M1233.6 1430.8h2.6M1285.9 1430.8h2.6M1293.4 1430.8h7.6M1303.3 1430.8h5.1M1310.8 1430.8h10.1M1323.2 1430.8h15.1M1340.7 1430.8h2.6M1495.1 1430.8h5.1M1480.1 1448.2h7.6M1477.6 1450.7h2.6M1477.6 1453.2h2.6M1477.6 1455.6h2.6M1450.2 1465.6h2.6M1460.2 1465.6h2.6M1460.2 1468.0h2.6" stroke="#fedb89" stroke-width="2.73" fill="none"/><path d="M1236.1 1158.0h2.6M1236.1 1165.5h2.6M1226.1 1168.0h2.6M1236.1 1168.0h2.6M1221.2 1170.4h2.6M1226.1 1170.4h7.6M1221.2 1172.9h12.6M1236.1 1175.4h2.6M1226.1 1177.9h7.6M1236.1 1177.9h2.6M1208.7 1180.4h12.6M1233.6 1180.4h2.6M1208.7 1182.8h2.6M1216.2 1182.8h5.1M1208.7 1185.3h2.6M1208.7 1187.8h5.1M1208.7 1190.3h5.1M1198.8 1192.8h5.1M1201.2 1195.2h2.6M1196.3 1197.7h7.6M1206.2 1197.7h2.6M1437.8 1197.7h2.6M1450.2 1197.7h2.6M1460.2 1197.7h2.6M1198.8 1200.2h5.1M1206.2 1200.2h2.6M1198.8 1202.7h5.1M1206.2 1202.7h2.6M1460.2 1202.7h2.6M1208.7 1205.2h2.6M1186.3 1207.6h2.6M1193.8 1207.6h5.1M1203.7 1207.6h5.1M1300.8 1207.6h2.6M1420.4 1207.6h2.6M1432.8 1207.6h2.6M1437.8 1207.6h5.1M1447.8 1207.6h2.6M1298.3 1234.9h5.1M1298.3 1237.4h2.6M1295.9 1239.9h2.6M1271.0 1242.4h5.1M1278.4 1242.4h2.6M1283.4 1242.4h15.1M1271.0 1244.8h5.1M1278.4 1244.8h2.6M1283.4 1244.8h12.6M1278.4 1247.3h2.6M1283.4 1247.3h7.6M1293.4 1247.3h5.1M1271.0 1249.8h7.6M1283.4 1249.8h2.6M1290.9 1249.8h2.6M1295.9 1252.3h2.6M1271.0 1254.8h10.1M1283.4 1254.8h2.6M1288.4 1254.8h7.6M1271.0 1257.2h7.6M1271.0 1259.7h7.6M1283.4 1259.7h2.6M1271.0 1262.2h5.1M1278.4 1262.2h2.6M1283.4 1262.2h2.6M1271.0 1264.7h7.6M1283.4 1264.7h2.6M1268.5 1267.2h5.1M1275.9 1267.2h2.6M1280.9 1267.2h2.6M1263.5 1269.6h5.1M1236.1 1272.1h2.6M1263.5 1272.1h2.6M1420.4 1272.1h2.6M1432.8 1272.1h2.6M1437.8 1272.1h2.6M1447.8 1272.1h2.6M1445.3 1309.3h12.6M1460.2 1309.3h2.6M1445.3 1314.3h17.6M1410.4 1316.8h2.6M1415.4 1316.8h10.1M1430.3 1316.8h12.6M1445.3 1316.8h7.6M1455.2 1316.8h5.1M1390.5 1319.2h7.6M1400.4 1319.2h5.1M1410.4 1319.2h5.1M1422.8 1319.2h12.6M1442.8 1319.2h2.6M1350.6 1321.7h2.6M1390.5 1321.7h5.1M1400.4 1321.7h5.1M1410.4 1321.7h5.1M1420.4 1321.7h17.6M1440.3 1321.7h5.1M1445.3 1324.2h17.6M1390.5 1326.7h7.6M1400.4 1326.7h5.1M1410.4 1326.7h5.1M1422.8 1326.7h12.6M1442.8 1326.7h2.6M1378.0 1329.2h2.6M1383.0 1329.2h2.6M1390.5 1329.2h15.1M1407.9 1329.2h2.6M1412.9 1329.2h2.6M1425.3 1329.2h5.1M1442.8 1329.2h2.6M1410.4 1331.6h2.6M1415.4 1331.6h12.6M1430.3 1331.6h15.1M1457.7 1331.6h2.6M1363.1 1334.1h2.6M1373.0 1334.1h2.6M1378.0 1334.1h7.6M1390.5 1334.1h15.1M1407.9 1334.1h2.6M1412.9 1334.1h2.6M1425.3 1334.1h5.1M1373.0 1336.6h2.6M1378.0 1336.6h7.6M1390.5 1336.6h15.1M1407.9 1336.6h2.6M1412.9 1336.6h2.6M1425.3 1336.6h5.1M1442.8 1336.6h2.6M1390.5 1339.1h7.6M1400.4 1339.1h5.1M1410.4 1339.1h5.1M1422.8 1339.1h12.6M1442.8 1339.1h2.6M1370.6 1341.6h5.1M1378.0 1341.6h7.6M1388.0 1341.6h12.6M1405.4 1341.6h5.1M1412.9 1341.6h2.6M1363.1 1344.0h5.1M1370.6 1344.0h15.1M1388.0 1344.0h2.6M1398.0 1344.0h2.6M1405.4 1344.0h5.1M1373.0 1346.5h2.6M1378.0 1346.5h7.6M1388.0 1346.5h17.6M1407.9 1346.5h2.6M1412.9 1346.5h2.6M1425.3 1346.5h5.1M1442.8 1346.5h2.6M1358.1 1349.0h2.6M1363.1 1349.0h5.1M1370.6 1349.0h7.6M1385.5 1349.0h5.1M1405.4 1349.0h2.6M1363.1 1351.5h5.1M1370.6 1351.5h7.6M1380.5 1351.5h2.6M1385.5 1351.5h5.1M1405.4 1351.5h2.6M1358.1 1354.0h2.6M1363.1 1354.0h5.1M1370.6 1354.0h7.6M1385.5 1354.0h5.1M1405.4 1354.0h2.6M1378.0 1356.4h7.6M1390.5 1356.4h15.1M1407.9 1356.4h2.6M1412.9 1356.4h2.6M1425.3 1356.4h5.1M1442.8 1356.4h2.6M1370.6 1358.9h15.1M1388.0 1358.9h2.6M1405.4 1358.9h2.6M1348.2 1361.4h5.1M1355.6 1361.4h5.1M1363.1 1361.4h10.1M1375.5 1361.4h2.6M1385.5 1361.4h2.6M1348.2 1363.9h5.1M1355.6 1363.9h5.1M1363.1 1363.9h10.1M1375.5 1363.9h2.6M1385.5 1363.9h2.6M1348.2 1366.4h2.6M1355.6 1366.4h5.1M1363.1 1366.4h10.1M1375.5 1366.4h2.6M1385.5 1366.4h2.6M1358.1 1368.8h2.6M1363.1 1368.8h5.1M1370.6 1368.8h7.6M1385.5 1368.8h2.6M1348.2 1371.3h5.1M1355.6 1371.3h5.1M1363.1 1371.3h7.6M1375.5 1371.3h2.6M1385.5 1371.3h2.6M1348.2 1373.8h5.1M1355.6 1373.8h5.1M1363.1 1373.8h7.6M1375.5 1373.8h2.6M1385.5 1373.8h2.6M1370.6 1376.3h5.1M1378.0 1376.3h7.6M1388.0 1376.3h2.6M1358.1 1378.8h2.6M1363.1 1378.8h5.1M1370.6 1378.8h7.6M1385.5 1378.8h2.6M1345.7 1381.2h7.6M1355.6 1381.2h2.6M1360.6 1381.2h2.6M1368.1 1381.2h2.6M1348.2 1383.7h5.1M1355.6 1383.7h5.1M1363.1 1383.7h10.1M1375.5 1383.7h2.6M1385.5 1383.7h2.6M1345.7 1386.2h2.6M1360.6 1386.2h2.6M1345.7 1388.7h2.6M1360.6 1388.7h2.6M1236.1 1391.2h2.6M1300.8 1391.2h2.6M1345.7 1391.2h2.6M1350.6 1391.2h2.6M1360.6 1391.2h2.6M1345.7 1393.6h7.6M1355.6 1393.6h2.6M1360.6 1393.6h2.6M1368.1 1393.6h2.6M1348.2 1396.1h5.1M1355.6 1396.1h15.1M1375.5 1396.1h2.6M1385.5 1396.1h2.6M1348.2 1398.6h5.1M1355.6 1398.6h5.1M1363.1 1398.6h7.6M1375.5 1398.6h2.6M1385.5 1398.6h2.6M1345.7 1401.1h7.6M1355.6 1401.1h2.6M1360.6 1401.1h2.6M1368.1 1401.1h2.6M1236.1 1403.6h2.6M1300.8 1403.6h2.6M1345.7 1403.6h7.6M1355.6 1403.6h2.6M1360.6 1403.6h2.6M1368.1 1403.6h2.6M1345.7 1406.0h2.6M1350.6 1406.0h2.6M1360.6 1406.0h2.6M1226.1 1408.5h2.6M1236.1 1408.5h2.6M1300.8 1408.5h2.6M1345.7 1408.5h2.6M1360.6 1408.5h2.6M1236.1 1411.0h2.6M1345.7 1411.0h2.6M1350.6 1411.0h2.6M1360.6 1411.0h2.6M1348.2 1413.5h5.1M1355.6 1413.5h7.6M1365.6 1413.5h5.1M1375.5 1413.5h2.6M1385.5 1413.5h2.6M1338.2 1416.0h2.6M1343.2 1416.0h5.1M1353.1 1416.0h2.6M1236.1 1418.4h2.6M1300.8 1418.4h2.6M1338.2 1418.4h2.6M1343.2 1418.4h5.1M1353.1 1418.4h2.6M1226.1 1420.9h2.6M1338.2 1420.9h2.6M1343.2 1420.9h5.1M1353.1 1420.9h2.6M1338.2 1423.4h2.6M1343.2 1423.4h2.6M1353.1 1423.4h2.6M1338.2 1425.9h2.6M1343.2 1425.9h5.1M1353.1 1425.9h2.6M1343.2 1428.4h5.1M1353.1 1428.4h2.6M1360.6 1428.4h2.6M1226.1 1430.8h2.6M1231.1 1430.8h2.6M1338.2 1430.8h2.6M1343.2 1430.8h2.6M1353.1 1430.8h2.6M1487.6 1448.2h2.6M1477.6 1458.1h2.6M1490.1 1460.6h5.1M1497.5 1460.6h2.6M1490.1 1463.1h5.1M1497.5 1463.1h2.6M1490.1 1468.0h5.1" stroke="#fdd074" stroke-width="2.73" fill="none"/><path d="M1191.3 1163.0h2.6M1236.1 1170.4h2.6M1236.1 1172.9h2.6M1221.2 1180.4h12.6M1211.2 1182.8h5.1M1221.2 1182.8h5.1M1233.6 1182.8h2.6M1211.2 1185.3h10.1M1223.7 1185.3h2.6M1233.6 1185.3h2.6M1213.7 1187.8h7.6M1223.7 1187.8h2.6M1233.6 1187.8h2.6M1213.7 1190.3h7.6M1233.6 1190.3h2.6M1208.7 1192.8h5.1M1208.7 1195.2h10.1M1208.7 1197.7h2.6M1208.7 1200.2h2.6M1208.7 1202.7h2.6M1211.2 1205.2h10.1M1198.8 1207.6h5.1M1450.2 1207.6h2.6M1460.2 1207.6h2.6M1300.8 1237.4h2.6M1298.3 1239.9h5.1M1298.3 1242.4h2.6M1295.9 1244.8h2.6M1298.3 1247.3h5.1M1278.4 1249.8h2.6M1285.9 1249.8h5.1M1293.4 1249.8h5.1M1298.3 1252.3h5.1M1285.9 1254.8h2.6M1295.9 1254.8h2.6M1278.4 1257.2h2.6M1283.4 1257.2h15.1M1278.4 1259.7h2.6M1285.9 1259.7h12.6M1285.9 1262.2h12.6M1278.4 1264.7h2.6M1285.9 1264.7h10.1M1273.5 1267.2h2.6M1278.4 1267.2h2.6M1283.4 1267.2h10.1M1268.5 1269.6h5.1M1275.9 1269.6h2.6M1280.9 1269.6h2.6M1266.0 1272.1h5.1M1275.9 1272.1h2.6M1280.9 1272.1h2.6M1450.2 1272.1h2.6M1460.2 1272.1h2.6M1452.7 1316.8h2.6M1460.2 1316.8h2.6M1415.4 1319.2h7.6M1435.3 1319.2h7.6M1445.3 1319.2h15.1M1415.4 1321.7h5.1M1437.8 1321.7h2.6M1445.3 1321.7h15.1M1415.4 1326.7h7.6M1435.3 1326.7h7.6M1445.3 1326.7h15.1M1410.4 1329.2h2.6M1415.4 1329.2h10.1M1430.3 1329.2h12.6M1445.3 1329.2h2.6M1457.7 1329.2h2.6M1445.3 1331.6h12.6M1460.2 1331.6h2.6M1410.4 1334.1h2.6M1415.4 1334.1h10.1M1430.3 1334.1h15.1M1457.7 1334.1h2.6M1410.4 1336.6h2.6M1415.4 1336.6h10.1M1430.3 1336.6h12.6M1457.7 1336.6h2.6M1415.4 1339.1h7.6M1435.3 1339.1h7.6M1445.3 1339.1h15.1M1400.4 1341.6h5.1M1410.4 1341.6h2.6M1415.4 1341.6h2.6M1420.4 1341.6h25.1M1390.5 1344.0h7.6M1400.4 1344.0h5.1M1412.9 1344.0h2.6M1422.8 1344.0h12.6M1442.8 1344.0h2.6M1410.4 1346.5h2.6M1415.4 1346.5h10.1M1430.3 1346.5h12.6M1457.7 1346.5h2.6M1378.0 1349.0h7.6M1390.5 1349.0h15.1M1407.9 1349.0h2.6M1412.9 1349.0h2.6M1425.3 1349.0h5.1M1442.8 1349.0h2.6M1378.0 1351.5h2.6M1383.0 1351.5h2.6M1390.5 1351.5h15.1M1407.9 1351.5h2.6M1412.9 1351.5h2.6M1425.3 1351.5h5.1M1442.8 1351.5h2.6M1378.0 1354.0h7.6M1390.5 1354.0h15.1M1407.9 1354.0h2.6M1412.9 1354.0h2.6M1427.8 1354.0h2.6M1410.4 1356.4h2.6M1415.4 1356.4h10.1M1430.3 1356.4h12.6M1457.7 1356.4h2.6M1390.5 1358.9h15.1M1407.9 1358.9h2.6M1412.9 1358.9h2.6M1425.3 1358.9h5.1M1442.8 1358.9h2.6M1373.0 1361.4h2.6M1378.0 1361.4h7.6M1388.0 1361.4h2.6M1405.4 1361.4h5.1M1373.0 1363.9h2.6M1378.0 1363.9h7.6M1388.0 1363.9h2.6M1405.4 1363.9h2.6M1373.0 1366.4h2.6M1378.0 1366.4h7.6M1388.0 1366.4h2.6M1405.4 1366.4h2.6M1378.0 1368.8h7.6M1388.0 1368.8h2.6M1370.6 1371.3h5.1M1378.0 1371.3h7.6M1388.0 1371.3h2.6M1370.6 1373.8h5.1M1378.0 1373.8h7.6M1388.0 1373.8h2.6M1390.5 1376.3h7.6M1407.9 1376.3h2.6M1412.9 1376.3h2.6M1425.3 1376.3h5.1M1442.8 1376.3h2.6M1378.0 1378.8h7.6M1388.0 1378.8h5.1M1405.4 1378.8h2.6M1358.1 1381.2h2.6M1363.1 1381.2h5.1M1370.6 1381.2h2.6M1375.5 1381.2h2.6M1385.5 1381.2h2.6M1373.0 1383.7h2.6M1378.0 1383.7h7.6M1388.0 1383.7h2.6M1405.4 1383.7h2.6M1348.2 1386.2h5.1M1355.6 1386.2h5.1M1363.1 1386.2h10.1M1375.5 1386.2h2.6M1385.5 1386.2h2.6M1348.2 1388.7h5.1M1355.6 1388.7h5.1M1363.1 1388.7h7.6M1375.5 1388.7h2.6M1385.5 1388.7h2.6M1348.2 1391.2h2.6M1355.6 1391.2h5.1M1363.1 1391.2h10.1M1375.5 1391.2h2.6M1385.5 1391.2h2.6M1358.1 1393.6h2.6M1363.1 1393.6h5.1M1370.6 1393.6h7.6M1385.5 1393.6h2.6M1370.6 1396.1h5.1M1378.0 1396.1h5.1M1388.0 1396.1h2.6M1405.4 1396.1h2.6M1370.6 1398.6h5.1M1378.0 1398.6h7.6M1388.0 1398.6h2.6M1405.4 1398.6h2.6M1358.1 1401.1h2.6M1363.1 1401.1h5.1M1370.6 1401.1h7.6M1385.5 1401.1h2.6M1358.1 1403.6h2.6M1363.1 1403.6h5.1M1370.6 1403.6h7.6M1385.5 1403.6h2.6M1348.2 1406.0h2.6M1355.6 1406.0h5.1M1363.1 1406.0h10.1M1375.5 1406.0h2.6M1385.5 1406.0h2.6M1348.2 1408.5h5.1M1355.6 1408.5h5.1M1363.1 1408.5h10.1M1375.5 1408.5h2.6M1385.5 1408.5h2.6M1348.2 1411.0h2.6M1355.6 1411.0h5.1M1363.1 1411.0h10.1M1375.5 1411.0h2.6M1385.5 1411.0h2.6M1363.1 1413.5h2.6M1370.6 1413.5h5.1M1378.0 1413.5h5.1M1388.0 1413.5h2.6M1405.4 1413.5h2.6M1348.2 1416.0h5.1M1355.6 1416.0h7.6M1368.1 1416.0h2.6M1348.2 1418.4h5.1M1355.6 1418.4h2.6M1360.6 1418.4h2.6M1368.1 1418.4h2.6M1236.1 1420.9h2.6M1300.8 1420.9h2.6M1348.2 1420.9h5.1M1355.6 1420.9h2.6M1360.6 1420.9h2.6M1368.1 1420.9h2.6M1345.7 1423.4h7.6M1355.6 1423.4h2.6M1360.6 1423.4h2.6M1368.1 1423.4h2.6M1348.2 1425.9h5.1M1355.6 1425.9h2.6M1360.6 1425.9h2.6M1368.1 1425.9h2.6M1348.2 1428.4h5.1M1355.6 1428.4h5.1M1363.1 1428.4h7.6M1375.5 1428.4h2.6M1385.5 1428.4h2.6M1236.1 1430.8h2.6M1300.8 1430.8h2.6M1345.7 1430.8h2.6M1360.6 1430.8h2.6M1480.1 1450.7h10.1M1480.1 1453.2h2.6M1480.1 1455.6h2.6M1480.1 1458.1h2.6M1495.1 1460.6h2.6M1500.0 1460.6h2.6M1495.1 1463.1h2.6M1500.0 1463.1h2.6M1490.1 1465.6h5.1M1497.5 1465.6h2.6M1495.1 1468.0h5.1M1490.1 1470.5h5.1" stroke="#fdc461" stroke-width="2.73" fill="none"/><path d="M1236.1 1180.4h2.6M1226.1 1182.8h7.6M1236.1 1182.8h2.6M1221.2 1185.3h2.6M1226.1 1185.3h7.6M1221.2 1187.8h2.6M1226.1 1187.8h7.6M1221.2 1190.3h12.6M1213.7 1192.8h7.6M1233.6 1192.8h2.6M1218.7 1195.2h2.6M1233.6 1195.2h2.6M1211.2 1197.7h10.1M1211.2 1200.2h10.1M1211.2 1202.7h10.1M1221.2 1205.2h5.1M1208.7 1207.6h5.1M1300.8 1242.4h2.6M1298.3 1244.8h5.1M1298.3 1249.8h2.6M1298.3 1254.8h5.1M1298.3 1257.2h2.6M1295.9 1264.7h2.6M1293.4 1267.2h2.6M1273.5 1269.6h2.6M1278.4 1269.6h2.6M1283.4 1269.6h5.1M1271.0 1272.1h5.1M1283.4 1272.1h2.6M1460.2 1319.2h2.6M1460.2 1321.7h2.6M1460.2 1326.7h2.6M1447.8 1329.2h10.1M1460.2 1329.2h2.6M1445.3 1334.1h12.6M1460.2 1334.1h2.6M1445.3 1336.6h12.6M1460.2 1336.6h2.6M1460.2 1339.1h2.6M1417.9 1341.6h2.6M1445.3 1341.6h15.1M1410.4 1344.0h2.6M1415.4 1344.0h7.6M1435.3 1344.0h7.6M1445.3 1344.0h7.6M1457.7 1344.0h2.6M1445.3 1346.5h12.6M1460.2 1346.5h2.6M1410.4 1349.0h2.6M1415.4 1349.0h10.1M1430.3 1349.0h12.6M1457.7 1349.0h2.6M1410.4 1351.5h2.6M1415.4 1351.5h10.1M1430.3 1351.5h12.6M1457.7 1351.5h2.6M1410.4 1354.0h2.6M1415.4 1354.0h2.6M1420.4 1354.0h7.6M1430.3 1354.0h15.1M1457.7 1354.0h2.6M1445.3 1356.4h12.6M1460.2 1356.4h2.6M1410.4 1358.9h2.6M1415.4 1358.9h10.1M1430.3 1358.9h12.6M1457.7 1358.9h2.6M1390.5 1361.4h15.1M1412.9 1361.4h2.6M1425.3 1361.4h5.1M1442.8 1361.4h2.6M1390.5 1363.9h15.1M1407.9 1363.9h2.6M1412.9 1363.9h2.6M1425.3 1363.9h5.1M1442.8 1363.9h2.6M1390.5 1366.4h15.1M1407.9 1366.4h2.6M1412.9 1366.4h2.6M1425.3 1366.4h5.1M1442.8 1366.4h2.6M1390.5 1368.8h12.6M1405.4 1368.8h5.1M1412.9 1368.8h2.6M1425.3 1368.8h5.1M1442.8 1368.8h2.6M1390.5 1371.3h10.1M1407.9 1371.3h2.6M1412.9 1371.3h2.6M1427.8 1371.3h2.6M1390.5 1373.8h7.6M1407.9 1373.8h2.6M1412.9 1373.8h2.6M1427.8 1373.8h2.6M1398.0 1376.3h2.6M1405.4 1376.3h2.6M1410.4 1376.3h2.6M1415.4 1376.3h10.1M1430.3 1376.3h12.6M1457.7 1376.3h2.6M1393.0 1378.8h12.6M1407.9 1378.8h2.6M1373.0 1381.2h2.6M1378.0 1381.2h7.6M1388.0 1381.2h2.6M1405.4 1381.2h2.6M1390.5 1383.7h15.1M1373.0 1386.2h2.6M1378.0 1386.2h7.6M1388.0 1386.2h2.6M1405.4 1386.2h2.6M1370.6 1388.7h5.1M1378.0 1388.7h5.1M1388.0 1388.7h2.6M1405.4 1388.7h2.6M1373.0 1391.2h2.6M1378.0 1391.2h7.6M1388.0 1391.2h2.6M1405.4 1391.2h2.6M1378.0 1393.6h7.6M1388.0 1393.6h2.6M1405.4 1393.6h2.6M1383.0 1396.1h2.6M1390.5 1396.1h10.1M1390.5 1398.6h15.1M1378.0 1401.1h7.6M1388.0 1401.1h2.6M1405.4 1401.1h2.6M1378.0 1403.6h7.6M1388.0 1403.6h2.6M1405.4 1403.6h2.6M1373.0 1406.0h2.6M1378.0 1406.0h7.6M1388.0 1406.0h2.6M1405.4 1406.0h2.6M1373.0 1408.5h2.6M1378.0 1408.5h7.6M1388.0 1408.5h2.6M1405.4 1408.5h2.6M1373.0 1411.0h2.6M1378.0 1411.0h7.6M1388.0 1411.0h2.6M1405.4 1411.0h2.6M1383.0 1413.5h2.6M1390.5 1413.5h10.1M1363.1 1416.0h5.1M1370.6 1416.0h7.6M1385.5 1416.0h2.6M1358.1 1418.4h2.6M1363.1 1418.4h5.1M1370.6 1418.4h7.6M1385.5 1418.4h2.6M1358.1 1420.9h2.6M1363.1 1420.9h5.1M1370.6 1420.9h7.6M1385.5 1420.9h2.6M1358.1 1423.4h2.6M1363.1 1423.4h5.1M1370.6 1423.4h2.6M1375.5 1423.4h2.6M1385.5 1423.4h2.6M1358.1 1425.9h2.6M1363.1 1425.9h5.1M1370.6 1425.9h2.6M1375.5 1425.9h2.6M1385.5 1425.9h2.6M1370.6 1428.4h5.1M1378.0 1428.4h7.6M1388.0 1428.4h2.6M1405.4 1428.4h2.6M1348.2 1430.8h5.1M1355.6 1430.8h5.1M1363.1 1430.8h7.6M1375.5 1430.8h2.6M1385.5 1430.8h2.6M1482.6 1453.2h7.6M1482.6 1455.6h7.6M1482.6 1458.1h5.1M1500.0 1468.0h2.6M1497.5 1470.5h2.6" stroke="#fcb650" stroke-width="2.73" fill="none"/><path d="M1236.1 1185.3h2.6M1236.1 1187.8h2.6M1236.1 1190.3h2.6M1221.2 1192.8h12.6M1221.2 1195.2h5.1M1228.6 1195.2h5.1M1221.2 1197.7h2.6M1233.6 1197.7h2.6M1221.2 1200.2h5.1M1233.6 1200.2h2.6M1221.2 1202.7h5.1M1226.1 1205.2h5.1M1233.6 1205.2h2.6M1213.7 1207.6h7.6M1300.8 1249.8h2.6M1300.8 1257.2h2.6M1298.3 1259.7h5.1M1298.3 1262.2h5.1M1298.3 1264.7h5.1M1295.9 1267.2h2.6M1288.4 1269.6h7.6M1278.4 1272.1h2.6M1285.9 1272.1h10.1M1460.2 1341.6h2.6M1452.7 1344.0h5.1M1460.2 1344.0h2.6M1445.3 1349.0h12.6M1460.2 1349.0h2.6M1445.3 1351.5h12.6M1460.2 1351.5h2.6M1417.9 1354.0h2.6M1445.3 1354.0h12.6M1445.3 1358.9h12.6M1460.2 1358.9h2.6M1410.4 1361.4h2.6M1415.4 1361.4h10.1M1430.3 1361.4h12.6M1457.7 1361.4h2.6M1410.4 1363.9h2.6M1415.4 1363.9h10.1M1430.3 1363.9h12.6M1457.7 1363.9h2.6M1410.4 1366.4h2.6M1415.4 1366.4h10.1M1430.3 1366.4h12.6M1457.7 1366.4h2.6M1402.9 1368.8h2.6M1410.4 1368.8h2.6M1415.4 1368.8h10.1M1430.3 1368.8h12.6M1457.7 1368.8h2.6M1405.4 1371.3h2.6M1410.4 1371.3h2.6M1422.8 1371.3h5.1M1430.3 1371.3h5.1M1440.3 1371.3h5.1M1398.0 1373.8h2.6M1405.4 1373.8h2.6M1410.4 1373.8h2.6M1422.8 1373.8h5.1M1430.3 1373.8h7.6M1440.3 1373.8h5.1M1400.4 1376.3h5.1M1445.3 1376.3h12.6M1460.2 1376.3h2.6M1412.9 1378.8h2.6M1425.3 1378.8h5.1M1442.8 1378.8h2.6M1390.5 1381.2h15.1M1407.9 1383.7h2.6M1412.9 1383.7h2.6M1427.8 1383.7h2.6M1390.5 1386.2h10.1M1383.0 1388.7h2.6M1390.5 1388.7h10.1M1390.5 1391.2h10.1M1390.5 1393.6h15.1M1400.4 1396.1h5.1M1407.9 1396.1h2.6M1407.9 1398.6h2.6M1412.9 1398.6h2.6M1390.5 1401.1h15.1M1390.5 1403.6h15.1M1390.5 1406.0h10.1M1402.9 1406.0h2.6M1390.5 1408.5h10.1M1390.5 1411.0h15.1M1400.4 1413.5h5.1M1407.9 1413.5h2.6M1378.0 1416.0h7.6M1388.0 1416.0h2.6M1405.4 1416.0h2.6M1378.0 1418.4h7.6M1388.0 1418.4h2.6M1405.4 1418.4h2.6M1378.0 1420.9h7.6M1388.0 1420.9h2.6M1405.4 1420.9h2.6M1373.0 1423.4h2.6M1378.0 1423.4h7.6M1388.0 1423.4h2.6M1405.4 1423.4h2.6M1373.0 1425.9h2.6M1378.0 1425.9h7.6M1388.0 1425.9h2.6M1405.4 1425.9h2.6M1390.5 1428.4h10.1M1370.6 1430.8h5.1M1378.0 1430.8h5.1M1388.0 1430.8h2.6M1405.4 1430.8h2.6M1495.1 1465.6h2.6M1500.0 1465.6h2.6M1495.1 1470.5h2.6" stroke="#fba93f" stroke-width="2.73" fill="none"/><path d="M1236.1 1192.8h2.6M1226.1 1195.2h2.6M1236.1 1195.2h2.6M1223.7 1197.7h10.1M1226.1 1200.2h2.6M1231.1 1200.2h2.6M1226.1 1202.7h5.1M1233.6 1202.7h2.6M1231.1 1205.2h2.6M1221.2 1207.6h5.1M1298.3 1267.2h5.1M1295.9 1269.6h2.6M1295.9 1272.1h2.6M1460.2 1354.0h2.6M1445.3 1361.4h12.6M1460.2 1361.4h2.6M1445.3 1363.9h12.6M1460.2 1363.9h2.6M1445.3 1366.4h12.6M1460.2 1366.4h2.6M1445.3 1368.8h12.6M1460.2 1368.8h2.6M1400.4 1371.3h5.1M1415.4 1371.3h7.6M1435.3 1371.3h5.1M1445.3 1371.3h2.6M1457.7 1371.3h2.6M1400.4 1373.8h5.1M1415.4 1373.8h7.6M1437.8 1373.8h2.6M1445.3 1373.8h2.6M1457.7 1373.8h2.6M1410.4 1378.8h2.6M1415.4 1378.8h10.1M1430.3 1378.8h12.6M1457.7 1378.8h2.6M1407.9 1381.2h2.6M1412.9 1381.2h2.6M1427.8 1381.2h2.6M1410.4 1383.7h2.6M1422.8 1383.7h5.1M1430.3 1383.7h7.6M1440.3 1383.7h5.1M1400.4 1386.2h5.1M1407.9 1386.2h2.6M1400.4 1388.7h5.1M1407.9 1388.7h2.6M1400.4 1391.2h5.1M1407.9 1391.2h2.6M1407.9 1393.6h2.6M1412.9 1393.6h2.6M1412.9 1396.1h2.6M1425.3 1396.1h5.1M1442.8 1396.1h2.6M1410.4 1398.6h2.6M1425.3 1398.6h5.1M1442.8 1398.6h2.6M1407.9 1401.1h2.6M1412.9 1401.1h2.6M1407.9 1403.6h2.6M1412.9 1403.6h2.6M1400.4 1406.0h2.6M1407.9 1406.0h2.6M1412.9 1406.0h2.6M1400.4 1408.5h5.1M1407.9 1408.5h2.6M1407.9 1411.0h2.6M1412.9 1411.0h2.6M1412.9 1413.5h2.6M1425.3 1413.5h5.1M1390.5 1416.0h15.1M1390.5 1418.4h10.1M1390.5 1420.9h10.1M1390.5 1423.4h10.1M1390.5 1425.9h10.1M1400.4 1428.4h5.1M1407.9 1428.4h2.6M1383.0 1430.8h2.6M1390.5 1430.8h10.1M1487.6 1458.1h2.6M1500.0 1470.5h2.6" stroke="#f99c33" stroke-width="2.73" fill="none"/><path d="M1236.1 1197.7h2.6M1228.6 1200.2h2.6M1236.1 1200.2h2.6M1231.1 1202.7h2.6M1236.1 1205.2h2.6M1226.1 1207.6h5.1M1233.6 1207.6h2.6M1447.8 1371.3h10.1M1460.2 1371.3h2.6M1447.8 1373.8h10.1M1460.2 1373.8h2.6M1445.3 1378.8h12.6M1460.2 1378.8h2.6M1425.3 1381.2h2.6M1430.3 1381.2h5.1M1442.8 1381.2h2.6M1415.4 1383.7h7.6M1437.8 1383.7h2.6M1445.3 1383.7h2.6M1457.7 1383.7h2.6M1412.9 1386.2h2.6M1425.3 1386.2h5.1M1442.8 1386.2h2.6M1412.9 1388.7h2.6M1425.3 1388.7h5.1M1442.8 1388.7h2.6M1412.9 1391.2h2.6M1425.3 1391.2h5.1M1442.8 1391.2h2.6M1425.3 1393.6h5.1M1442.8 1393.6h2.6M1410.4 1396.1h2.6M1415.4 1396.1h10.1M1430.3 1396.1h12.6M1457.7 1396.1h2.6M1415.4 1398.6h10.1M1430.3 1398.6h12.6M1457.7 1398.6h2.6M1410.4 1401.1h2.6M1425.3 1401.1h5.1M1442.8 1401.1h2.6M1410.4 1403.6h2.6M1425.3 1403.6h5.1M1442.8 1403.6h2.6M1425.3 1406.0h5.1M1412.9 1408.5h2.6M1425.3 1408.5h5.1M1425.3 1411.0h5.1M1410.4 1413.5h2.6M1415.4 1413.5h10.1M1430.3 1413.5h5.1M1442.8 1413.5h2.6M1407.9 1416.0h2.6M1412.9 1416.0h2.6M1400.4 1418.4h5.1M1407.9 1418.4h2.6M1400.4 1420.9h5.1M1407.9 1420.9h2.6M1400.4 1423.4h5.1M1407.9 1423.4h2.6M1400.4 1425.9h5.1M1407.9 1425.9h2.6M1412.9 1428.4h2.6M1425.3 1428.4h5.1M1400.4 1430.8h5.1M1407.9 1430.8h2.6" stroke="#f78f29" stroke-width="2.73" fill="none"/><path d="M1236.1 1202.7h2.6M1231.1 1207.6h2.6M1298.3 1269.6h2.6M1410.4 1381.2h2.6M1415.4 1381.2h10.1M1435.3 1381.2h7.6M1457.7 1381.2h2.6M1447.8 1383.7h10.1M1460.2 1383.7h2.6M1410.4 1386.2h2.6M1415.4 1386.2h2.6M1420.4 1386.2h5.1M1430.3 1386.2h12.6M1457.7 1386.2h2.6M1410.4 1388.7h2.6M1422.8 1388.7h2.6M1430.3 1388.7h7.6M1440.3 1388.7h2.6M1410.4 1391.2h2.6M1415.4 1391.2h2.6M1420.4 1391.2h5.1M1430.3 1391.2h12.6M1457.7 1391.2h2.6M1410.4 1393.6h2.6M1415.4 1393.6h10.1M1430.3 1393.6h12.6M1457.7 1393.6h2.6M1445.3 1396.1h7.6M1455.2 1396.1h2.6M1445.3 1398.6h12.6M1415.4 1401.1h10.1M1430.3 1401.1h12.6M1457.7 1401.1h2.6M1415.4 1403.6h10.1M1430.3 1403.6h12.6M1457.7 1403.6h2.6M1410.4 1406.0h2.6M1415.4 1406.0h10.1M1430.3 1406.0h5.1M1442.8 1406.0h2.6M1410.4 1408.5h2.6M1415.4 1408.5h2.6M1420.4 1408.5h5.1M1430.3 1408.5h5.1M1442.8 1408.5h2.6M1410.4 1411.0h2.6M1415.4 1411.0h10.1M1430.3 1411.0h5.1M1442.8 1411.0h2.6M1435.3 1413.5h7.6M1457.7 1413.5h2.6M1425.3 1416.0h5.1M1412.9 1418.4h2.6M1425.3 1418.4h5.1M1412.9 1420.9h2.6M1425.3 1420.9h5.1M1412.9 1423.4h2.6M1427.8 1423.4h2.6M1412.9 1425.9h2.6M1425.3 1425.9h5.1M1410.4 1428.4h2.6M1415.4 1428.4h2.6M1420.4 1428.4h5.1M1430.3 1428.4h5.1M1442.8 1428.4h2.6M1412.9 1430.8h2.6" stroke="#f5821f" stroke-width="2.73" fill="none"/><path d="M1236.1 1207.6h2.6M1300.8 1269.6h2.6M1298.3 1272.1h2.6M1445.3 1381.2h12.6M1460.2 1381.2h2.6M1417.9 1386.2h2.6M1445.3 1386.2h12.6M1415.4 1388.7h7.6M1437.8 1388.7h2.6M1445.3 1388.7h2.6M1457.7 1388.7h2.6M1417.9 1391.2h2.6M1445.3 1391.2h7.6M1455.2 1391.2h2.6M1445.3 1393.6h12.6M1452.7 1396.1h2.6M1460.2 1396.1h2.6M1460.2 1398.6h2.6M1445.3 1401.1h12.6M1445.3 1403.6h2.6M1435.3 1406.0h7.6M1457.7 1406.0h2.6M1417.9 1408.5h2.6M1435.3 1408.5h7.6M1457.7 1408.5h2.6M1435.3 1411.0h7.6M1457.7 1411.0h2.6M1445.3 1413.5h12.6M1460.2 1413.5h2.6M1410.4 1416.0h2.6M1415.4 1416.0h10.1M1430.3 1416.0h5.1M1442.8 1416.0h2.6M1410.4 1418.4h2.6M1415.4 1418.4h2.6M1420.4 1418.4h5.1M1430.3 1418.4h2.6M1442.8 1418.4h2.6M1410.4 1420.9h2.6M1415.4 1420.9h2.6M1420.4 1420.9h5.1M1430.3 1420.9h2.6M1442.8 1420.9h2.6M1410.4 1423.4h2.6M1415.4 1423.4h2.6M1422.8 1423.4h5.1M1430.3 1423.4h2.6M1442.8 1423.4h2.6M1410.4 1425.9h2.6M1415.4 1425.9h2.6M1420.4 1425.9h5.1M1430.3 1425.9h2.6M1442.8 1425.9h2.6M1417.9 1428.4h2.6M1435.3 1428.4h7.6M1410.4 1430.8h2.6M1425.3 1430.8h5.1M1442.8 1430.8h2.6" stroke="#f37120" stroke-width="2.73" fill="none"/><path d="M1300.8 1272.1h2.6M1460.2 1386.2h2.6M1447.8 1388.7h10.1M1460.2 1388.7h2.6M1452.7 1391.2h2.6M1460.2 1391.2h2.6M1460.2 1393.6h2.6M1460.2 1401.1h2.6M1447.8 1403.6h10.1M1460.2 1403.6h2.6M1445.3 1406.0h12.6M1460.2 1406.0h2.6M1445.3 1408.5h12.6M1445.3 1411.0h12.6M1460.2 1411.0h2.6M1435.3 1416.0h7.6M1457.7 1416.0h2.6M1417.9 1418.4h2.6M1432.8 1418.4h10.1M1417.9 1420.9h2.6M1432.8 1420.9h10.1M1417.9 1423.4h5.1M1432.8 1423.4h10.1M1417.9 1425.9h2.6M1432.8 1425.9h10.1M1445.3 1428.4h2.6M1457.7 1428.4h2.6M1415.4 1430.8h10.1M1430.3 1430.8h7.6M1440.3 1430.8h2.6" stroke="#f26022" stroke-width="2.73" fill="none"/><path d="M1460.2 1408.5h2.6M1445.3 1416.0h12.6M1445.3 1418.4h2.6M1457.7 1418.4h2.6M1445.3 1420.9h2.6M1457.7 1420.9h2.6M1445.3 1423.4h2.6M1457.7 1423.4h2.6M1445.3 1425.9h2.6M1457.7 1425.9h2.6M1447.8 1428.4h10.1M1460.2 1428.4h2.6M1437.8 1430.8h2.6M1457.7 1430.8h2.6" stroke="#ef4b23" stroke-width="2.73" fill="none"/><path d="M1460.2 1416.0h2.6M1447.8 1418.4h10.1M1460.2 1418.4h2.6M1447.8 1420.9h10.1M1460.2 1420.9h2.6M1447.8 1423.4h10.1M1447.8 1425.9h10.1M1445.3 1430.8h7.6" stroke="#ed3524" stroke-width="2.73" fill="none"/><path d="M1460.2 1423.4h2.6M1460.2 1425.9h2.6M1452.7 1430.8h5.1M1460.2 1430.8h2.6" stroke="#ec2a24" stroke-width="2.73" fill="none"/>
</g>
</svg></body></html>
